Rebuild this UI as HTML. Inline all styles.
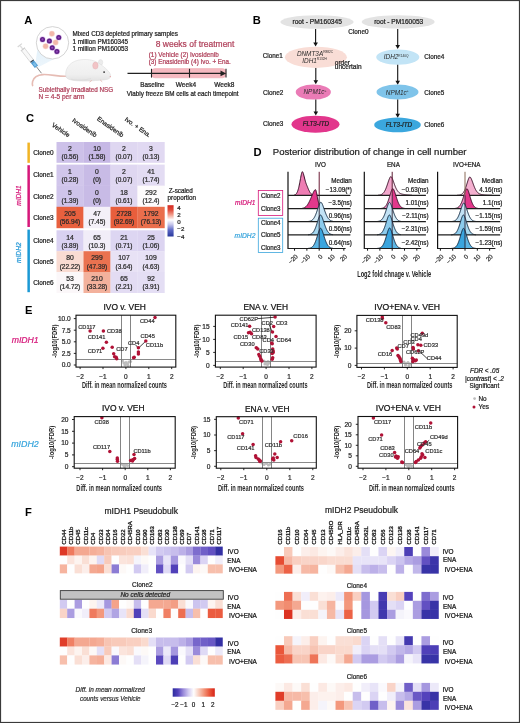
<!DOCTYPE html>
<html><head><meta charset="utf-8"><style>
html,body{margin:0;padding:0;background:#fff;overflow:hidden;}
svg{display:block;will-change:transform;}
text{font-family:"Liberation Sans",sans-serif;}
</style></head><body>
<svg width="520" height="723" viewBox="0 0 520 723">
<rect x="0" y="0" width="520" height="723" fill="#fff"/>
<text x="24.30" y="23.80" font-size="11.2" fill="#000" font-weight="bold">A</text>
<defs><linearGradient id="cone" x1="0" y1="0" x2="0" y2="1"><stop offset="0" stop-color="#d8ecf8" stop-opacity="0.9"/><stop offset="1" stop-color="#cfe6f6" stop-opacity="0.5"/></linearGradient></defs>
<polygon points="37.5,49 55,58.5 38.2,67.2 35.2,64.2" fill="url(#cone)" opacity="0.75"/>
<circle cx="52.5" cy="42.8" r="16.2" fill="#fff" stroke="#c9c9c9" stroke-width="0.8"/>
<circle cx="51.9" cy="33.75" r="3.0" fill="#f6cbc0" opacity="0.7"/><circle cx="51.9" cy="33.75" r="2.4" fill="#f2b8aa"/>
<circle cx="55.6" cy="42.5" r="3.0" fill="#f6cbc0" opacity="0.7"/><circle cx="55.6" cy="42.5" r="2.4" fill="#f2b8aa"/>
<circle cx="45.6" cy="46.25" r="3.0" fill="#f6cbc0" opacity="0.7"/><circle cx="45.6" cy="46.25" r="2.4" fill="#f2b8aa"/>
<circle cx="42.5" cy="39.4" r="3.1" fill="#c890e0" opacity="0.5"/><circle cx="42.5" cy="39.4" r="2.5" fill="#5e1f86"/><circle cx="42.5" cy="39.4" r="1.1" fill="#9248b8"/>
<circle cx="49.4" cy="41" r="3.1" fill="#c890e0" opacity="0.5"/><circle cx="49.4" cy="41" r="2.5" fill="#5e1f86"/><circle cx="49.4" cy="41" r="1.1" fill="#9248b8"/>
<circle cx="58.75" cy="37.5" r="3.1" fill="#c890e0" opacity="0.5"/><circle cx="58.75" cy="37.5" r="2.5" fill="#5e1f86"/><circle cx="58.75" cy="37.5" r="1.1" fill="#9248b8"/>
<circle cx="52.25" cy="47.75" r="3.1" fill="#c890e0" opacity="0.5"/><circle cx="52.25" cy="47.75" r="2.5" fill="#5e1f86"/><circle cx="52.25" cy="47.75" r="1.1" fill="#9248b8"/>
<circle cx="56.9" cy="51.6" r="3.1" fill="#c890e0" opacity="0.5"/><circle cx="56.9" cy="51.6" r="2.5" fill="#5e1f86"/><circle cx="56.9" cy="51.6" r="1.1" fill="#9248b8"/>
<g transform="translate(19.8,45.3) rotate(52.2)"><rect x="-0.6" y="-2.7" width="1.2" height="5.4" fill="#d6d6d6"/><rect x="0.5" y="-0.7" width="4.4" height="1.4" fill="#dedede"/><rect x="4.6" y="-2.6" width="1" height="5.2" fill="#cacaca"/><rect x="5.4" y="-2.0" width="14.4" height="4.0" fill="#f8f8f8" stroke="#c6c6c6" stroke-width="0.6"/><rect x="19.4" y="-2.0" width="1.3" height="4.0" fill="#3a4a5a"/><rect x="20.7" y="-2.0" width="6.4" height="4.0" fill="#4d9ad2"/><rect x="22.5" y="-1.2" width="3.8" height="2.4" fill="#7cbce6"/><line x1="27.1" y1="0" x2="35.4" y2="0" stroke="#555" stroke-width="0.65"/></g>
<path d="M66,76.3 C58,76.6 50,74.2 43,74.6 C37,75 33.5,78 32.6,81.5 C32.2,83.2 32.3,84.6 32.6,85.6" fill="none" stroke="#e6bcb4" stroke-width="1.6" stroke-linecap="round"/>
<defs><linearGradient id="mb" x1="0" y1="0" x2="0" y2="1"><stop offset="0" stop-color="#f6f6f6"/><stop offset="0.7" stop-color="#efefef"/><stop offset="1" stop-color="#e2e2e2"/></linearGradient></defs>
<ellipse cx="100.6" cy="62.4" rx="2.2" ry="2.8" fill="#ececec" stroke="#dcdcdc" stroke-width="0.4"/>
<path d="M66,77 C64.5,70 68.5,62.5 78,60.2 C86,58.6 93,59.8 97.5,62.5 C101.5,64.8 106,68.2 109,72 C111.5,75 111.2,78.3 107.5,79.3 C102,80.6 96,80.4 92,80.8 C86,81.3 80,81 74,80.5 C70,80 67,79 66,77 Z" fill="url(#mb)" stroke="#d8d8d8" stroke-width="0.5"/>
<path d="M71,79.2 C77,80.6 85,80.2 91,78.6" fill="none" stroke="#dadada" stroke-width="0.7"/>
<ellipse cx="95.4" cy="65.6" rx="2.7" ry="3.5" fill="#f2c4c6" stroke="#e0aeb2" stroke-width="0.4"/>
<circle cx="104.1" cy="72.1" r="0.85" fill="#2a2a2a"/>
<circle cx="110.3" cy="76.6" r="0.7" fill="#e8a0a0"/>
<path d="M91.5,80.6 l-1.6,1.2 M100.5,80.2 l1.4,1.3" stroke="#e5bab2" stroke-width="0.9" stroke-linecap="round"/>
<text x="72.50" y="35.50" font-size="6.33" fill="#1e1e1e" textLength="105.5" lengthAdjust="spacingAndGlyphs" stroke="#1e1e1e" stroke-width="0.22">Mixed CD3 depleted primary samples</text>
<text x="72.50" y="43.80" font-size="6.33" fill="#1e1e1e" stroke="#1e1e1e" stroke-width="0.22">1 million PM160345</text>
<text x="72.50" y="51.40" font-size="6.33" fill="#1e1e1e" stroke="#1e1e1e" stroke-width="0.22">1 million PM160053</text>
<text x="155.75" y="46.60" font-size="8.5" fill="#b0405a" textLength="78.7" lengthAdjust="spacingAndGlyphs" stroke="#b0405a" stroke-width="0.22">8 weeks of treatment</text>
<text x="148.75" y="56.50" font-size="6.3" fill="#b0405a" textLength="70" lengthAdjust="spacingAndGlyphs" stroke="#b0405a" stroke-width="0.22">(1) Vehicle (2) Ivosidenib</text>
<text x="148.75" y="63.80" font-size="6.3" fill="#b0405a" textLength="82" lengthAdjust="spacingAndGlyphs" stroke="#b0405a" stroke-width="0.22">(3) Enasidenib (4) Ivo. + Ena.</text>
<rect x="151.5" y="68.6" width="74.4" height="9.2" rx="3.5" fill="#f6b9c0" stroke="#eea2ad" stroke-width="0.5"/>
<line x1="127.5" y1="73.4" x2="222" y2="73.4" stroke="#222" stroke-width="1.1"/>
<polygon points="220.5,70.6 226.2,73.4 220.5,76.2" fill="#222"/>
<line x1="151.5" y1="68.8" x2="151.5" y2="77.6" stroke="#222" stroke-width="1.1"/>
<line x1="189.5" y1="68.8" x2="189.5" y2="77.6" stroke="#222" stroke-width="1.1"/>
<line x1="226.0" y1="68.8" x2="226.0" y2="77.6" stroke="#222" stroke-width="1.1"/>
<text x="140.30" y="86.60" font-size="6.4" fill="#1e1e1e" textLength="24.3" lengthAdjust="spacingAndGlyphs" stroke="#1e1e1e" stroke-width="0.22">Baseline</text>
<text x="175.80" y="86.60" font-size="6.4" fill="#1e1e1e" textLength="20.3" lengthAdjust="spacingAndGlyphs" stroke="#1e1e1e" stroke-width="0.22">Week4</text>
<text x="214.30" y="86.60" font-size="6.4" fill="#1e1e1e" textLength="20.1" lengthAdjust="spacingAndGlyphs" stroke="#1e1e1e" stroke-width="0.22">Week8</text>
<text x="126.80" y="95.70" font-size="6.4" fill="#1e1e1e" textLength="111.8" lengthAdjust="spacingAndGlyphs" stroke="#1e1e1e" stroke-width="0.22">Viably freeze BM cells at each timepoint</text>
<text x="38.60" y="91.60" font-size="6.33" fill="#b0405a" textLength="74.6" lengthAdjust="spacingAndGlyphs" stroke="#b0405a" stroke-width="0.22">Sublethally irradiated NSG</text>
<text x="38.60" y="99.40" font-size="6.4" fill="#b0405a" textLength="45.9" lengthAdjust="spacingAndGlyphs" stroke="#b0405a" stroke-width="0.22">N = 4-5 per arm</text>
<text x="252.80" y="23.90" font-size="11.2" fill="#000" font-weight="bold">B</text>
<ellipse cx="317" cy="22" rx="36.7" ry="6.7" fill="#e3e3e3"/>
<text x="317.20" y="24.00" font-size="6.6" fill="#1e1e1e" text-anchor="middle" textLength="49.5" lengthAdjust="spacingAndGlyphs" stroke="#1e1e1e" stroke-width="0.22">root - PM160345</text>
<ellipse cx="398.2" cy="21.9" rx="36.5" ry="6.6" fill="#e3e3e3"/>
<text x="398.70" y="24.00" font-size="6.6" fill="#1e1e1e" text-anchor="middle" textLength="49.1" lengthAdjust="spacingAndGlyphs" stroke="#1e1e1e" stroke-width="0.22">root - PM160053</text>
<text x="348.30" y="33.80" font-size="6.4" fill="#1e1e1e" textLength="20.2" lengthAdjust="spacingAndGlyphs" stroke="#1e1e1e" stroke-width="0.22">Clone0</text>
<line x1="315.6" y1="29" x2="315.6" y2="43.3" stroke="#111" stroke-width="1.1"/>
<polygon points="313.3,42.5 315.6,46.5 317.90000000000003,42.5" fill="#111"/>
<line x1="397.7" y1="29" x2="397.7" y2="45.8" stroke="#111" stroke-width="1.1"/>
<polygon points="395.4,45 397.7,49 400.0,45" fill="#111"/>
<ellipse cx="315.9" cy="57.3" rx="31" ry="10.6" fill="#f9ddd6"/>
<text x="296.9" y="55.9" font-size="6.4" font-style="italic" fill="#2a2a2a">DNMT3A<tspan font-size="3.2" dy="-2.6" font-style="normal">R882C</tspan></text>
<text x="302.3" y="62.7" font-size="6.4" font-style="italic" fill="#2a2a2a">IDH1<tspan font-size="3.2" dy="-2.6" font-style="normal">R132H</tspan></text>
<text x="334.80" y="64.50" font-size="6.5" fill="#1e1e1e" stroke="#1e1e1e" stroke-width="0.22">order</text>
<text x="334.80" y="69.30" font-size="6.5" fill="#1e1e1e" stroke="#1e1e1e" stroke-width="0.22">uncertain</text>
<text x="262.70" y="58.00" font-size="6.4" fill="#1e1e1e" textLength="20.1" lengthAdjust="spacingAndGlyphs" stroke="#1e1e1e" stroke-width="0.22">Clone1</text>
<line x1="315.8" y1="68" x2="315.8" y2="81.0" stroke="#111" stroke-width="1.1"/>
<polygon points="313.5,80.2 315.8,84.2 318.1,80.2" fill="#111"/>
<ellipse cx="313.3" cy="92.1" rx="17.6" ry="7.5" fill="#ea7bb6"/>
<text x="303.5" y="94.4" font-size="6.4" font-style="italic" fill="#2a2a2a">NPM1c<tspan font-size="3.4" dy="-2.6" font-style="normal">+</tspan></text>
<text x="263.00" y="94.50" font-size="6.4" fill="#1e1e1e" textLength="20.3" lengthAdjust="spacingAndGlyphs" stroke="#1e1e1e" stroke-width="0.22">Clone2</text>
<line x1="315.8" y1="99.6" x2="315.8" y2="112.39999999999999" stroke="#111" stroke-width="1.1"/>
<polygon points="313.5,111.6 315.8,115.6 318.1,111.6" fill="#111"/>
<ellipse cx="315.5" cy="124.2" rx="24" ry="8.5" fill="#e2368c"/>
<text x="302.70" y="126.30" font-size="6.4" fill="#1e1e1e" font-style="italic" textLength="26.3" lengthAdjust="spacingAndGlyphs" stroke="#1e1e1e" stroke-width="0.22">FLT3-ITD</text>
<text x="263.00" y="126.30" font-size="6.4" fill="#1e1e1e" textLength="20.3" lengthAdjust="spacingAndGlyphs" stroke="#1e1e1e" stroke-width="0.22">Clone3</text>
<ellipse cx="397.8" cy="57.1" rx="21.6" ry="7.7" fill="#c2e4f6"/>
<text x="383.8" y="59.2" font-size="6.4" font-style="italic" fill="#2a2a2a">IDH2<tspan font-size="3.2" dy="-2.6" font-style="normal">R140Q</tspan></text>
<text x="424.20" y="58.70" font-size="6.4" fill="#1e1e1e" textLength="20.2" lengthAdjust="spacingAndGlyphs" stroke="#1e1e1e" stroke-width="0.22">Clone4</text>
<line x1="397.7" y1="64.8" x2="397.7" y2="81.6" stroke="#111" stroke-width="1.1"/>
<polygon points="395.4,80.8 397.7,84.8 400.0,80.8" fill="#111"/>
<ellipse cx="397.5" cy="92" rx="21" ry="7.4" fill="#7fc4ea"/>
<text x="385.8" y="94.6" font-size="6.4" font-style="italic" fill="#2a2a2a">NPM1c<tspan font-size="3.4" dy="-2.6" font-style="normal">+</tspan></text>
<text x="424.20" y="94.70" font-size="6.4" fill="#1e1e1e" textLength="20.2" lengthAdjust="spacingAndGlyphs" stroke="#1e1e1e" stroke-width="0.22">Clone5</text>
<line x1="397.7" y1="99.4" x2="397.7" y2="114.6" stroke="#111" stroke-width="1.1"/>
<polygon points="395.4,113.8 397.7,117.8 400.0,113.8" fill="#111"/>
<ellipse cx="397.5" cy="124.9" rx="23.3" ry="7.3" fill="#3ba7de"/>
<text x="385.80" y="126.90" font-size="6.4" fill="#1e1e1e" font-style="italic" textLength="26.3" lengthAdjust="spacingAndGlyphs" stroke="#1e1e1e" stroke-width="0.22">FLT3-ITD</text>
<text x="424.20" y="126.90" font-size="6.4" fill="#1e1e1e" textLength="20.2" lengthAdjust="spacingAndGlyphs" stroke="#1e1e1e" stroke-width="0.22">Clone6</text>
<text x="25.90" y="121.80" font-size="11.2" fill="#000" font-weight="bold">C</text>
<rect x="56.5" y="142" width="27.20" height="20.80" fill="#cdc1e9"/>
<rect x="83.5" y="142" width="27.20" height="20.80" fill="#c6b8e5"/>
<rect x="110.5" y="142" width="27.20" height="20.80" fill="#dfd7f1"/>
<rect x="137.5" y="142" width="27.20" height="20.80" fill="#e1d9f2"/>
<rect x="56.5" y="164.6" width="27.20" height="21.30" fill="#d1c6eb"/>
<rect x="83.5" y="164.6" width="27.20" height="21.30" fill="#c8bbe6"/>
<rect x="110.5" y="164.6" width="27.20" height="21.30" fill="#dfd7f1"/>
<rect x="137.5" y="164.6" width="27.20" height="21.30" fill="#e3dcf3"/>
<rect x="56.5" y="185.7" width="27.20" height="21.30" fill="#cfc4ea"/>
<rect x="83.5" y="185.7" width="27.20" height="21.30" fill="#c8bbe6"/>
<rect x="110.5" y="185.7" width="27.20" height="21.30" fill="#dfd7f1"/>
<rect x="137.5" y="185.7" width="27.20" height="21.30" fill="#fdfbfc"/>
<rect x="56.5" y="206.8" width="27.20" height="21.40" fill="#e8603e"/>
<rect x="83.5" y="206.8" width="27.20" height="21.40" fill="#f4f0f8"/>
<rect x="110.5" y="206.8" width="27.20" height="21.40" fill="#e85e3c"/>
<rect x="137.5" y="206.8" width="27.20" height="21.40" fill="#ea6e4c"/>
<rect x="56.5" y="230.3" width="27.20" height="21.10" fill="#d9d1f1"/>
<rect x="83.5" y="230.3" width="27.20" height="21.10" fill="#f1edf8"/>
<rect x="110.5" y="230.3" width="27.20" height="21.10" fill="#ddd6f2"/>
<rect x="137.5" y="230.3" width="27.20" height="21.10" fill="#dcd4f1"/>
<rect x="56.5" y="251.2" width="27.20" height="21.00" fill="#f9dbd2"/>
<rect x="83.5" y="251.2" width="27.20" height="21.00" fill="#ea7250"/>
<rect x="110.5" y="251.2" width="27.20" height="21.00" fill="#e8e2f5"/>
<rect x="137.5" y="251.2" width="27.20" height="21.00" fill="#e7e1f5"/>
<rect x="56.5" y="272.0" width="27.20" height="21.00" fill="#fbf7f9"/>
<rect x="83.5" y="272.0" width="27.20" height="21.00" fill="#f3b19c"/>
<rect x="110.5" y="272.0" width="27.20" height="21.00" fill="#e3dcf3"/>
<rect x="137.5" y="272.0" width="27.20" height="21.00" fill="#e4def4"/>
<text x="70.00" y="151.10" font-size="6.8" fill="#2a2a2a" text-anchor="middle" stroke="#2a2a2a" stroke-width="0.22">2</text>
<text x="70.00" y="159.20" font-size="6.5" fill="#2a2a2a" text-anchor="middle" stroke="#2a2a2a" stroke-width="0.22">(0.56)</text>
<text x="97.00" y="151.10" font-size="6.8" fill="#2a2a2a" text-anchor="middle" stroke="#2a2a2a" stroke-width="0.22">10</text>
<text x="97.00" y="159.20" font-size="6.5" fill="#2a2a2a" text-anchor="middle" stroke="#2a2a2a" stroke-width="0.22">(1.58)</text>
<text x="124.00" y="151.10" font-size="6.8" fill="#2a2a2a" text-anchor="middle" stroke="#2a2a2a" stroke-width="0.22">2</text>
<text x="124.00" y="159.20" font-size="6.5" fill="#2a2a2a" text-anchor="middle" stroke="#2a2a2a" stroke-width="0.22">(0.07)</text>
<text x="151.00" y="151.10" font-size="6.8" fill="#2a2a2a" text-anchor="middle" stroke="#2a2a2a" stroke-width="0.22">3</text>
<text x="151.00" y="159.20" font-size="6.5" fill="#2a2a2a" text-anchor="middle" stroke="#2a2a2a" stroke-width="0.22">(0.13)</text>
<text x="70.00" y="173.95" font-size="6.8" fill="#2a2a2a" text-anchor="middle" stroke="#2a2a2a" stroke-width="0.22">1</text>
<text x="70.00" y="182.05" font-size="6.5" fill="#2a2a2a" text-anchor="middle" stroke="#2a2a2a" stroke-width="0.22">(0.28)</text>
<text x="97.00" y="173.95" font-size="6.8" fill="#2a2a2a" text-anchor="middle" stroke="#2a2a2a" stroke-width="0.22">0</text>
<text x="97.00" y="182.05" font-size="6.5" fill="#2a2a2a" text-anchor="middle" stroke="#2a2a2a" stroke-width="0.22">(0)</text>
<text x="124.00" y="173.95" font-size="6.8" fill="#2a2a2a" text-anchor="middle" stroke="#2a2a2a" stroke-width="0.22">2</text>
<text x="124.00" y="182.05" font-size="6.5" fill="#2a2a2a" text-anchor="middle" stroke="#2a2a2a" stroke-width="0.22">(0.07)</text>
<text x="151.00" y="173.95" font-size="6.8" fill="#2a2a2a" text-anchor="middle" stroke="#2a2a2a" stroke-width="0.22">41</text>
<text x="151.00" y="182.05" font-size="6.5" fill="#2a2a2a" text-anchor="middle" stroke="#2a2a2a" stroke-width="0.22">(1.74)</text>
<text x="70.00" y="195.05" font-size="6.8" fill="#2a2a2a" text-anchor="middle" stroke="#2a2a2a" stroke-width="0.22">5</text>
<text x="70.00" y="203.15" font-size="6.5" fill="#2a2a2a" text-anchor="middle" stroke="#2a2a2a" stroke-width="0.22">(1.39)</text>
<text x="97.00" y="195.05" font-size="6.8" fill="#2a2a2a" text-anchor="middle" stroke="#2a2a2a" stroke-width="0.22">0</text>
<text x="97.00" y="203.15" font-size="6.5" fill="#2a2a2a" text-anchor="middle" stroke="#2a2a2a" stroke-width="0.22">(0)</text>
<text x="124.00" y="195.05" font-size="6.8" fill="#2a2a2a" text-anchor="middle" stroke="#2a2a2a" stroke-width="0.22">18</text>
<text x="124.00" y="203.15" font-size="6.5" fill="#2a2a2a" text-anchor="middle" stroke="#2a2a2a" stroke-width="0.22">(0.61)</text>
<text x="151.00" y="195.05" font-size="6.8" fill="#2a2a2a" text-anchor="middle" stroke="#2a2a2a" stroke-width="0.22">292</text>
<text x="151.00" y="203.15" font-size="6.5" fill="#2a2a2a" text-anchor="middle" stroke="#2a2a2a" stroke-width="0.22">(12.4)</text>
<text x="70.00" y="216.20" font-size="6.8" fill="#2a2a2a" text-anchor="middle" stroke="#2a2a2a" stroke-width="0.22">205</text>
<text x="70.00" y="224.30" font-size="6.5" fill="#2a2a2a" text-anchor="middle" stroke="#2a2a2a" stroke-width="0.22">(56.94)</text>
<text x="97.00" y="216.20" font-size="6.8" fill="#2a2a2a" text-anchor="middle" stroke="#2a2a2a" stroke-width="0.22">47</text>
<text x="97.00" y="224.30" font-size="6.5" fill="#2a2a2a" text-anchor="middle" stroke="#2a2a2a" stroke-width="0.22">(7.45)</text>
<text x="124.00" y="216.20" font-size="6.8" fill="#2a2a2a" text-anchor="middle" stroke="#2a2a2a" stroke-width="0.22">2728</text>
<text x="124.00" y="224.30" font-size="6.5" fill="#2a2a2a" text-anchor="middle" stroke="#2a2a2a" stroke-width="0.22">(92.69)</text>
<text x="151.00" y="216.20" font-size="6.8" fill="#2a2a2a" text-anchor="middle" stroke="#2a2a2a" stroke-width="0.22">1792</text>
<text x="151.00" y="224.30" font-size="6.5" fill="#2a2a2a" text-anchor="middle" stroke="#2a2a2a" stroke-width="0.22">(76.13)</text>
<text x="70.00" y="239.55" font-size="6.8" fill="#2a2a2a" text-anchor="middle" stroke="#2a2a2a" stroke-width="0.22">14</text>
<text x="70.00" y="247.65" font-size="6.5" fill="#2a2a2a" text-anchor="middle" stroke="#2a2a2a" stroke-width="0.22">(3.89)</text>
<text x="97.00" y="239.55" font-size="6.8" fill="#2a2a2a" text-anchor="middle" stroke="#2a2a2a" stroke-width="0.22">65</text>
<text x="97.00" y="247.65" font-size="6.5" fill="#2a2a2a" text-anchor="middle" stroke="#2a2a2a" stroke-width="0.22">(10.3)</text>
<text x="124.00" y="239.55" font-size="6.8" fill="#2a2a2a" text-anchor="middle" stroke="#2a2a2a" stroke-width="0.22">21</text>
<text x="124.00" y="247.65" font-size="6.5" fill="#2a2a2a" text-anchor="middle" stroke="#2a2a2a" stroke-width="0.22">(0.71)</text>
<text x="151.00" y="239.55" font-size="6.8" fill="#2a2a2a" text-anchor="middle" stroke="#2a2a2a" stroke-width="0.22">25</text>
<text x="151.00" y="247.65" font-size="6.5" fill="#2a2a2a" text-anchor="middle" stroke="#2a2a2a" stroke-width="0.22">(1.06)</text>
<text x="70.00" y="260.40" font-size="6.8" fill="#2a2a2a" text-anchor="middle" stroke="#2a2a2a" stroke-width="0.22">80</text>
<text x="70.00" y="268.50" font-size="6.5" fill="#2a2a2a" text-anchor="middle" stroke="#2a2a2a" stroke-width="0.22">(22.22)</text>
<text x="97.00" y="260.40" font-size="6.8" fill="#2a2a2a" text-anchor="middle" stroke="#2a2a2a" stroke-width="0.22">299</text>
<text x="97.00" y="268.50" font-size="6.5" fill="#2a2a2a" text-anchor="middle" stroke="#2a2a2a" stroke-width="0.22">(47.39)</text>
<text x="124.00" y="260.40" font-size="6.8" fill="#2a2a2a" text-anchor="middle" stroke="#2a2a2a" stroke-width="0.22">107</text>
<text x="124.00" y="268.50" font-size="6.5" fill="#2a2a2a" text-anchor="middle" stroke="#2a2a2a" stroke-width="0.22">(3.64)</text>
<text x="151.00" y="260.40" font-size="6.8" fill="#2a2a2a" text-anchor="middle" stroke="#2a2a2a" stroke-width="0.22">109</text>
<text x="151.00" y="268.50" font-size="6.5" fill="#2a2a2a" text-anchor="middle" stroke="#2a2a2a" stroke-width="0.22">(4.63)</text>
<text x="70.00" y="281.20" font-size="6.8" fill="#2a2a2a" text-anchor="middle" stroke="#2a2a2a" stroke-width="0.22">53</text>
<text x="70.00" y="289.30" font-size="6.5" fill="#2a2a2a" text-anchor="middle" stroke="#2a2a2a" stroke-width="0.22">(14.72)</text>
<text x="97.00" y="281.20" font-size="6.8" fill="#2a2a2a" text-anchor="middle" stroke="#2a2a2a" stroke-width="0.22">210</text>
<text x="97.00" y="289.30" font-size="6.5" fill="#2a2a2a" text-anchor="middle" stroke="#2a2a2a" stroke-width="0.22">(33.28)</text>
<text x="124.00" y="281.20" font-size="6.8" fill="#2a2a2a" text-anchor="middle" stroke="#2a2a2a" stroke-width="0.22">65</text>
<text x="124.00" y="289.30" font-size="6.5" fill="#2a2a2a" text-anchor="middle" stroke="#2a2a2a" stroke-width="0.22">(2.21)</text>
<text x="151.00" y="281.20" font-size="6.8" fill="#2a2a2a" text-anchor="middle" stroke="#2a2a2a" stroke-width="0.22">92</text>
<text x="151.00" y="289.30" font-size="6.5" fill="#2a2a2a" text-anchor="middle" stroke="#2a2a2a" stroke-width="0.22">(3.91)</text>
<rect x="27.4" y="142.6" width="2.5" height="20.2" fill="#f1b425"/>
<rect x="27.4" y="165.2" width="2.5" height="61.8" fill="#d6187a"/>
<rect x="27.4" y="229.6" width="2.5" height="62.6" fill="#1b99d5"/>
<text x="33.20" y="154.60" font-size="6.4" fill="#1e1e1e" textLength="20.4" lengthAdjust="spacingAndGlyphs" stroke="#1e1e1e" stroke-width="0.22">Clone0</text>
<text x="33.20" y="177.45" font-size="6.4" fill="#1e1e1e" textLength="20.4" lengthAdjust="spacingAndGlyphs" stroke="#1e1e1e" stroke-width="0.22">Clone1</text>
<text x="33.20" y="198.55" font-size="6.4" fill="#1e1e1e" textLength="20.4" lengthAdjust="spacingAndGlyphs" stroke="#1e1e1e" stroke-width="0.22">Clone2</text>
<text x="33.20" y="219.70" font-size="6.4" fill="#1e1e1e" textLength="20.4" lengthAdjust="spacingAndGlyphs" stroke="#1e1e1e" stroke-width="0.22">Clone3</text>
<text x="33.20" y="243.05" font-size="6.4" fill="#1e1e1e" textLength="20.4" lengthAdjust="spacingAndGlyphs" stroke="#1e1e1e" stroke-width="0.22">Clone4</text>
<text x="33.20" y="263.90" font-size="6.4" fill="#1e1e1e" textLength="20.4" lengthAdjust="spacingAndGlyphs" stroke="#1e1e1e" stroke-width="0.22">Clone5</text>
<text x="33.20" y="284.70" font-size="6.4" fill="#1e1e1e" textLength="20.4" lengthAdjust="spacingAndGlyphs" stroke="#1e1e1e" stroke-width="0.22">Clone6</text>
<text transform="translate(21.4,195.5) rotate(-90)" text-anchor="middle" font-size="6.6" font-style="italic" fill="#d6187a" stroke="#d6187a" stroke-width="0.2">mIDH1</text>
<text transform="translate(21.4,252.7) rotate(-90)" text-anchor="middle" font-size="6.6" font-style="italic" fill="#2a9ad8" stroke="#2a9ad8" stroke-width="0.2">mIDH2</text>
<text transform="translate(68,137.6) rotate(35)" text-anchor="end" font-size="6.3" fill="#1e1e1e" stroke="#1e1e1e" stroke-width="0.22">Vehicle</text>
<text transform="translate(95,137.6) rotate(35)" text-anchor="end" font-size="6.3" fill="#1e1e1e" stroke="#1e1e1e" stroke-width="0.22">Ivosidenib</text>
<text transform="translate(122,137.6) rotate(35)" text-anchor="end" font-size="6.3" fill="#1e1e1e" stroke="#1e1e1e" stroke-width="0.22">Enasidenib</text>
<text transform="translate(149,137.6) rotate(35)" text-anchor="end" font-size="6.3" fill="#1e1e1e" stroke="#1e1e1e" stroke-width="0.22">Ivo. + Ena.</text>
<text x="168.70" y="192.60" font-size="6.3" fill="#1e1e1e" textLength="24.2" lengthAdjust="spacingAndGlyphs" stroke="#1e1e1e" stroke-width="0.22">Z-scaled</text>
<text x="167.50" y="199.60" font-size="6.3" fill="#1e1e1e" textLength="28.5" lengthAdjust="spacingAndGlyphs" stroke="#1e1e1e" stroke-width="0.22">proportion</text>
<defs><linearGradient id="zg" x1="0" y1="0" x2="0" y2="1"><stop offset="0" stop-color="#d42a22"/><stop offset="0.15" stop-color="#e04a3a"/><stop offset="0.3" stop-color="#f29a88"/><stop offset="0.47" stop-color="#ffffff"/><stop offset="0.62" stop-color="#c4c4ea"/><stop offset="0.8" stop-color="#5a66c4"/><stop offset="1" stop-color="#28389c"/></linearGradient></defs>
<rect x="167.5" y="205.2" width="6.1" height="31.3" fill="url(#zg)"/>
<text x="177.30" y="209.90" font-size="6.2" fill="#1e1e1e" stroke="#1e1e1e" stroke-width="0.22">4</text>
<text x="177.30" y="216.60" font-size="6.2" fill="#1e1e1e" stroke="#1e1e1e" stroke-width="0.22">2</text>
<text x="177.30" y="223.80" font-size="6.2" fill="#1e1e1e" stroke="#1e1e1e" stroke-width="0.22">0</text>
<text x="177.30" y="231.40" font-size="6.2" fill="#1e1e1e" stroke="#1e1e1e" stroke-width="0.22">−2</text>
<text x="177.30" y="238.60" font-size="6.2" fill="#1e1e1e" stroke="#1e1e1e" stroke-width="0.22">−4</text>
<text x="253.60" y="155.70" font-size="11.2" fill="#000" font-weight="bold">D</text>
<text x="272.80" y="154.60" font-size="9.5" fill="#222" textLength="193.7" lengthAdjust="spacingAndGlyphs" stroke="#222" stroke-width="0.22">Posterior distribution of change in cell number</text>
<text x="320.40" y="167.40" font-size="6.3" fill="#1e1e1e" text-anchor="middle" stroke="#1e1e1e" stroke-width="0.22">IVO</text>
<line x1="288.0" y1="171.8" x2="288.0" y2="249.1" stroke="#111" stroke-width="1.2"/>
<path d="M294.00,195.3 L294.00,195.10 L294.25,195.04 L294.50,194.97 L294.75,194.88 L295.00,194.77 L295.25,194.64 L295.50,194.48 L295.75,194.29 L296.00,194.05 L296.25,193.78 L296.50,193.45 L296.75,193.07 L297.00,192.63 L297.25,192.12 L297.50,191.54 L297.75,190.88 L298.00,190.13 L298.25,189.30 L298.50,188.38 L298.75,187.38 L299.00,186.29 L299.25,185.12 L299.50,183.89 L299.75,182.60 L300.00,181.27 L300.25,179.91 L300.50,178.56 L300.75,177.23 L301.00,175.96 L301.25,174.77 L301.50,173.72 L301.75,172.82 L302.00,172.14 L302.25,171.73 L302.50,171.74 L302.75,172.07 L303.00,172.60 L303.25,173.30 L303.50,174.12 L303.75,175.03 L304.00,175.99 L304.25,176.99 L304.50,178.00 L304.75,178.99 L305.00,179.95 L305.25,180.86 L305.50,181.73 L305.75,182.53 L306.00,183.29 L306.25,183.98 L306.50,184.63 L306.75,185.24 L307.00,185.83 L307.25,186.40 L307.50,187.01 L307.75,187.64 L308.00,188.25 L308.25,188.86 L308.50,189.44 L308.75,190.00 L309.00,190.54 L309.25,191.04 L309.50,191.51 L309.75,191.96 L310.00,192.36 L310.25,192.74 L310.50,193.08 L310.75,193.38 L311.00,193.66 L311.25,193.90 L311.50,194.12 L311.75,194.31 L312.00,194.47 L312.25,194.61 L312.50,194.73 L312.75,194.83 L313.00,194.92 L313.00,195.3 Z" fill="#ee7db3"/>
<path d="M294.00,195.10 L294.25,195.04 L294.50,194.97 L294.75,194.88 L295.00,194.77 L295.25,194.64 L295.50,194.48 L295.75,194.29 L296.00,194.05 L296.25,193.78 L296.50,193.45 L296.75,193.07 L297.00,192.63 L297.25,192.12 L297.50,191.54 L297.75,190.88 L298.00,190.13 L298.25,189.30 L298.50,188.38 L298.75,187.38 L299.00,186.29 L299.25,185.12 L299.50,183.89 L299.75,182.60 L300.00,181.27 L300.25,179.91 L300.50,178.56 L300.75,177.23 L301.00,175.96 L301.25,174.77 L301.50,173.72 L301.75,172.82 L302.00,172.14 L302.25,171.73 L302.50,171.74 L302.75,172.07 L303.00,172.60 L303.25,173.30 L303.50,174.12 L303.75,175.03 L304.00,175.99 L304.25,176.99 L304.50,178.00 L304.75,178.99 L305.00,179.95 L305.25,180.86 L305.50,181.73 L305.75,182.53 L306.00,183.29 L306.25,183.98 L306.50,184.63 L306.75,185.24 L307.00,185.83 L307.25,186.40 L307.50,187.01 L307.75,187.64 L308.00,188.25 L308.25,188.86 L308.50,189.44 L308.75,190.00 L309.00,190.54 L309.25,191.04 L309.50,191.51 L309.75,191.96 L310.00,192.36 L310.25,192.74 L310.50,193.08 L310.75,193.38 L311.00,193.66 L311.25,193.90 L311.50,194.12 L311.75,194.31 L312.00,194.47 L312.25,194.61 L312.50,194.73 L312.75,194.83 L313.00,194.92" fill="none" stroke="#3a1028" stroke-width="1.0" stroke-linejoin="round"/>
<line x1="288.0" y1="195.3" x2="350.4" y2="195.3" stroke="#1e1e1e" stroke-width="1.2"/>
<path d="M302.00,208.6 L302.00,208.36 L302.25,208.32 L302.50,208.27 L302.75,208.22 L303.00,208.16 L303.25,208.09 L303.50,208.01 L303.75,207.92 L304.00,207.82 L304.25,207.71 L304.50,207.59 L304.75,207.45 L305.00,207.30 L305.25,207.13 L305.50,206.94 L305.75,206.74 L306.00,206.52 L306.25,206.28 L306.50,206.02 L306.75,205.74 L307.00,205.43 L307.25,205.11 L307.50,204.76 L307.75,204.39 L308.00,204.00 L308.25,203.58 L308.50,203.14 L308.75,202.69 L309.00,202.21 L309.25,201.71 L309.50,201.19 L309.75,200.66 L310.00,200.12 L310.25,199.58 L310.50,199.03 L310.75,198.47 L311.00,197.90 L311.25,197.32 L311.50,196.74 L311.75,196.14 L312.00,195.54 L312.25,194.94 L312.50,194.35 L312.75,193.76 L313.00,193.18 L313.25,192.62 L313.50,192.09 L313.75,191.59 L314.00,191.12 L314.25,190.70 L314.50,190.33 L314.75,190.03 L315.00,189.80 L315.25,189.66 L315.50,189.63 L315.75,189.94 L316.00,190.60 L316.25,191.50 L316.50,192.59 L316.75,193.80 L317.00,195.09 L317.25,196.41 L317.50,197.73 L317.75,199.01 L318.00,200.23 L318.25,201.37 L318.50,202.42 L318.75,203.38 L319.00,204.22 L319.25,204.97 L319.25,208.6 Z" fill="#e2388b"/>
<path d="M319.25,208.6 L319.25,204.97 L319.50,205.61 L319.75,206.17 L320.00,206.64 L320.25,207.03 L320.50,207.36 L320.75,207.62 L321.00,207.84 L321.25,208.01 L321.50,208.15 L321.50,208.6 Z" fill="#ef8cbf"/>
<path d="M302.00,208.36 L302.25,208.32 L302.50,208.27 L302.75,208.22 L303.00,208.16 L303.25,208.09 L303.50,208.01 L303.75,207.92 L304.00,207.82 L304.25,207.71 L304.50,207.59 L304.75,207.45 L305.00,207.30 L305.25,207.13 L305.50,206.94 L305.75,206.74 L306.00,206.52 L306.25,206.28 L306.50,206.02 L306.75,205.74 L307.00,205.43 L307.25,205.11 L307.50,204.76 L307.75,204.39 L308.00,204.00 L308.25,203.58 L308.50,203.14 L308.75,202.69 L309.00,202.21 L309.25,201.71 L309.50,201.19 L309.75,200.66 L310.00,200.12 L310.25,199.58 L310.50,199.03 L310.75,198.47 L311.00,197.90 L311.25,197.32 L311.50,196.74 L311.75,196.14 L312.00,195.54 L312.25,194.94 L312.50,194.35 L312.75,193.76 L313.00,193.18 L313.25,192.62 L313.50,192.09 L313.75,191.59 L314.00,191.12 L314.25,190.70 L314.50,190.33 L314.75,190.03 L315.00,189.80 L315.25,189.66 L315.50,189.63 L315.75,189.94 L316.00,190.60 L316.25,191.50 L316.50,192.59 L316.75,193.80 L317.00,195.09 L317.25,196.41 L317.50,197.73 L317.75,199.01 L318.00,200.23 L318.25,201.37 L318.50,202.42 L318.75,203.38 L319.00,204.22 L319.25,204.97 L319.50,205.61 L319.75,206.17 L320.00,206.64 L320.25,207.03 L320.50,207.36 L320.75,207.62 L321.00,207.84 L321.25,208.01 L321.50,208.15" fill="none" stroke="#3a1028" stroke-width="1.0" stroke-linejoin="round"/>
<line x1="288.0" y1="208.6" x2="350.4" y2="208.6" stroke="#1e1e1e" stroke-width="1.2"/>
<path d="M308.00,221.6 L308.00,221.48 L308.25,221.46 L308.50,221.43 L308.75,221.40 L309.00,221.36 L309.25,221.32 L309.50,221.28 L309.75,221.22 L310.00,221.16 L310.25,221.08 L310.50,221.00 L310.75,220.91 L311.00,220.80 L311.25,220.68 L311.50,220.54 L311.75,220.39 L312.00,220.22 L312.25,220.02 L312.50,219.81 L312.75,219.57 L313.00,219.31 L313.25,219.03 L313.50,218.71 L313.75,218.37 L314.00,217.99 L314.25,217.58 L314.50,217.15 L314.75,216.67 L315.00,216.17 L315.25,215.63 L315.50,215.06 L315.75,214.46 L316.00,213.82 L316.25,213.16 L316.50,212.47 L316.75,211.76 L317.00,211.03 L317.25,210.29 L317.50,209.53 L317.75,208.77 L318.00,208.01 L318.25,207.26 L318.50,206.53 L318.75,205.82 L319.00,205.14 L319.25,204.50 L319.25,221.6 Z" fill="#d6edf9"/>
<path d="M319.25,221.6 L319.25,204.50 L319.50,203.92 L319.75,203.40 L320.00,202.96 L320.25,202.60 L320.50,202.34 L320.75,202.21 L321.00,202.26 L321.25,202.45 L321.50,202.74 L321.75,203.12 L322.00,203.57 L322.25,204.08 L322.50,204.64 L322.75,205.25 L323.00,205.89 L323.25,206.57 L323.50,207.26 L323.75,207.97 L324.00,208.68 L324.25,209.40 L324.50,210.12 L324.75,210.83 L325.00,211.52 L325.25,212.20 L325.50,212.86 L325.75,213.50 L326.00,214.11 L326.25,214.70 L326.50,215.25 L326.75,215.78 L327.00,216.28 L327.25,216.75 L327.50,217.20 L327.75,217.61 L328.00,217.99 L328.25,218.35 L328.50,218.67 L328.75,218.98 L329.00,219.25 L329.25,219.50 L329.50,219.74 L329.75,219.94 L330.00,220.13 L330.25,220.30 L330.50,220.46 L330.75,220.60 L331.00,220.72 L331.25,220.83 L331.50,220.93 L331.75,221.02 L332.00,221.09 L332.25,221.16 L332.50,221.22 L332.75,221.27 L333.00,221.32 L333.00,221.6 Z" fill="#c2e2f5"/>
<path d="M308.00,221.48 L308.25,221.46 L308.50,221.43 L308.75,221.40 L309.00,221.36 L309.25,221.32 L309.50,221.28 L309.75,221.22 L310.00,221.16 L310.25,221.08 L310.50,221.00 L310.75,220.91 L311.00,220.80 L311.25,220.68 L311.50,220.54 L311.75,220.39 L312.00,220.22 L312.25,220.02 L312.50,219.81 L312.75,219.57 L313.00,219.31 L313.25,219.03 L313.50,218.71 L313.75,218.37 L314.00,217.99 L314.25,217.58 L314.50,217.15 L314.75,216.67 L315.00,216.17 L315.25,215.63 L315.50,215.06 L315.75,214.46 L316.00,213.82 L316.25,213.16 L316.50,212.47 L316.75,211.76 L317.00,211.03 L317.25,210.29 L317.50,209.53 L317.75,208.77 L318.00,208.01 L318.25,207.26 L318.50,206.53 L318.75,205.82 L319.00,205.14 L319.25,204.50 L319.50,203.92 L319.75,203.40 L320.00,202.96 L320.25,202.60 L320.50,202.34 L320.75,202.21 L321.00,202.26 L321.25,202.45 L321.50,202.74 L321.75,203.12 L322.00,203.57 L322.25,204.08 L322.50,204.64 L322.75,205.25 L323.00,205.89 L323.25,206.57 L323.50,207.26 L323.75,207.97 L324.00,208.68 L324.25,209.40 L324.50,210.12 L324.75,210.83 L325.00,211.52 L325.25,212.20 L325.50,212.86 L325.75,213.50 L326.00,214.11 L326.25,214.70 L326.50,215.25 L326.75,215.78 L327.00,216.28 L327.25,216.75 L327.50,217.20 L327.75,217.61 L328.00,217.99 L328.25,218.35 L328.50,218.67 L328.75,218.98 L329.00,219.25 L329.25,219.50 L329.50,219.74 L329.75,219.94 L330.00,220.13 L330.25,220.30 L330.50,220.46 L330.75,220.60 L331.00,220.72 L331.25,220.83 L331.50,220.93 L331.75,221.02 L332.00,221.09 L332.25,221.16 L332.50,221.22 L332.75,221.27 L333.00,221.32" fill="none" stroke="#152c44" stroke-width="1.0" stroke-linejoin="round"/>
<line x1="288.0" y1="221.6" x2="350.4" y2="221.6" stroke="#1e1e1e" stroke-width="1.2"/>
<path d="M308.00,234.9 L308.00,234.78 L308.25,234.76 L308.50,234.73 L308.75,234.70 L309.00,234.67 L309.25,234.62 L309.50,234.57 L309.75,234.51 L310.00,234.45 L310.25,234.37 L310.50,234.28 L310.75,234.18 L311.00,234.07 L311.25,233.94 L311.50,233.79 L311.75,233.63 L312.00,233.44 L312.25,233.23 L312.50,233.00 L312.75,232.74 L313.00,232.46 L313.25,232.14 L313.50,231.80 L313.75,231.42 L314.00,231.01 L314.25,230.56 L314.50,230.08 L314.75,229.56 L315.00,229.01 L315.25,228.42 L315.50,227.79 L315.75,227.13 L316.00,226.44 L316.25,225.72 L316.50,224.97 L316.75,224.20 L317.00,223.41 L317.25,222.61 L317.50,221.80 L317.75,220.99 L318.00,220.20 L318.25,219.41 L318.50,218.66 L318.75,217.94 L319.00,217.26 L319.25,216.65 L319.25,234.9 Z" fill="#a6d8f0"/>
<path d="M319.25,234.9 L319.25,216.65 L319.50,216.10 L319.75,215.63 L320.00,215.26 L320.25,215.01 L320.50,214.90 L320.75,215.00 L321.00,215.23 L321.25,215.56 L321.50,215.99 L321.75,216.48 L322.00,217.05 L322.25,217.66 L322.50,218.32 L322.75,219.02 L323.00,219.75 L323.25,220.49 L323.50,221.25 L323.75,222.01 L324.00,222.77 L324.25,223.52 L324.50,224.27 L324.75,224.99 L325.00,225.70 L325.25,226.38 L325.50,227.04 L325.75,227.66 L326.00,228.26 L326.25,228.83 L326.50,229.36 L326.75,229.86 L327.00,230.33 L327.25,230.77 L327.50,231.18 L327.75,231.56 L328.00,231.90 L328.25,232.22 L328.50,232.51 L328.75,232.78 L329.00,233.02 L329.25,233.23 L329.50,233.43 L329.75,233.61 L330.00,233.77 L330.25,233.91 L330.50,234.03 L330.75,234.15 L331.00,234.25 L331.25,234.33 L331.50,234.41 L331.75,234.48 L332.00,234.54 L332.25,234.59 L332.50,234.63 L332.75,234.67 L333.00,234.71 L333.00,234.9 Z" fill="#8ccbec"/>
<path d="M308.00,234.78 L308.25,234.76 L308.50,234.73 L308.75,234.70 L309.00,234.67 L309.25,234.62 L309.50,234.57 L309.75,234.51 L310.00,234.45 L310.25,234.37 L310.50,234.28 L310.75,234.18 L311.00,234.07 L311.25,233.94 L311.50,233.79 L311.75,233.63 L312.00,233.44 L312.25,233.23 L312.50,233.00 L312.75,232.74 L313.00,232.46 L313.25,232.14 L313.50,231.80 L313.75,231.42 L314.00,231.01 L314.25,230.56 L314.50,230.08 L314.75,229.56 L315.00,229.01 L315.25,228.42 L315.50,227.79 L315.75,227.13 L316.00,226.44 L316.25,225.72 L316.50,224.97 L316.75,224.20 L317.00,223.41 L317.25,222.61 L317.50,221.80 L317.75,220.99 L318.00,220.20 L318.25,219.41 L318.50,218.66 L318.75,217.94 L319.00,217.26 L319.25,216.65 L319.50,216.10 L319.75,215.63 L320.00,215.26 L320.25,215.01 L320.50,214.90 L320.75,215.00 L321.00,215.23 L321.25,215.56 L321.50,215.99 L321.75,216.48 L322.00,217.05 L322.25,217.66 L322.50,218.32 L322.75,219.02 L323.00,219.75 L323.25,220.49 L323.50,221.25 L323.75,222.01 L324.00,222.77 L324.25,223.52 L324.50,224.27 L324.75,224.99 L325.00,225.70 L325.25,226.38 L325.50,227.04 L325.75,227.66 L326.00,228.26 L326.25,228.83 L326.50,229.36 L326.75,229.86 L327.00,230.33 L327.25,230.77 L327.50,231.18 L327.75,231.56 L328.00,231.90 L328.25,232.22 L328.50,232.51 L328.75,232.78 L329.00,233.02 L329.25,233.23 L329.50,233.43 L329.75,233.61 L330.00,233.77 L330.25,233.91 L330.50,234.03 L330.75,234.15 L331.00,234.25 L331.25,234.33 L331.50,234.41 L331.75,234.48 L332.00,234.54 L332.25,234.59 L332.50,234.63 L332.75,234.67 L333.00,234.71" fill="none" stroke="#152c44" stroke-width="1.0" stroke-linejoin="round"/>
<line x1="288.0" y1="234.9" x2="350.4" y2="234.9" stroke="#1e1e1e" stroke-width="1.2"/>
<path d="M308.00,248.5 L308.00,248.39 L308.25,248.37 L308.50,248.34 L308.75,248.31 L309.00,248.28 L309.25,248.24 L309.50,248.19 L309.75,248.13 L310.00,248.07 L310.25,248.00 L310.50,247.91 L310.75,247.82 L311.00,247.70 L311.25,247.58 L311.50,247.44 L311.75,247.28 L312.00,247.10 L312.25,246.90 L312.50,246.67 L312.75,246.42 L313.00,246.14 L313.25,245.83 L313.50,245.50 L313.75,245.13 L314.00,244.72 L314.25,244.28 L314.50,243.81 L314.75,243.30 L315.00,242.75 L315.25,242.17 L315.50,241.54 L315.75,240.89 L316.00,240.20 L316.25,239.48 L316.50,238.73 L316.75,237.95 L317.00,237.16 L317.25,236.35 L317.50,235.53 L317.75,234.71 L318.00,233.90 L318.25,233.10 L318.50,232.32 L318.75,231.57 L319.00,230.87 L319.25,230.22 L319.25,248.5 Z" fill="#5db6e4"/>
<path d="M319.25,248.5 L319.25,230.22 L319.50,229.63 L319.75,229.12 L320.00,228.71 L320.25,228.40 L320.50,228.22 L320.75,228.24 L321.00,228.44 L321.25,228.75 L321.50,229.17 L321.75,229.67 L322.00,230.24 L322.25,230.87 L322.50,231.55 L322.75,232.28 L323.00,233.03 L323.25,233.81 L323.50,234.60 L323.75,235.39 L324.00,236.19 L324.25,236.97 L324.50,237.75 L324.75,238.51 L325.00,239.24 L325.25,239.95 L325.50,240.63 L325.75,241.28 L326.00,241.90 L326.25,242.48 L326.50,243.03 L326.75,243.55 L327.00,244.03 L327.25,244.47 L327.50,244.88 L327.75,245.26 L328.00,245.61 L328.25,245.93 L328.50,246.22 L328.75,246.48 L329.00,246.72 L329.25,246.93 L329.50,247.13 L329.75,247.30 L330.00,247.45 L330.25,247.59 L330.50,247.71 L330.75,247.82 L331.00,247.91 L331.25,247.99 L331.50,248.06 L331.75,248.13 L332.00,248.18 L332.25,248.23 L332.50,248.27 L332.75,248.30 L333.00,248.34 L333.00,248.5 Z" fill="#3aa5de"/>
<path d="M308.00,248.39 L308.25,248.37 L308.50,248.34 L308.75,248.31 L309.00,248.28 L309.25,248.24 L309.50,248.19 L309.75,248.13 L310.00,248.07 L310.25,248.00 L310.50,247.91 L310.75,247.82 L311.00,247.70 L311.25,247.58 L311.50,247.44 L311.75,247.28 L312.00,247.10 L312.25,246.90 L312.50,246.67 L312.75,246.42 L313.00,246.14 L313.25,245.83 L313.50,245.50 L313.75,245.13 L314.00,244.72 L314.25,244.28 L314.50,243.81 L314.75,243.30 L315.00,242.75 L315.25,242.17 L315.50,241.54 L315.75,240.89 L316.00,240.20 L316.25,239.48 L316.50,238.73 L316.75,237.95 L317.00,237.16 L317.25,236.35 L317.50,235.53 L317.75,234.71 L318.00,233.90 L318.25,233.10 L318.50,232.32 L318.75,231.57 L319.00,230.87 L319.25,230.22 L319.50,229.63 L319.75,229.12 L320.00,228.71 L320.25,228.40 L320.50,228.22 L320.75,228.24 L321.00,228.44 L321.25,228.75 L321.50,229.17 L321.75,229.67 L322.00,230.24 L322.25,230.87 L322.50,231.55 L322.75,232.28 L323.00,233.03 L323.25,233.81 L323.50,234.60 L323.75,235.39 L324.00,236.19 L324.25,236.97 L324.50,237.75 L324.75,238.51 L325.00,239.24 L325.25,239.95 L325.50,240.63 L325.75,241.28 L326.00,241.90 L326.25,242.48 L326.50,243.03 L326.75,243.55 L327.00,244.03 L327.25,244.47 L327.50,244.88 L327.75,245.26 L328.00,245.61 L328.25,245.93 L328.50,246.22 L328.75,246.48 L329.00,246.72 L329.25,246.93 L329.50,247.13 L329.75,247.30 L330.00,247.45 L330.25,247.59 L330.50,247.71 L330.75,247.82 L331.00,247.91 L331.25,247.99 L331.50,248.06 L331.75,248.13 L332.00,248.18 L332.25,248.23 L332.50,248.27 L332.75,248.30 L333.00,248.34" fill="none" stroke="#152c44" stroke-width="1.0" stroke-linejoin="round"/>
<line x1="288.0" y1="248.5" x2="345.59999999999997" y2="248.5" stroke="#1e1e1e" stroke-width="1.2"/>
<line x1="319.2" y1="171.8" x2="319.2" y2="195.3" stroke="#6a1a34" stroke-width="1.0"/>
<line x1="319.2" y1="195.3" x2="319.2" y2="248.5" stroke="#241a2a" stroke-width="0.95" opacity="0.9"/>
<line x1="294.56" y1="248.5" x2="294.56" y2="250.7" stroke="#111" stroke-width="1"/>
<text transform="translate(298.26,256.9) rotate(-45)" text-anchor="end" font-size="6.3" fill="#2a2a2a" stroke="#2a2a2a" stroke-width="0.2">−20</text>
<line x1="306.88" y1="248.5" x2="306.88" y2="250.7" stroke="#111" stroke-width="1"/>
<text transform="translate(310.58,256.9) rotate(-45)" text-anchor="end" font-size="6.3" fill="#2a2a2a" stroke="#2a2a2a" stroke-width="0.2">−10</text>
<line x1="319.20" y1="248.5" x2="319.20" y2="250.7" stroke="#111" stroke-width="1"/>
<text transform="translate(322.90,256.9) rotate(-45)" text-anchor="end" font-size="6.3" fill="#2a2a2a" stroke="#2a2a2a" stroke-width="0.2">0</text>
<line x1="331.52" y1="248.5" x2="331.52" y2="250.7" stroke="#111" stroke-width="1"/>
<text transform="translate(335.22,256.9) rotate(-45)" text-anchor="end" font-size="6.3" fill="#2a2a2a" stroke="#2a2a2a" stroke-width="0.2">10</text>
<line x1="343.84" y1="248.5" x2="343.84" y2="250.7" stroke="#111" stroke-width="1"/>
<text transform="translate(347.54,256.9) rotate(-45)" text-anchor="end" font-size="6.3" fill="#2a2a2a" stroke="#2a2a2a" stroke-width="0.2">20</text>
<text x="351.80" y="182.90" font-size="6.3" fill="#1e1e1e" text-anchor="end" stroke="#1e1e1e" stroke-width="0.22">Median</text>
<text x="351.80" y="191.70" font-size="6.3" fill="#1e1e1e" text-anchor="end" stroke="#1e1e1e" stroke-width="0.22">−13.09(*)</text>
<text x="351.80" y="205.00" font-size="6.3" fill="#1e1e1e" text-anchor="end" stroke="#1e1e1e" stroke-width="0.22">−3.5(ns)</text>
<text x="351.80" y="218.00" font-size="6.3" fill="#1e1e1e" text-anchor="end" stroke="#1e1e1e" stroke-width="0.22">0.96(ns)</text>
<text x="351.80" y="231.30" font-size="6.3" fill="#1e1e1e" text-anchor="end" stroke="#1e1e1e" stroke-width="0.22">0.56(ns)</text>
<text x="351.80" y="244.90" font-size="6.3" fill="#1e1e1e" text-anchor="end" stroke="#1e1e1e" stroke-width="0.22">0.64(ns)</text>
<text x="393.40" y="167.40" font-size="6.3" fill="#1e1e1e" text-anchor="middle" stroke="#1e1e1e" stroke-width="0.22">ENA</text>
<line x1="364.3" y1="171.8" x2="364.3" y2="249.1" stroke="#111" stroke-width="1.2"/>
<path d="M378.00,195.3 L378.00,195.21 L378.25,195.20 L378.50,195.18 L378.75,195.15 L379.00,195.12 L379.25,195.09 L379.50,195.05 L379.75,195.01 L380.00,194.96 L380.25,194.90 L380.50,194.83 L380.75,194.75 L381.00,194.66 L381.25,194.56 L381.50,194.44 L381.75,194.31 L382.00,194.16 L382.25,194.00 L382.50,193.81 L382.75,193.60 L383.00,193.37 L383.25,193.11 L383.50,192.83 L383.75,192.52 L384.00,192.18 L384.25,191.80 L384.50,191.40 L384.75,190.96 L385.00,190.49 L385.25,189.99 L385.50,189.45 L385.75,188.88 L386.00,188.27 L386.25,187.64 L386.50,186.98 L386.75,186.29 L387.00,185.58 L387.25,184.85 L387.50,184.11 L387.75,183.36 L388.00,182.60 L388.25,181.85 L388.50,181.12 L388.75,180.40 L389.00,179.71 L389.25,179.06 L389.50,178.46 L389.75,177.92 L390.00,177.45 L390.25,177.06 L390.50,176.77 L390.75,176.60 L391.00,176.63 L391.25,176.81 L391.50,177.10 L391.75,177.48 L392.00,177.95 L392.25,178.48 L392.25,195.3 Z" fill="#f2a6cb"/>
<path d="M392.25,195.3 L392.25,178.48 L392.50,179.06 L392.75,179.69 L393.00,180.35 L393.25,181.04 L393.50,181.74 L393.75,182.44 L394.00,183.15 L394.25,183.85 L394.50,184.54 L394.75,185.22 L395.00,185.87 L395.25,186.50 L395.50,187.10 L395.75,187.67 L396.00,188.21 L396.25,188.73 L396.50,189.21 L396.75,189.66 L397.00,190.09 L397.25,190.49 L397.50,190.87 L397.75,191.21 L398.00,191.53 L398.25,191.82 L398.50,192.08 L398.75,192.33 L399.00,192.55 L399.25,192.75 L399.50,192.93 L399.75,193.10 L400.00,193.25 L400.25,193.38 L400.50,193.51 L400.75,193.62 L401.00,193.72 L401.25,193.81 L401.50,193.90 L401.75,193.98 L402.00,194.05 L402.25,194.12 L402.50,194.18 L402.75,194.24 L403.00,194.29 L403.25,194.34 L403.50,194.39 L403.75,194.43 L404.00,194.47 L404.25,194.51 L404.50,194.55 L404.75,194.59 L405.00,194.62 L405.25,194.66 L405.50,194.69 L405.75,194.72 L406.00,194.75 L406.25,194.78 L406.50,194.80 L406.75,194.83 L407.00,194.85 L407.25,194.88 L407.50,194.90 L407.75,194.92 L408.00,194.94 L408.25,194.96 L408.50,194.98 L408.75,195.00 L409.00,195.02 L409.25,195.04 L409.50,195.05 L409.75,195.07 L410.00,195.08 L410.25,195.10 L410.50,195.11 L410.75,195.12 L411.00,195.13 L411.25,195.15 L411.50,195.16 L411.75,195.17 L412.00,195.18 L412.00,195.3 Z" fill="#fbe0ee"/>
<path d="M378.00,195.21 L378.25,195.20 L378.50,195.18 L378.75,195.15 L379.00,195.12 L379.25,195.09 L379.50,195.05 L379.75,195.01 L380.00,194.96 L380.25,194.90 L380.50,194.83 L380.75,194.75 L381.00,194.66 L381.25,194.56 L381.50,194.44 L381.75,194.31 L382.00,194.16 L382.25,194.00 L382.50,193.81 L382.75,193.60 L383.00,193.37 L383.25,193.11 L383.50,192.83 L383.75,192.52 L384.00,192.18 L384.25,191.80 L384.50,191.40 L384.75,190.96 L385.00,190.49 L385.25,189.99 L385.50,189.45 L385.75,188.88 L386.00,188.27 L386.25,187.64 L386.50,186.98 L386.75,186.29 L387.00,185.58 L387.25,184.85 L387.50,184.11 L387.75,183.36 L388.00,182.60 L388.25,181.85 L388.50,181.12 L388.75,180.40 L389.00,179.71 L389.25,179.06 L389.50,178.46 L389.75,177.92 L390.00,177.45 L390.25,177.06 L390.50,176.77 L390.75,176.60 L391.00,176.63 L391.25,176.81 L391.50,177.10 L391.75,177.48 L392.00,177.95 L392.25,178.48 L392.50,179.06 L392.75,179.69 L393.00,180.35 L393.25,181.04 L393.50,181.74 L393.75,182.44 L394.00,183.15 L394.25,183.85 L394.50,184.54 L394.75,185.22 L395.00,185.87 L395.25,186.50 L395.50,187.10 L395.75,187.67 L396.00,188.21 L396.25,188.73 L396.50,189.21 L396.75,189.66 L397.00,190.09 L397.25,190.49 L397.50,190.87 L397.75,191.21 L398.00,191.53 L398.25,191.82 L398.50,192.08 L398.75,192.33 L399.00,192.55 L399.25,192.75 L399.50,192.93 L399.75,193.10 L400.00,193.25 L400.25,193.38 L400.50,193.51 L400.75,193.62 L401.00,193.72 L401.25,193.81 L401.50,193.90 L401.75,193.98 L402.00,194.05 L402.25,194.12 L402.50,194.18 L402.75,194.24 L403.00,194.29 L403.25,194.34 L403.50,194.39 L403.75,194.43 L404.00,194.47 L404.25,194.51 L404.50,194.55 L404.75,194.59 L405.00,194.62 L405.25,194.66 L405.50,194.69 L405.75,194.72 L406.00,194.75 L406.25,194.78 L406.50,194.80 L406.75,194.83 L407.00,194.85 L407.25,194.88 L407.50,194.90 L407.75,194.92 L408.00,194.94 L408.25,194.96 L408.50,194.98 L408.75,195.00 L409.00,195.02 L409.25,195.04 L409.50,195.05 L409.75,195.07 L410.00,195.08 L410.25,195.10 L410.50,195.11 L410.75,195.12 L411.00,195.13 L411.25,195.15 L411.50,195.16 L411.75,195.17 L412.00,195.18" fill="none" stroke="#3a1028" stroke-width="1.0" stroke-linejoin="round"/>
<line x1="364.3" y1="195.3" x2="425.9" y2="195.3" stroke="#1e1e1e" stroke-width="1.2"/>
<path d="M381.00,208.6 L381.00,208.45 L381.25,208.42 L381.50,208.39 L381.75,208.35 L382.00,208.30 L382.25,208.25 L382.50,208.18 L382.75,208.11 L383.00,208.02 L383.25,207.92 L383.50,207.81 L383.75,207.68 L384.00,207.54 L384.25,207.37 L384.50,207.19 L384.75,206.98 L385.00,206.74 L385.25,206.48 L385.50,206.19 L385.75,205.87 L386.00,205.52 L386.25,205.13 L386.50,204.71 L386.75,204.24 L387.00,203.74 L387.25,203.21 L387.50,202.63 L387.75,202.02 L388.00,201.36 L388.25,200.68 L388.50,199.95 L388.75,199.20 L389.00,198.42 L389.25,197.62 L389.50,196.80 L389.75,195.97 L390.00,195.14 L390.25,194.31 L390.50,193.49 L390.75,192.70 L391.00,191.94 L391.25,191.22 L391.50,190.56 L391.75,189.97 L392.00,189.46 L392.25,189.05 L392.25,208.6 Z" fill="#ef8cbf"/>
<path d="M392.25,208.6 L392.25,189.05 L392.50,188.76 L392.75,188.61 L393.00,188.67 L393.25,188.90 L393.50,189.25 L393.75,189.70 L394.00,190.23 L394.25,190.84 L394.50,191.50 L394.75,192.21 L395.00,192.96 L395.25,193.74 L395.50,194.53 L395.75,195.34 L396.00,196.15 L396.25,196.95 L396.50,197.74 L396.75,198.52 L397.00,199.27 L397.25,200.00 L397.50,200.70 L397.75,201.36 L398.00,202.00 L398.25,202.59 L398.50,203.16 L398.75,203.68 L399.00,204.17 L399.25,204.62 L399.50,205.04 L399.75,205.43 L400.00,205.78 L400.25,206.10 L400.50,206.39 L400.75,206.65 L401.00,206.89 L401.25,207.10 L401.50,207.29 L401.75,207.46 L402.00,207.61 L402.25,207.74 L402.50,207.86 L402.75,207.96 L403.00,208.05 L403.25,208.13 L403.50,208.20 L403.75,208.26 L404.00,208.31 L404.25,208.36 L404.50,208.39 L404.75,208.43 L405.00,208.46 L405.00,208.6 Z" fill="#e2388b"/>
<path d="M381.00,208.45 L381.25,208.42 L381.50,208.39 L381.75,208.35 L382.00,208.30 L382.25,208.25 L382.50,208.18 L382.75,208.11 L383.00,208.02 L383.25,207.92 L383.50,207.81 L383.75,207.68 L384.00,207.54 L384.25,207.37 L384.50,207.19 L384.75,206.98 L385.00,206.74 L385.25,206.48 L385.50,206.19 L385.75,205.87 L386.00,205.52 L386.25,205.13 L386.50,204.71 L386.75,204.24 L387.00,203.74 L387.25,203.21 L387.50,202.63 L387.75,202.02 L388.00,201.36 L388.25,200.68 L388.50,199.95 L388.75,199.20 L389.00,198.42 L389.25,197.62 L389.50,196.80 L389.75,195.97 L390.00,195.14 L390.25,194.31 L390.50,193.49 L390.75,192.70 L391.00,191.94 L391.25,191.22 L391.50,190.56 L391.75,189.97 L392.00,189.46 L392.25,189.05 L392.50,188.76 L392.75,188.61 L393.00,188.67 L393.25,188.90 L393.50,189.25 L393.75,189.70 L394.00,190.23 L394.25,190.84 L394.50,191.50 L394.75,192.21 L395.00,192.96 L395.25,193.74 L395.50,194.53 L395.75,195.34 L396.00,196.15 L396.25,196.95 L396.50,197.74 L396.75,198.52 L397.00,199.27 L397.25,200.00 L397.50,200.70 L397.75,201.36 L398.00,202.00 L398.25,202.59 L398.50,203.16 L398.75,203.68 L399.00,204.17 L399.25,204.62 L399.50,205.04 L399.75,205.43 L400.00,205.78 L400.25,206.10 L400.50,206.39 L400.75,206.65 L401.00,206.89 L401.25,207.10 L401.50,207.29 L401.75,207.46 L402.00,207.61 L402.25,207.74 L402.50,207.86 L402.75,207.96 L403.00,208.05 L403.25,208.13 L403.50,208.20 L403.75,208.26 L404.00,208.31 L404.25,208.36 L404.50,208.39 L404.75,208.43 L405.00,208.46" fill="none" stroke="#3a1028" stroke-width="1.0" stroke-linejoin="round"/>
<line x1="364.3" y1="208.6" x2="425.9" y2="208.6" stroke="#1e1e1e" stroke-width="1.2"/>
<path d="M377.00,221.6 L377.00,221.49 L377.25,221.47 L377.50,221.44 L377.75,221.41 L378.00,221.37 L378.25,221.33 L378.50,221.29 L378.75,221.23 L379.00,221.17 L379.25,221.09 L379.50,221.01 L379.75,220.91 L380.00,220.80 L380.25,220.68 L380.50,220.54 L380.75,220.38 L381.00,220.20 L381.25,220.00 L381.50,219.78 L381.75,219.53 L382.00,219.26 L382.25,218.96 L382.50,218.62 L382.75,218.26 L383.00,217.87 L383.25,217.44 L383.50,216.97 L383.75,216.48 L384.00,215.95 L384.25,215.38 L384.50,214.78 L384.75,214.14 L385.00,213.48 L385.25,212.79 L385.50,212.07 L385.75,211.33 L386.00,210.57 L386.25,209.80 L386.50,209.02 L386.75,208.25 L387.00,207.48 L387.25,206.73 L387.50,206.01 L387.75,205.32 L388.00,204.67 L388.25,204.08 L388.50,203.55 L388.75,203.10 L389.00,202.75 L389.25,202.50 L389.50,202.40 L389.75,202.50 L390.00,202.75 L390.25,203.10 L390.50,203.55 L390.75,204.08 L391.00,204.67 L391.25,205.32 L391.50,206.01 L391.75,206.73 L392.00,207.48 L392.25,208.25 L392.25,221.6 Z" fill="#c2e2f5"/>
<path d="M392.25,221.6 L392.25,208.25 L392.50,209.02 L392.75,209.80 L393.00,210.57 L393.25,211.33 L393.50,212.07 L393.75,212.79 L394.00,213.48 L394.25,214.14 L394.50,214.78 L394.75,215.38 L395.00,215.95 L395.25,216.48 L395.50,216.97 L395.75,217.44 L396.00,217.87 L396.25,218.26 L396.50,218.62 L396.75,218.96 L397.00,219.26 L397.25,219.53 L397.50,219.78 L397.75,220.00 L398.00,220.20 L398.25,220.38 L398.50,220.54 L398.75,220.68 L399.00,220.80 L399.25,220.91 L399.50,221.01 L399.75,221.09 L400.00,221.17 L400.25,221.23 L400.50,221.29 L400.75,221.33 L401.00,221.37 L401.00,221.6 Z" fill="#d6edf9"/>
<path d="M377.00,221.49 L377.25,221.47 L377.50,221.44 L377.75,221.41 L378.00,221.37 L378.25,221.33 L378.50,221.29 L378.75,221.23 L379.00,221.17 L379.25,221.09 L379.50,221.01 L379.75,220.91 L380.00,220.80 L380.25,220.68 L380.50,220.54 L380.75,220.38 L381.00,220.20 L381.25,220.00 L381.50,219.78 L381.75,219.53 L382.00,219.26 L382.25,218.96 L382.50,218.62 L382.75,218.26 L383.00,217.87 L383.25,217.44 L383.50,216.97 L383.75,216.48 L384.00,215.95 L384.25,215.38 L384.50,214.78 L384.75,214.14 L385.00,213.48 L385.25,212.79 L385.50,212.07 L385.75,211.33 L386.00,210.57 L386.25,209.80 L386.50,209.02 L386.75,208.25 L387.00,207.48 L387.25,206.73 L387.50,206.01 L387.75,205.32 L388.00,204.67 L388.25,204.08 L388.50,203.55 L388.75,203.10 L389.00,202.75 L389.25,202.50 L389.50,202.40 L389.75,202.50 L390.00,202.75 L390.25,203.10 L390.50,203.55 L390.75,204.08 L391.00,204.67 L391.25,205.32 L391.50,206.01 L391.75,206.73 L392.00,207.48 L392.25,208.25 L392.50,209.02 L392.75,209.80 L393.00,210.57 L393.25,211.33 L393.50,212.07 L393.75,212.79 L394.00,213.48 L394.25,214.14 L394.50,214.78 L394.75,215.38 L395.00,215.95 L395.25,216.48 L395.50,216.97 L395.75,217.44 L396.00,217.87 L396.25,218.26 L396.50,218.62 L396.75,218.96 L397.00,219.26 L397.25,219.53 L397.50,219.78 L397.75,220.00 L398.00,220.20 L398.25,220.38 L398.50,220.54 L398.75,220.68 L399.00,220.80 L399.25,220.91 L399.50,221.01 L399.75,221.09 L400.00,221.17 L400.25,221.23 L400.50,221.29 L400.75,221.33 L401.00,221.37" fill="none" stroke="#152c44" stroke-width="1.0" stroke-linejoin="round"/>
<line x1="364.3" y1="221.6" x2="425.9" y2="221.6" stroke="#1e1e1e" stroke-width="1.2"/>
<path d="M377.00,234.9 L377.00,234.77 L377.25,234.75 L377.50,234.72 L377.75,234.69 L378.00,234.65 L378.25,234.60 L378.50,234.55 L378.75,234.49 L379.00,234.42 L379.25,234.34 L379.50,234.25 L379.75,234.14 L380.00,234.02 L380.25,233.88 L380.50,233.73 L380.75,233.56 L381.00,233.36 L381.25,233.14 L381.50,232.90 L381.75,232.63 L382.00,232.34 L382.25,232.01 L382.50,231.65 L382.75,231.26 L383.00,230.84 L383.25,230.38 L383.50,229.88 L383.75,229.35 L384.00,228.78 L384.25,228.17 L384.50,227.53 L384.75,226.86 L385.00,226.15 L385.25,225.42 L385.50,224.66 L385.75,223.88 L386.00,223.09 L386.25,222.29 L386.50,221.48 L386.75,220.67 L387.00,219.88 L387.25,219.11 L387.50,218.37 L387.75,217.66 L388.00,217.01 L388.25,216.42 L388.50,215.90 L388.75,215.47 L389.00,215.15 L389.25,214.94 L389.50,214.92 L389.75,215.10 L390.00,215.40 L390.25,215.81 L390.50,216.31 L390.75,216.89 L391.00,217.53 L391.25,218.22 L391.50,218.96 L391.75,219.72 L392.00,220.51 L392.25,221.32 L392.25,234.9 Z" fill="#8ccbec"/>
<path d="M392.25,234.9 L392.25,221.32 L392.50,222.12 L392.75,222.93 L393.00,223.73 L393.25,224.51 L393.50,225.27 L393.75,226.01 L394.00,226.72 L394.25,227.40 L394.50,228.05 L394.75,228.66 L395.00,229.24 L395.25,229.78 L395.50,230.28 L395.75,230.75 L396.00,231.18 L396.25,231.58 L396.50,231.94 L396.75,232.27 L397.00,232.58 L397.25,232.85 L397.50,233.10 L397.75,233.32 L398.00,233.52 L398.25,233.70 L398.50,233.85 L398.75,233.99 L399.00,234.12 L399.25,234.23 L399.50,234.32 L399.75,234.40 L400.00,234.48 L400.25,234.54 L400.50,234.59 L400.75,234.64 L401.00,234.68 L401.00,234.9 Z" fill="#a6d8f0"/>
<path d="M377.00,234.77 L377.25,234.75 L377.50,234.72 L377.75,234.69 L378.00,234.65 L378.25,234.60 L378.50,234.55 L378.75,234.49 L379.00,234.42 L379.25,234.34 L379.50,234.25 L379.75,234.14 L380.00,234.02 L380.25,233.88 L380.50,233.73 L380.75,233.56 L381.00,233.36 L381.25,233.14 L381.50,232.90 L381.75,232.63 L382.00,232.34 L382.25,232.01 L382.50,231.65 L382.75,231.26 L383.00,230.84 L383.25,230.38 L383.50,229.88 L383.75,229.35 L384.00,228.78 L384.25,228.17 L384.50,227.53 L384.75,226.86 L385.00,226.15 L385.25,225.42 L385.50,224.66 L385.75,223.88 L386.00,223.09 L386.25,222.29 L386.50,221.48 L386.75,220.67 L387.00,219.88 L387.25,219.11 L387.50,218.37 L387.75,217.66 L388.00,217.01 L388.25,216.42 L388.50,215.90 L388.75,215.47 L389.00,215.15 L389.25,214.94 L389.50,214.92 L389.75,215.10 L390.00,215.40 L390.25,215.81 L390.50,216.31 L390.75,216.89 L391.00,217.53 L391.25,218.22 L391.50,218.96 L391.75,219.72 L392.00,220.51 L392.25,221.32 L392.50,222.12 L392.75,222.93 L393.00,223.73 L393.25,224.51 L393.50,225.27 L393.75,226.01 L394.00,226.72 L394.25,227.40 L394.50,228.05 L394.75,228.66 L395.00,229.24 L395.25,229.78 L395.50,230.28 L395.75,230.75 L396.00,231.18 L396.25,231.58 L396.50,231.94 L396.75,232.27 L397.00,232.58 L397.25,232.85 L397.50,233.10 L397.75,233.32 L398.00,233.52 L398.25,233.70 L398.50,233.85 L398.75,233.99 L399.00,234.12 L399.25,234.23 L399.50,234.32 L399.75,234.40 L400.00,234.48 L400.25,234.54 L400.50,234.59 L400.75,234.64 L401.00,234.68" fill="none" stroke="#152c44" stroke-width="1.0" stroke-linejoin="round"/>
<line x1="364.3" y1="234.9" x2="425.9" y2="234.9" stroke="#1e1e1e" stroke-width="1.2"/>
<path d="M377.00,248.5 L377.00,248.42 L377.25,248.40 L377.50,248.38 L377.75,248.35 L378.00,248.32 L378.25,248.29 L378.50,248.25 L378.75,248.20 L379.00,248.15 L379.25,248.08 L379.50,248.01 L379.75,247.92 L380.00,247.83 L380.25,247.71 L380.50,247.58 L380.75,247.44 L381.00,247.27 L381.25,247.09 L381.50,246.88 L381.75,246.64 L382.00,246.38 L382.25,246.08 L382.50,245.76 L382.75,245.40 L383.00,245.01 L383.25,244.58 L383.50,244.11 L383.75,243.61 L384.00,243.06 L384.25,242.47 L384.50,241.85 L384.75,241.18 L385.00,240.48 L385.25,239.75 L385.50,238.98 L385.75,238.18 L386.00,237.36 L386.25,236.52 L386.50,235.66 L386.75,234.80 L387.00,233.95 L387.25,233.11 L387.50,232.28 L387.75,231.49 L388.00,230.75 L388.25,230.05 L388.50,229.43 L388.75,228.89 L389.00,228.44 L389.25,228.11 L389.50,227.92 L389.75,227.95 L390.00,228.15 L390.25,228.49 L390.50,228.93 L390.75,229.47 L391.00,230.07 L391.25,230.75 L391.50,231.47 L391.75,232.23 L392.00,233.03 L392.25,233.85 L392.25,248.5 Z" fill="#3aa5de"/>
<path d="M392.25,248.5 L392.25,233.85 L392.50,234.67 L392.75,235.51 L393.00,236.34 L393.25,237.15 L393.50,237.96 L393.75,238.74 L394.00,239.49 L394.25,240.22 L394.50,240.91 L394.75,241.57 L395.00,242.19 L395.25,242.78 L395.50,243.33 L395.75,243.84 L396.00,244.31 L396.25,244.75 L396.50,245.16 L396.75,245.52 L397.00,245.86 L397.25,246.17 L397.50,246.44 L397.75,246.69 L398.00,246.92 L398.25,247.12 L398.50,247.29 L398.75,247.45 L399.00,247.59 L399.25,247.72 L399.50,247.83 L399.75,247.92 L400.00,248.00 L400.25,248.08 L400.50,248.14 L400.75,248.19 L401.00,248.24 L401.00,248.5 Z" fill="#5db6e4"/>
<path d="M377.00,248.42 L377.25,248.40 L377.50,248.38 L377.75,248.35 L378.00,248.32 L378.25,248.29 L378.50,248.25 L378.75,248.20 L379.00,248.15 L379.25,248.08 L379.50,248.01 L379.75,247.92 L380.00,247.83 L380.25,247.71 L380.50,247.58 L380.75,247.44 L381.00,247.27 L381.25,247.09 L381.50,246.88 L381.75,246.64 L382.00,246.38 L382.25,246.08 L382.50,245.76 L382.75,245.40 L383.00,245.01 L383.25,244.58 L383.50,244.11 L383.75,243.61 L384.00,243.06 L384.25,242.47 L384.50,241.85 L384.75,241.18 L385.00,240.48 L385.25,239.75 L385.50,238.98 L385.75,238.18 L386.00,237.36 L386.25,236.52 L386.50,235.66 L386.75,234.80 L387.00,233.95 L387.25,233.11 L387.50,232.28 L387.75,231.49 L388.00,230.75 L388.25,230.05 L388.50,229.43 L388.75,228.89 L389.00,228.44 L389.25,228.11 L389.50,227.92 L389.75,227.95 L390.00,228.15 L390.25,228.49 L390.50,228.93 L390.75,229.47 L391.00,230.07 L391.25,230.75 L391.50,231.47 L391.75,232.23 L392.00,233.03 L392.25,233.85 L392.50,234.67 L392.75,235.51 L393.00,236.34 L393.25,237.15 L393.50,237.96 L393.75,238.74 L394.00,239.49 L394.25,240.22 L394.50,240.91 L394.75,241.57 L395.00,242.19 L395.25,242.78 L395.50,243.33 L395.75,243.84 L396.00,244.31 L396.25,244.75 L396.50,245.16 L396.75,245.52 L397.00,245.86 L397.25,246.17 L397.50,246.44 L397.75,246.69 L398.00,246.92 L398.25,247.12 L398.50,247.29 L398.75,247.45 L399.00,247.59 L399.25,247.72 L399.50,247.83 L399.75,247.92 L400.00,248.00 L400.25,248.08 L400.50,248.14 L400.75,248.19 L401.00,248.24" fill="none" stroke="#152c44" stroke-width="1.0" stroke-linejoin="round"/>
<line x1="364.3" y1="248.5" x2="421.09999999999997" y2="248.5" stroke="#1e1e1e" stroke-width="1.2"/>
<line x1="392.2" y1="171.8" x2="392.2" y2="195.3" stroke="#5a1a30" stroke-width="1.0"/>
<line x1="392.2" y1="195.3" x2="392.2" y2="248.5" stroke="#241a2a" stroke-width="0.95" opacity="0.9"/>
<line x1="367.56" y1="248.5" x2="367.56" y2="250.7" stroke="#111" stroke-width="1"/>
<text transform="translate(371.26,256.9) rotate(-45)" text-anchor="end" font-size="6.3" fill="#2a2a2a" stroke="#2a2a2a" stroke-width="0.2">−20</text>
<line x1="379.88" y1="248.5" x2="379.88" y2="250.7" stroke="#111" stroke-width="1"/>
<text transform="translate(383.58,256.9) rotate(-45)" text-anchor="end" font-size="6.3" fill="#2a2a2a" stroke="#2a2a2a" stroke-width="0.2">−10</text>
<line x1="392.20" y1="248.5" x2="392.20" y2="250.7" stroke="#111" stroke-width="1"/>
<text transform="translate(395.90,256.9) rotate(-45)" text-anchor="end" font-size="6.3" fill="#2a2a2a" stroke="#2a2a2a" stroke-width="0.2">0</text>
<line x1="404.52" y1="248.5" x2="404.52" y2="250.7" stroke="#111" stroke-width="1"/>
<text transform="translate(408.22,256.9) rotate(-45)" text-anchor="end" font-size="6.3" fill="#2a2a2a" stroke="#2a2a2a" stroke-width="0.2">10</text>
<line x1="416.84" y1="248.5" x2="416.84" y2="250.7" stroke="#111" stroke-width="1"/>
<text transform="translate(420.54,256.9) rotate(-45)" text-anchor="end" font-size="6.3" fill="#2a2a2a" stroke="#2a2a2a" stroke-width="0.2">20</text>
<text x="428.60" y="182.90" font-size="6.3" fill="#1e1e1e" text-anchor="end" stroke="#1e1e1e" stroke-width="0.22">Median</text>
<text x="428.60" y="191.70" font-size="6.3" fill="#1e1e1e" text-anchor="end" stroke="#1e1e1e" stroke-width="0.22">−0.63(ns)</text>
<text x="428.60" y="205.00" font-size="6.3" fill="#1e1e1e" text-anchor="end" stroke="#1e1e1e" stroke-width="0.22">1.01(ns)</text>
<text x="428.60" y="218.00" font-size="6.3" fill="#1e1e1e" text-anchor="end" stroke="#1e1e1e" stroke-width="0.22">−2.11(ns)</text>
<text x="428.60" y="231.30" font-size="6.3" fill="#1e1e1e" text-anchor="end" stroke="#1e1e1e" stroke-width="0.22">−2.31(ns)</text>
<text x="428.60" y="244.90" font-size="6.3" fill="#1e1e1e" text-anchor="end" stroke="#1e1e1e" stroke-width="0.22">−2.42(ns)</text>
<text x="466.80" y="167.40" font-size="6.3" fill="#1e1e1e" text-anchor="middle" stroke="#1e1e1e" stroke-width="0.22">IVO+ENA</text>
<line x1="437.6" y1="171.8" x2="437.6" y2="249.1" stroke="#111" stroke-width="1.2"/>
<path d="M457.00,195.3 L457.00,195.26 L457.25,195.25 L457.50,195.24 L457.75,195.23 L458.00,195.22 L458.25,195.20 L458.50,195.18 L458.75,195.15 L459.00,195.12 L459.25,195.09 L459.50,195.05 L459.75,195.00 L460.00,194.94 L460.25,194.87 L460.50,194.79 L460.75,194.70 L461.00,194.60 L461.25,194.48 L461.50,194.34 L461.75,194.18 L462.00,194.00 L462.25,193.80 L462.50,193.57 L462.75,193.31 L463.00,193.02 L463.25,192.70 L463.50,192.35 L463.75,191.96 L464.00,191.53 L464.25,191.07 L464.50,190.56 L464.75,190.01 L465.00,189.43 L465.00,195.3 Z" fill="#fbe2ee"/>
<path d="M465.00,195.3 L465.00,189.43 L465.25,188.80 L465.50,188.14 L465.75,187.44 L466.00,186.71 L466.25,185.95 L466.50,185.17 L466.75,184.37 L467.00,183.56 L467.25,182.75 L467.50,181.94 L467.75,181.15 L468.00,180.39 L468.25,179.67 L468.50,178.99 L468.75,178.39 L469.00,177.86 L469.25,177.42 L469.50,177.11 L469.75,176.93 L470.00,176.96 L470.25,177.14 L470.50,177.43 L470.75,177.80 L471.00,178.25 L471.25,178.77 L471.50,179.34 L471.75,179.95 L472.00,180.59 L472.25,181.26 L472.50,181.95 L472.75,182.64 L473.00,183.34 L473.25,184.03 L473.50,184.72 L473.75,185.39 L474.00,186.05 L474.25,186.68 L474.50,187.29 L474.75,187.87 L475.00,188.42 L475.25,188.94 L475.50,189.44 L475.75,189.90 L476.00,190.34 L476.25,190.74 L476.50,191.12 L476.75,191.47 L477.00,191.80 L477.25,192.09 L477.50,192.36 L477.75,192.61 L478.00,192.84 L478.25,193.05 L478.50,193.23 L478.75,193.40 L479.00,193.55 L479.25,193.69 L479.50,193.82 L479.75,193.93 L480.00,194.03 L480.25,194.12 L480.50,194.20 L480.75,194.28 L481.00,194.35 L481.25,194.41 L481.50,194.47 L481.75,194.52 L482.00,194.56 L482.25,194.61 L482.50,194.65 L482.75,194.68 L483.00,194.72 L483.25,194.75 L483.50,194.78 L483.75,194.81 L484.00,194.83 L484.25,194.86 L484.50,194.88 L484.75,194.90 L485.00,194.93 L485.25,194.95 L485.50,194.96 L485.75,194.98 L486.00,195.00 L486.25,195.02 L486.50,195.03 L486.75,195.05 L487.00,195.06 L487.25,195.08 L487.50,195.09 L487.75,195.10 L488.00,195.11 L488.25,195.12 L488.50,195.14 L488.75,195.15 L489.00,195.16 L489.25,195.16 L489.50,195.17 L489.75,195.18 L490.00,195.19 L490.25,195.20 L490.50,195.20 L490.75,195.21 L491.00,195.22 L491.25,195.22 L491.50,195.23 L491.75,195.23 L492.00,195.24 L492.00,195.3 Z" fill="#f4b0d0"/>
<path d="M457.00,195.26 L457.25,195.25 L457.50,195.24 L457.75,195.23 L458.00,195.22 L458.25,195.20 L458.50,195.18 L458.75,195.15 L459.00,195.12 L459.25,195.09 L459.50,195.05 L459.75,195.00 L460.00,194.94 L460.25,194.87 L460.50,194.79 L460.75,194.70 L461.00,194.60 L461.25,194.48 L461.50,194.34 L461.75,194.18 L462.00,194.00 L462.25,193.80 L462.50,193.57 L462.75,193.31 L463.00,193.02 L463.25,192.70 L463.50,192.35 L463.75,191.96 L464.00,191.53 L464.25,191.07 L464.50,190.56 L464.75,190.01 L465.00,189.43 L465.25,188.80 L465.50,188.14 L465.75,187.44 L466.00,186.71 L466.25,185.95 L466.50,185.17 L466.75,184.37 L467.00,183.56 L467.25,182.75 L467.50,181.94 L467.75,181.15 L468.00,180.39 L468.25,179.67 L468.50,178.99 L468.75,178.39 L469.00,177.86 L469.25,177.42 L469.50,177.11 L469.75,176.93 L470.00,176.96 L470.25,177.14 L470.50,177.43 L470.75,177.80 L471.00,178.25 L471.25,178.77 L471.50,179.34 L471.75,179.95 L472.00,180.59 L472.25,181.26 L472.50,181.95 L472.75,182.64 L473.00,183.34 L473.25,184.03 L473.50,184.72 L473.75,185.39 L474.00,186.05 L474.25,186.68 L474.50,187.29 L474.75,187.87 L475.00,188.42 L475.25,188.94 L475.50,189.44 L475.75,189.90 L476.00,190.34 L476.25,190.74 L476.50,191.12 L476.75,191.47 L477.00,191.80 L477.25,192.09 L477.50,192.36 L477.75,192.61 L478.00,192.84 L478.25,193.05 L478.50,193.23 L478.75,193.40 L479.00,193.55 L479.25,193.69 L479.50,193.82 L479.75,193.93 L480.00,194.03 L480.25,194.12 L480.50,194.20 L480.75,194.28 L481.00,194.35 L481.25,194.41 L481.50,194.47 L481.75,194.52 L482.00,194.56 L482.25,194.61 L482.50,194.65 L482.75,194.68 L483.00,194.72 L483.25,194.75 L483.50,194.78 L483.75,194.81 L484.00,194.83 L484.25,194.86 L484.50,194.88 L484.75,194.90 L485.00,194.93 L485.25,194.95 L485.50,194.96 L485.75,194.98 L486.00,195.00 L486.25,195.02 L486.50,195.03 L486.75,195.05 L487.00,195.06 L487.25,195.08 L487.50,195.09 L487.75,195.10 L488.00,195.11 L488.25,195.12 L488.50,195.14 L488.75,195.15 L489.00,195.16 L489.25,195.16 L489.50,195.17 L489.75,195.18 L490.00,195.19 L490.25,195.20 L490.50,195.20 L490.75,195.21 L491.00,195.22 L491.25,195.22 L491.50,195.23 L491.75,195.23 L492.00,195.24" fill="none" stroke="#3a1028" stroke-width="1.0" stroke-linejoin="round"/>
<line x1="437.6" y1="195.3" x2="500.2" y2="195.3" stroke="#1e1e1e" stroke-width="1.2"/>
<path d="M454.00,208.6 L454.00,208.51 L454.25,208.50 L454.50,208.48 L454.75,208.45 L455.00,208.42 L455.25,208.39 L455.50,208.35 L455.75,208.30 L456.00,208.25 L456.25,208.19 L456.50,208.12 L456.75,208.04 L457.00,207.95 L457.25,207.84 L457.50,207.72 L457.75,207.59 L458.00,207.43 L458.25,207.26 L458.50,207.07 L458.75,206.85 L459.00,206.61 L459.25,206.35 L459.50,206.05 L459.75,205.72 L460.00,205.37 L460.25,204.98 L460.50,204.56 L460.75,204.10 L461.00,203.60 L461.25,203.07 L461.50,202.51 L461.75,201.91 L462.00,201.27 L462.25,200.60 L462.50,199.90 L462.75,199.17 L463.00,198.41 L463.25,197.64 L463.50,196.85 L463.75,196.05 L464.00,195.24 L464.25,194.44 L464.50,193.66 L464.75,192.89 L465.00,192.15 L465.00,208.6 Z" fill="#ef8cbf"/>
<path d="M465.00,208.6 L465.00,192.15 L465.25,191.45 L465.50,190.80 L465.75,190.21 L466.00,189.70 L466.25,189.27 L466.50,188.95 L466.75,188.74 L467.00,188.72 L467.25,188.92 L467.50,189.25 L467.75,189.71 L468.00,190.26 L468.25,190.89 L468.50,191.59 L468.75,192.35 L469.00,193.15 L469.25,193.97 L469.50,194.82 L469.75,195.68 L470.00,196.53 L470.25,197.38 L470.50,198.21 L470.75,199.02 L471.00,199.80 L471.25,200.55 L471.50,201.26 L471.75,201.94 L472.00,202.58 L472.25,203.17 L472.50,203.73 L472.75,204.24 L473.00,204.72 L473.25,205.15 L473.50,205.55 L473.75,205.91 L474.00,206.24 L474.25,206.53 L474.50,206.80 L474.75,207.03 L475.00,207.24 L475.25,207.43 L475.50,207.59 L475.75,207.73 L476.00,207.86 L476.25,207.97 L476.50,208.06 L476.75,208.15 L477.00,208.22 L477.25,208.28 L477.50,208.33 L477.75,208.37 L478.00,208.41 L478.00,208.6 Z" fill="#e2388b"/>
<path d="M454.00,208.51 L454.25,208.50 L454.50,208.48 L454.75,208.45 L455.00,208.42 L455.25,208.39 L455.50,208.35 L455.75,208.30 L456.00,208.25 L456.25,208.19 L456.50,208.12 L456.75,208.04 L457.00,207.95 L457.25,207.84 L457.50,207.72 L457.75,207.59 L458.00,207.43 L458.25,207.26 L458.50,207.07 L458.75,206.85 L459.00,206.61 L459.25,206.35 L459.50,206.05 L459.75,205.72 L460.00,205.37 L460.25,204.98 L460.50,204.56 L460.75,204.10 L461.00,203.60 L461.25,203.07 L461.50,202.51 L461.75,201.91 L462.00,201.27 L462.25,200.60 L462.50,199.90 L462.75,199.17 L463.00,198.41 L463.25,197.64 L463.50,196.85 L463.75,196.05 L464.00,195.24 L464.25,194.44 L464.50,193.66 L464.75,192.89 L465.00,192.15 L465.25,191.45 L465.50,190.80 L465.75,190.21 L466.00,189.70 L466.25,189.27 L466.50,188.95 L466.75,188.74 L467.00,188.72 L467.25,188.92 L467.50,189.25 L467.75,189.71 L468.00,190.26 L468.25,190.89 L468.50,191.59 L468.75,192.35 L469.00,193.15 L469.25,193.97 L469.50,194.82 L469.75,195.68 L470.00,196.53 L470.25,197.38 L470.50,198.21 L470.75,199.02 L471.00,199.80 L471.25,200.55 L471.50,201.26 L471.75,201.94 L472.00,202.58 L472.25,203.17 L472.50,203.73 L472.75,204.24 L473.00,204.72 L473.25,205.15 L473.50,205.55 L473.75,205.91 L474.00,206.24 L474.25,206.53 L474.50,206.80 L474.75,207.03 L475.00,207.24 L475.25,207.43 L475.50,207.59 L475.75,207.73 L476.00,207.86 L476.25,207.97 L476.50,208.06 L476.75,208.15 L477.00,208.22 L477.25,208.28 L477.50,208.33 L477.75,208.37 L478.00,208.41" fill="none" stroke="#3a1028" stroke-width="1.0" stroke-linejoin="round"/>
<line x1="437.6" y1="208.6" x2="500.2" y2="208.6" stroke="#1e1e1e" stroke-width="1.2"/>
<path d="M451.00,221.6 L451.00,221.54 L451.25,221.52 L451.50,221.50 L451.75,221.49 L452.00,221.46 L452.25,221.44 L452.50,221.40 L452.75,221.37 L453.00,221.32 L453.25,221.27 L453.50,221.21 L453.75,221.14 L454.00,221.06 L454.25,220.97 L454.50,220.87 L454.75,220.75 L455.00,220.61 L455.25,220.46 L455.50,220.29 L455.75,220.09 L456.00,219.87 L456.25,219.63 L456.50,219.36 L456.75,219.06 L457.00,218.73 L457.25,218.37 L457.50,217.98 L457.75,217.55 L458.00,217.08 L458.25,216.58 L458.50,216.05 L458.75,215.48 L459.00,214.87 L459.25,214.23 L459.50,213.56 L459.75,212.86 L460.00,212.13 L460.25,211.39 L460.50,210.63 L460.75,209.85 L461.00,209.08 L461.25,208.31 L461.50,207.55 L461.75,206.81 L462.00,206.11 L462.25,205.44 L462.50,204.83 L462.75,204.28 L463.00,203.80 L463.25,203.42 L463.50,203.15 L463.75,203.01 L464.00,203.07 L464.25,203.28 L464.50,203.61 L464.75,204.02 L465.00,204.52 L465.00,221.6 Z" fill="#c2e2f5"/>
<path d="M465.00,221.6 L465.00,204.52 L465.25,205.08 L465.50,205.70 L465.75,206.36 L466.00,207.06 L466.25,207.78 L466.50,208.52 L466.75,209.27 L467.00,210.02 L467.25,210.77 L467.50,211.50 L467.75,212.22 L468.00,212.92 L468.25,213.60 L468.50,214.25 L468.75,214.87 L469.00,215.46 L469.25,216.01 L469.50,216.54 L469.75,217.03 L470.00,217.48 L470.25,217.90 L470.50,218.29 L470.75,218.65 L471.00,218.98 L471.25,219.27 L471.50,219.54 L471.75,219.79 L472.00,220.01 L472.25,220.21 L472.50,220.38 L472.75,220.54 L473.00,220.68 L473.25,220.80 L473.50,220.91 L473.75,221.01 L474.00,221.09 L474.25,221.17 L474.50,221.23 L474.75,221.29 L475.00,221.33 L475.25,221.37 L475.50,221.41 L475.75,221.44 L476.00,221.47 L476.00,221.6 Z" fill="#d6edf9"/>
<path d="M451.00,221.54 L451.25,221.52 L451.50,221.50 L451.75,221.49 L452.00,221.46 L452.25,221.44 L452.50,221.40 L452.75,221.37 L453.00,221.32 L453.25,221.27 L453.50,221.21 L453.75,221.14 L454.00,221.06 L454.25,220.97 L454.50,220.87 L454.75,220.75 L455.00,220.61 L455.25,220.46 L455.50,220.29 L455.75,220.09 L456.00,219.87 L456.25,219.63 L456.50,219.36 L456.75,219.06 L457.00,218.73 L457.25,218.37 L457.50,217.98 L457.75,217.55 L458.00,217.08 L458.25,216.58 L458.50,216.05 L458.75,215.48 L459.00,214.87 L459.25,214.23 L459.50,213.56 L459.75,212.86 L460.00,212.13 L460.25,211.39 L460.50,210.63 L460.75,209.85 L461.00,209.08 L461.25,208.31 L461.50,207.55 L461.75,206.81 L462.00,206.11 L462.25,205.44 L462.50,204.83 L462.75,204.28 L463.00,203.80 L463.25,203.42 L463.50,203.15 L463.75,203.01 L464.00,203.07 L464.25,203.28 L464.50,203.61 L464.75,204.02 L465.00,204.52 L465.25,205.08 L465.50,205.70 L465.75,206.36 L466.00,207.06 L466.25,207.78 L466.50,208.52 L466.75,209.27 L467.00,210.02 L467.25,210.77 L467.50,211.50 L467.75,212.22 L468.00,212.92 L468.25,213.60 L468.50,214.25 L468.75,214.87 L469.00,215.46 L469.25,216.01 L469.50,216.54 L469.75,217.03 L470.00,217.48 L470.25,217.90 L470.50,218.29 L470.75,218.65 L471.00,218.98 L471.25,219.27 L471.50,219.54 L471.75,219.79 L472.00,220.01 L472.25,220.21 L472.50,220.38 L472.75,220.54 L473.00,220.68 L473.25,220.80 L473.50,220.91 L473.75,221.01 L474.00,221.09 L474.25,221.17 L474.50,221.23 L474.75,221.29 L475.00,221.33 L475.25,221.37 L475.50,221.41 L475.75,221.44 L476.00,221.47" fill="none" stroke="#152c44" stroke-width="1.0" stroke-linejoin="round"/>
<line x1="437.6" y1="221.6" x2="500.2" y2="221.6" stroke="#1e1e1e" stroke-width="1.2"/>
<path d="M451.00,234.9 L451.00,234.81 L451.25,234.79 L451.50,234.76 L451.75,234.74 L452.00,234.70 L452.25,234.66 L452.50,234.62 L452.75,234.57 L453.00,234.51 L453.25,234.44 L453.50,234.36 L453.75,234.27 L454.00,234.16 L454.25,234.04 L454.50,233.90 L454.75,233.74 L455.00,233.56 L455.25,233.37 L455.50,233.14 L455.75,232.89 L456.00,232.61 L456.25,232.30 L456.50,231.96 L456.75,231.59 L457.00,231.18 L457.25,230.73 L457.50,230.25 L457.75,229.73 L458.00,229.17 L458.25,228.57 L458.50,227.93 L458.75,227.25 L459.00,226.55 L459.25,225.81 L459.50,225.04 L459.75,224.24 L460.00,223.43 L460.25,222.60 L460.50,221.77 L460.75,220.94 L461.00,220.12 L461.25,219.31 L461.50,218.54 L461.75,217.80 L462.00,217.12 L462.25,216.50 L462.50,215.96 L462.75,215.51 L463.00,215.16 L463.25,214.95 L463.50,214.92 L463.75,215.10 L464.00,215.40 L464.25,215.81 L464.50,216.31 L464.75,216.89 L465.00,217.53 L465.00,234.9 Z" fill="#8ccbec"/>
<path d="M465.00,234.9 L465.00,217.53 L465.25,218.22 L465.50,218.96 L465.75,219.72 L466.00,220.51 L466.25,221.32 L466.50,222.12 L466.75,222.93 L467.00,223.73 L467.25,224.51 L467.50,225.27 L467.75,226.01 L468.00,226.72 L468.25,227.40 L468.50,228.05 L468.75,228.66 L469.00,229.24 L469.25,229.78 L469.50,230.28 L469.75,230.75 L470.00,231.18 L470.25,231.58 L470.50,231.94 L470.75,232.27 L471.00,232.58 L471.25,232.85 L471.50,233.10 L471.75,233.32 L472.00,233.52 L472.25,233.70 L472.50,233.85 L472.75,233.99 L473.00,234.12 L473.25,234.23 L473.50,234.32 L473.75,234.40 L474.00,234.48 L474.25,234.54 L474.50,234.59 L474.75,234.64 L475.00,234.68 L475.25,234.72 L475.50,234.74 L475.75,234.77 L476.00,234.79 L476.00,234.9 Z" fill="#a6d8f0"/>
<path d="M451.00,234.81 L451.25,234.79 L451.50,234.76 L451.75,234.74 L452.00,234.70 L452.25,234.66 L452.50,234.62 L452.75,234.57 L453.00,234.51 L453.25,234.44 L453.50,234.36 L453.75,234.27 L454.00,234.16 L454.25,234.04 L454.50,233.90 L454.75,233.74 L455.00,233.56 L455.25,233.37 L455.50,233.14 L455.75,232.89 L456.00,232.61 L456.25,232.30 L456.50,231.96 L456.75,231.59 L457.00,231.18 L457.25,230.73 L457.50,230.25 L457.75,229.73 L458.00,229.17 L458.25,228.57 L458.50,227.93 L458.75,227.25 L459.00,226.55 L459.25,225.81 L459.50,225.04 L459.75,224.24 L460.00,223.43 L460.25,222.60 L460.50,221.77 L460.75,220.94 L461.00,220.12 L461.25,219.31 L461.50,218.54 L461.75,217.80 L462.00,217.12 L462.25,216.50 L462.50,215.96 L462.75,215.51 L463.00,215.16 L463.25,214.95 L463.50,214.92 L463.75,215.10 L464.00,215.40 L464.25,215.81 L464.50,216.31 L464.75,216.89 L465.00,217.53 L465.25,218.22 L465.50,218.96 L465.75,219.72 L466.00,220.51 L466.25,221.32 L466.50,222.12 L466.75,222.93 L467.00,223.73 L467.25,224.51 L467.50,225.27 L467.75,226.01 L468.00,226.72 L468.25,227.40 L468.50,228.05 L468.75,228.66 L469.00,229.24 L469.25,229.78 L469.50,230.28 L469.75,230.75 L470.00,231.18 L470.25,231.58 L470.50,231.94 L470.75,232.27 L471.00,232.58 L471.25,232.85 L471.50,233.10 L471.75,233.32 L472.00,233.52 L472.25,233.70 L472.50,233.85 L472.75,233.99 L473.00,234.12 L473.25,234.23 L473.50,234.32 L473.75,234.40 L474.00,234.48 L474.25,234.54 L474.50,234.59 L474.75,234.64 L475.00,234.68 L475.25,234.72 L475.50,234.74 L475.75,234.77 L476.00,234.79" fill="none" stroke="#152c44" stroke-width="1.0" stroke-linejoin="round"/>
<line x1="437.6" y1="234.9" x2="500.2" y2="234.9" stroke="#1e1e1e" stroke-width="1.2"/>
<path d="M451.00,248.5 L451.00,248.43 L451.25,248.42 L451.50,248.40 L451.75,248.38 L452.00,248.36 L452.25,248.33 L452.50,248.29 L452.75,248.25 L453.00,248.21 L453.25,248.15 L453.50,248.08 L453.75,248.01 L454.00,247.92 L454.25,247.82 L454.50,247.70 L454.75,247.57 L455.00,247.41 L455.25,247.24 L455.50,247.04 L455.75,246.82 L456.00,246.57 L456.25,246.29 L456.50,245.98 L456.75,245.63 L457.00,245.25 L457.25,244.83 L457.50,244.37 L457.75,243.87 L458.00,243.33 L458.25,242.75 L458.50,242.13 L458.75,241.47 L459.00,240.76 L459.25,240.02 L459.50,239.25 L459.75,238.45 L460.00,237.62 L460.25,236.76 L460.50,235.90 L460.75,235.03 L461.00,234.17 L461.25,233.31 L461.50,232.49 L461.75,231.69 L462.00,230.95 L462.25,230.26 L462.50,229.65 L462.75,229.13 L463.00,228.71 L463.25,228.42 L463.50,228.30 L463.75,228.41 L464.00,228.67 L464.25,229.04 L464.50,229.51 L464.75,230.07 L465.00,230.69 L465.00,248.5 Z" fill="#3aa5de"/>
<path d="M465.00,248.5 L465.00,230.69 L465.25,231.37 L465.50,232.10 L465.75,232.86 L466.00,233.65 L466.25,234.45 L466.50,235.27 L466.75,236.09 L467.00,236.89 L467.25,237.69 L467.50,238.47 L467.75,239.23 L468.00,239.96 L468.25,240.65 L468.50,241.32 L468.75,241.95 L469.00,242.55 L469.25,243.11 L469.50,243.63 L469.75,244.12 L470.00,244.57 L470.25,244.99 L470.50,245.37 L470.75,245.72 L471.00,246.03 L471.25,246.32 L471.50,246.58 L471.75,246.82 L472.00,247.03 L472.25,247.21 L472.50,247.38 L472.75,247.53 L473.00,247.66 L473.25,247.78 L473.50,247.88 L473.75,247.97 L474.00,248.04 L474.25,248.11 L474.50,248.17 L474.75,248.22 L475.00,248.26 L475.25,248.30 L475.50,248.33 L475.75,248.36 L476.00,248.38 L476.00,248.5 Z" fill="#5db6e4"/>
<path d="M451.00,248.43 L451.25,248.42 L451.50,248.40 L451.75,248.38 L452.00,248.36 L452.25,248.33 L452.50,248.29 L452.75,248.25 L453.00,248.21 L453.25,248.15 L453.50,248.08 L453.75,248.01 L454.00,247.92 L454.25,247.82 L454.50,247.70 L454.75,247.57 L455.00,247.41 L455.25,247.24 L455.50,247.04 L455.75,246.82 L456.00,246.57 L456.25,246.29 L456.50,245.98 L456.75,245.63 L457.00,245.25 L457.25,244.83 L457.50,244.37 L457.75,243.87 L458.00,243.33 L458.25,242.75 L458.50,242.13 L458.75,241.47 L459.00,240.76 L459.25,240.02 L459.50,239.25 L459.75,238.45 L460.00,237.62 L460.25,236.76 L460.50,235.90 L460.75,235.03 L461.00,234.17 L461.25,233.31 L461.50,232.49 L461.75,231.69 L462.00,230.95 L462.25,230.26 L462.50,229.65 L462.75,229.13 L463.00,228.71 L463.25,228.42 L463.50,228.30 L463.75,228.41 L464.00,228.67 L464.25,229.04 L464.50,229.51 L464.75,230.07 L465.00,230.69 L465.25,231.37 L465.50,232.10 L465.75,232.86 L466.00,233.65 L466.25,234.45 L466.50,235.27 L466.75,236.09 L467.00,236.89 L467.25,237.69 L467.50,238.47 L467.75,239.23 L468.00,239.96 L468.25,240.65 L468.50,241.32 L468.75,241.95 L469.00,242.55 L469.25,243.11 L469.50,243.63 L469.75,244.12 L470.00,244.57 L470.25,244.99 L470.50,245.37 L470.75,245.72 L471.00,246.03 L471.25,246.32 L471.50,246.58 L471.75,246.82 L472.00,247.03 L472.25,247.21 L472.50,247.38 L472.75,247.53 L473.00,247.66 L473.25,247.78 L473.50,247.88 L473.75,247.97 L474.00,248.04 L474.25,248.11 L474.50,248.17 L474.75,248.22 L475.00,248.26 L475.25,248.30 L475.50,248.33 L475.75,248.36 L476.00,248.38" fill="none" stroke="#152c44" stroke-width="1.0" stroke-linejoin="round"/>
<line x1="437.6" y1="248.5" x2="495.4" y2="248.5" stroke="#1e1e1e" stroke-width="1.2"/>
<line x1="465.0" y1="171.8" x2="465.0" y2="195.3" stroke="#8a6a56" stroke-width="1.0"/>
<line x1="465.0" y1="195.3" x2="465.0" y2="248.5" stroke="#241a2a" stroke-width="0.95" opacity="0.9"/>
<line x1="440.36" y1="248.5" x2="440.36" y2="250.7" stroke="#111" stroke-width="1"/>
<text transform="translate(444.06,256.9) rotate(-45)" text-anchor="end" font-size="6.3" fill="#2a2a2a" stroke="#2a2a2a" stroke-width="0.2">−20</text>
<line x1="452.68" y1="248.5" x2="452.68" y2="250.7" stroke="#111" stroke-width="1"/>
<text transform="translate(456.38,256.9) rotate(-45)" text-anchor="end" font-size="6.3" fill="#2a2a2a" stroke="#2a2a2a" stroke-width="0.2">−10</text>
<line x1="465.00" y1="248.5" x2="465.00" y2="250.7" stroke="#111" stroke-width="1"/>
<text transform="translate(468.70,256.9) rotate(-45)" text-anchor="end" font-size="6.3" fill="#2a2a2a" stroke="#2a2a2a" stroke-width="0.2">0</text>
<line x1="477.32" y1="248.5" x2="477.32" y2="250.7" stroke="#111" stroke-width="1"/>
<text transform="translate(481.02,256.9) rotate(-45)" text-anchor="end" font-size="6.3" fill="#2a2a2a" stroke="#2a2a2a" stroke-width="0.2">10</text>
<line x1="489.64" y1="248.5" x2="489.64" y2="250.7" stroke="#111" stroke-width="1"/>
<text transform="translate(493.34,256.9) rotate(-45)" text-anchor="end" font-size="6.3" fill="#2a2a2a" stroke="#2a2a2a" stroke-width="0.2">20</text>
<text x="502.40" y="182.90" font-size="6.3" fill="#1e1e1e" text-anchor="end" stroke="#1e1e1e" stroke-width="0.22">Median</text>
<text x="502.40" y="191.70" font-size="6.3" fill="#1e1e1e" text-anchor="end" stroke="#1e1e1e" stroke-width="0.22">4.16(ns)</text>
<text x="502.40" y="205.00" font-size="6.3" fill="#1e1e1e" text-anchor="end" stroke="#1e1e1e" stroke-width="0.22">1.1(ns)</text>
<text x="502.40" y="218.00" font-size="6.3" fill="#1e1e1e" text-anchor="end" stroke="#1e1e1e" stroke-width="0.22">−1.15(ns)</text>
<text x="502.40" y="231.30" font-size="6.3" fill="#1e1e1e" text-anchor="end" stroke="#1e1e1e" stroke-width="0.22">−1.59(ns)</text>
<text x="502.40" y="244.90" font-size="6.3" fill="#1e1e1e" text-anchor="end" stroke="#1e1e1e" stroke-width="0.22">−1.23(ns)</text>
<text x="357.20" y="277.10" font-size="8.7" fill="#222" font-weight="bold" textLength="74" lengthAdjust="spacingAndGlyphs">Log2 fold chnage v. Vehicle</text>
<rect x="258.3" y="190.4" width="24.4" height="25.0" fill="none" stroke="#d6187a" stroke-width="0.8"/>
<rect x="258.3" y="218.2" width="24.4" height="34.2" fill="none" stroke="#3aa6dd" stroke-width="0.8"/>
<text x="260.90" y="197.90" font-size="6.3" fill="#1e1e1e" textLength="19.7" lengthAdjust="spacingAndGlyphs" stroke="#1e1e1e" stroke-width="0.22">Clone2</text>
<text x="260.90" y="210.60" font-size="6.3" fill="#1e1e1e" textLength="19.7" lengthAdjust="spacingAndGlyphs" stroke="#1e1e1e" stroke-width="0.22">Clone3</text>
<text x="260.90" y="225.00" font-size="6.3" fill="#1e1e1e" textLength="19.7" lengthAdjust="spacingAndGlyphs" stroke="#1e1e1e" stroke-width="0.22">Clone4</text>
<text x="260.90" y="237.40" font-size="6.3" fill="#1e1e1e" textLength="19.7" lengthAdjust="spacingAndGlyphs" stroke="#1e1e1e" stroke-width="0.22">Clone5</text>
<text x="260.90" y="249.70" font-size="6.3" fill="#1e1e1e" textLength="19.7" lengthAdjust="spacingAndGlyphs" stroke="#1e1e1e" stroke-width="0.22">Clone3</text>
<text x="235.00" y="204.80" font-size="6.5" fill="#d6187a" font-style="italic" textLength="20.4" lengthAdjust="spacingAndGlyphs" stroke="#d6187a" stroke-width="0.22">mIDH1</text>
<text x="234.60" y="238.10" font-size="6.5" fill="#3aa6dd" font-style="italic" textLength="20.8" lengthAdjust="spacingAndGlyphs" stroke="#3aa6dd" stroke-width="0.22">mIDH2</text>
<text x="25.00" y="314.00" font-size="11.2" fill="#000" font-weight="bold">E</text>
<text x="11.70" y="342.60" font-size="8.7" fill="#d6187a" font-style="italic" textLength="27.0" lengthAdjust="spacingAndGlyphs" stroke="#d6187a" stroke-width="0.22">mIDH1</text>
<text x="11.20" y="446.90" font-size="8.7" fill="#3aa6dd" font-style="italic" textLength="27.5" lengthAdjust="spacingAndGlyphs" stroke="#3aa6dd" stroke-width="0.22">mIDH2</text>
<text x="103.50" y="310.00" font-size="8.4" fill="#111" textLength="42.3" lengthAdjust="spacingAndGlyphs" stroke="#111" stroke-width="0.22">IVO v. VEH</text>
<circle cx="122.5" cy="361" r="1.6" fill="#bdbdbd"/>
<circle cx="124" cy="363" r="1.6" fill="#bdbdbd"/>
<circle cx="126" cy="362.5" r="1.6" fill="#bdbdbd"/>
<circle cx="127.5" cy="364" r="1.6" fill="#bdbdbd"/>
<circle cx="129" cy="362" r="1.6" fill="#bdbdbd"/>
<circle cx="130.5" cy="361.5" r="1.6" fill="#bdbdbd"/>
<circle cx="125" cy="365" r="1.6" fill="#bdbdbd"/>
<circle cx="128" cy="365.5" r="1.6" fill="#bdbdbd"/>
<line x1="76" y1="359.5" x2="175.8" y2="359.5" stroke="#8a8a8a" stroke-width="1"/>
<line x1="121.5" y1="315.2" x2="121.5" y2="367.1" stroke="#777" stroke-width="0.9"/>
<line x1="130.5" y1="315.2" x2="130.5" y2="367.1" stroke="#777" stroke-width="0.9"/>
<line x1="135.7" y1="345" x2="138.4" y2="348.2" stroke="#111" stroke-width="0.8"/>
<line x1="145.8" y1="341.1" x2="138.9" y2="347.7" stroke="#111" stroke-width="0.8"/>
<circle cx="90.1" cy="331" r="1.75" fill="#b01236"/>
<circle cx="103.4" cy="331" r="1.75" fill="#b01236"/>
<circle cx="106.4" cy="342.2" r="1.75" fill="#b01236"/>
<circle cx="102.9" cy="348.2" r="1.75" fill="#b01236"/>
<circle cx="112.2" cy="347.2" r="1.75" fill="#b01236"/>
<circle cx="113.7" cy="353.8" r="1.75" fill="#b01236"/>
<circle cx="114.6" cy="356.7" r="1.75" fill="#b01236"/>
<circle cx="116.2" cy="357.2" r="1.75" fill="#b01236"/>
<circle cx="116.7" cy="358.8" r="1.75" fill="#b01236"/>
<circle cx="155" cy="317.4" r="1.75" fill="#b01236"/>
<circle cx="145.8" cy="341.1" r="1.75" fill="#b01236"/>
<circle cx="138.4" cy="347.7" r="1.75" fill="#b01236"/>
<circle cx="138.4" cy="351.9" r="1.75" fill="#b01236"/>
<circle cx="138.4" cy="354" r="1.75" fill="#b01236"/>
<circle cx="134.2" cy="357.2" r="1.75" fill="#b01236"/>
<circle cx="133.6" cy="357.8" r="1.75" fill="#b01236"/>
<text x="78.20" y="329.00" font-size="5.7" fill="#333" stroke="#333" stroke-width="0.22">CD117</text>
<text x="107.00" y="332.80" font-size="5.7" fill="#333" stroke="#333" stroke-width="0.22">CD38</text>
<text x="87.70" y="339.20" font-size="5.7" fill="#333" stroke="#333" stroke-width="0.22">CD141</text>
<text x="87.70" y="353.40" font-size="5.7" fill="#333" stroke="#333" stroke-width="0.22">CD71</text>
<text x="116.20" y="351.40" font-size="5.7" fill="#333" stroke="#333" stroke-width="0.22">CD7</text>
<text x="140.00" y="323.40" font-size="5.7" fill="#333" stroke="#333" stroke-width="0.22">CD44</text>
<text x="140.40" y="337.70" font-size="5.7" fill="#333" stroke="#333" stroke-width="0.22">CD45</text>
<text x="128.00" y="344.60" font-size="5.7" fill="#333" stroke="#333" stroke-width="0.22">CD4</text>
<text x="145.80" y="347.20" font-size="5.7" fill="#333" stroke="#333" stroke-width="0.22">CD11b</text>
<rect x="76" y="315.2" width="99.80000000000001" height="51.900000000000034" fill="none" stroke="#111" stroke-width="1.1"/>
<line x1="80.10" y1="367.1" x2="80.10" y2="369.1" stroke="#111" stroke-width="0.9"/>
<text x="80.10" y="378.70" font-size="6.5" fill="#2a2a2a" text-anchor="middle" stroke="#2a2a2a" stroke-width="0.22">−2</text>
<line x1="103.00" y1="367.1" x2="103.00" y2="369.1" stroke="#111" stroke-width="0.9"/>
<text x="103.00" y="378.70" font-size="6.5" fill="#2a2a2a" text-anchor="middle" stroke="#2a2a2a" stroke-width="0.22">−1</text>
<line x1="125.90" y1="367.1" x2="125.90" y2="369.1" stroke="#111" stroke-width="0.9"/>
<text x="125.90" y="378.70" font-size="6.5" fill="#2a2a2a" text-anchor="middle" stroke="#2a2a2a" stroke-width="0.22">0</text>
<line x1="148.80" y1="367.1" x2="148.80" y2="369.1" stroke="#111" stroke-width="0.9"/>
<text x="148.80" y="378.70" font-size="6.5" fill="#2a2a2a" text-anchor="middle" stroke="#2a2a2a" stroke-width="0.22">1</text>
<line x1="171.70" y1="367.1" x2="171.70" y2="369.1" stroke="#111" stroke-width="0.9"/>
<text x="171.70" y="378.70" font-size="6.5" fill="#2a2a2a" text-anchor="middle" stroke="#2a2a2a" stroke-width="0.22">2</text>
<line x1="73.8" y1="365.00" x2="76" y2="365.00" stroke="#111" stroke-width="0.9"/>
<text x="70.80" y="367.30" font-size="6.6" fill="#2a2a2a" text-anchor="end" stroke="#2a2a2a" stroke-width="0.22">0.0</text>
<line x1="73.8" y1="353.40" x2="76" y2="353.40" stroke="#111" stroke-width="0.9"/>
<text x="70.80" y="355.70" font-size="6.6" fill="#2a2a2a" text-anchor="end" stroke="#2a2a2a" stroke-width="0.22">2.5</text>
<line x1="73.8" y1="341.80" x2="76" y2="341.80" stroke="#111" stroke-width="0.9"/>
<text x="70.80" y="344.10" font-size="6.6" fill="#2a2a2a" text-anchor="end" stroke="#2a2a2a" stroke-width="0.22">5.0</text>
<line x1="73.8" y1="330.20" x2="76" y2="330.20" stroke="#111" stroke-width="0.9"/>
<text x="70.80" y="332.50" font-size="6.6" fill="#2a2a2a" text-anchor="end" stroke="#2a2a2a" stroke-width="0.22">7.5</text>
<line x1="73.8" y1="318.60" x2="76" y2="318.60" stroke="#111" stroke-width="0.9"/>
<text x="70.80" y="320.90" font-size="6.6" fill="#2a2a2a" text-anchor="end" stroke="#2a2a2a" stroke-width="0.22">10.0</text>
<text x="82.00" y="387.60" font-size="8.4" fill="#2a2a2a" font-weight="bold" textLength="85.0" lengthAdjust="spacingAndGlyphs">Diff. in mean normalized counts</text>
<text transform="translate(57.0,341.15) rotate(-90)" text-anchor="middle" font-size="6.6" font-weight="bold" fill="#222" textLength="33" lengthAdjust="spacingAndGlyphs">-log10(FDR)</text>
<text x="243.40" y="310.00" font-size="8.4" fill="#111" textLength="44.6" lengthAdjust="spacingAndGlyphs" stroke="#111" stroke-width="0.22">ENA v. VEH</text>
<circle cx="264" cy="361" r="1.6" fill="#bdbdbd"/>
<circle cx="266" cy="362.5" r="1.6" fill="#bdbdbd"/>
<circle cx="268" cy="361.5" r="1.6" fill="#bdbdbd"/>
<circle cx="265" cy="364" r="1.6" fill="#bdbdbd"/>
<circle cx="267.5" cy="364.5" r="1.6" fill="#bdbdbd"/>
<circle cx="269" cy="363" r="1.6" fill="#bdbdbd"/>
<line x1="215.4" y1="361.5" x2="316.1" y2="361.5" stroke="#8a8a8a" stroke-width="1"/>
<line x1="261.5" y1="315.2" x2="261.5" y2="367.1" stroke="#777" stroke-width="0.9"/>
<line x1="270.5" y1="315.2" x2="270.5" y2="367.1" stroke="#777" stroke-width="0.9"/>
<line x1="257.8" y1="318.6" x2="275.1" y2="317.2" stroke="#111" stroke-width="0.8"/>
<line x1="268.8" y1="323.7" x2="272.2" y2="332.1" stroke="#111" stroke-width="0.8"/>
<circle cx="275.1" cy="316.9" r="1.75" fill="#b01236"/>
<circle cx="249.6" cy="326.3" r="1.75" fill="#b01236"/>
<circle cx="248.5" cy="332.8" r="1.75" fill="#b01236"/>
<circle cx="250.1" cy="332.3" r="1.75" fill="#b01236"/>
<circle cx="251.5" cy="333.8" r="1.75" fill="#b01236"/>
<circle cx="273.7" cy="326.5" r="1.75" fill="#b01236"/>
<circle cx="272.5" cy="332.1" r="1.75" fill="#b01236"/>
<circle cx="276" cy="336.6" r="1.75" fill="#b01236"/>
<circle cx="271.7" cy="342.9" r="1.75" fill="#b01236"/>
<circle cx="272.2" cy="343.8" r="1.75" fill="#b01236"/>
<circle cx="272.7" cy="349.1" r="1.75" fill="#b01236"/>
<circle cx="273.2" cy="351" r="1.75" fill="#b01236"/>
<circle cx="273.2" cy="352.5" r="1.75" fill="#b01236"/>
<circle cx="272.2" cy="353.5" r="1.75" fill="#b01236"/>
<circle cx="272.7" cy="357.8" r="1.75" fill="#b01236"/>
<circle cx="272.2" cy="359.2" r="1.75" fill="#b01236"/>
<circle cx="256.3" cy="347.7" r="1.75" fill="#b01236"/>
<circle cx="257.8" cy="349.1" r="1.75" fill="#b01236"/>
<circle cx="258.8" cy="354.4" r="1.75" fill="#b01236"/>
<circle cx="259.7" cy="356.3" r="1.75" fill="#b01236"/>
<circle cx="260.7" cy="358.8" r="1.75" fill="#b01236"/>
<circle cx="261.3" cy="360.2" r="1.75" fill="#b01236"/>
<circle cx="261.9" cy="361" r="1.75" fill="#b01236"/>
<text x="239.60" y="320.50" font-size="5.7" fill="#333" stroke="#333" stroke-width="0.22">CD62P</text>
<text x="230.70" y="327.20" font-size="5.7" fill="#333" stroke="#333" stroke-width="0.22">CD141</text>
<text x="261.60" y="324.50" font-size="5.7" fill="#333" stroke="#333" stroke-width="0.22">CD2</text>
<text x="276.00" y="324.60" font-size="5.7" fill="#333" stroke="#333" stroke-width="0.22">CD3</text>
<text x="252.00" y="332.10" font-size="5.7" fill="#333" stroke="#333" stroke-width="0.22">CD138</text>
<text x="233.50" y="338.60" font-size="5.7" fill="#333" stroke="#333" stroke-width="0.22">CD15</text>
<text x="252.00" y="338.60" font-size="5.7" fill="#333" stroke="#333" stroke-width="0.22">CD83</text>
<text x="262.60" y="342.10" font-size="5.7" fill="#333" stroke="#333" stroke-width="0.22">CD4</text>
<text x="276.50" y="342.40" font-size="5.7" fill="#333" stroke="#333" stroke-width="0.22">CD64</text>
<text x="240.00" y="345.90" font-size="5.7" fill="#333" stroke="#333" stroke-width="0.22">CD30</text>
<text x="259.20" y="352.50" font-size="5.7" fill="#333" stroke="#333" stroke-width="0.22">CD33</text>
<rect x="215.4" y="315.2" width="100.70000000000002" height="51.900000000000034" fill="none" stroke="#111" stroke-width="1.1"/>
<line x1="220.30" y1="367.1" x2="220.30" y2="369.1" stroke="#111" stroke-width="0.9"/>
<text x="220.30" y="378.70" font-size="6.5" fill="#2a2a2a" text-anchor="middle" stroke="#2a2a2a" stroke-width="0.22">−2</text>
<line x1="243.20" y1="367.1" x2="243.20" y2="369.1" stroke="#111" stroke-width="0.9"/>
<text x="243.20" y="378.70" font-size="6.5" fill="#2a2a2a" text-anchor="middle" stroke="#2a2a2a" stroke-width="0.22">−1</text>
<line x1="266.10" y1="367.1" x2="266.10" y2="369.1" stroke="#111" stroke-width="0.9"/>
<text x="266.10" y="378.70" font-size="6.5" fill="#2a2a2a" text-anchor="middle" stroke="#2a2a2a" stroke-width="0.22">0</text>
<line x1="289.00" y1="367.1" x2="289.00" y2="369.1" stroke="#111" stroke-width="0.9"/>
<text x="289.00" y="378.70" font-size="6.5" fill="#2a2a2a" text-anchor="middle" stroke="#2a2a2a" stroke-width="0.22">1</text>
<line x1="311.90" y1="367.1" x2="311.90" y2="369.1" stroke="#111" stroke-width="0.9"/>
<text x="311.90" y="378.70" font-size="6.5" fill="#2a2a2a" text-anchor="middle" stroke="#2a2a2a" stroke-width="0.22">2</text>
<line x1="213.20000000000002" y1="365.40" x2="215.4" y2="365.40" stroke="#111" stroke-width="0.9"/>
<text x="209.60" y="367.70" font-size="6.6" fill="#2a2a2a" text-anchor="end" stroke="#2a2a2a" stroke-width="0.22">0</text>
<line x1="213.20000000000002" y1="352.40" x2="215.4" y2="352.40" stroke="#111" stroke-width="0.9"/>
<text x="209.60" y="354.70" font-size="6.6" fill="#2a2a2a" text-anchor="end" stroke="#2a2a2a" stroke-width="0.22">5</text>
<line x1="213.20000000000002" y1="339.40" x2="215.4" y2="339.40" stroke="#111" stroke-width="0.9"/>
<text x="209.60" y="341.70" font-size="6.6" fill="#2a2a2a" text-anchor="end" stroke="#2a2a2a" stroke-width="0.22">10</text>
<line x1="213.20000000000002" y1="326.40" x2="215.4" y2="326.40" stroke="#111" stroke-width="0.9"/>
<text x="209.60" y="328.70" font-size="6.6" fill="#2a2a2a" text-anchor="end" stroke="#2a2a2a" stroke-width="0.22">15</text>
<text x="223.30" y="387.60" font-size="8.4" fill="#2a2a2a" font-weight="bold" textLength="84.2" lengthAdjust="spacingAndGlyphs">Diff. in mean normalized counts</text>
<text transform="translate(198.7,341.15) rotate(-90)" text-anchor="middle" font-size="6.6" font-weight="bold" fill="#222" textLength="33" lengthAdjust="spacingAndGlyphs">-log10(FDR)</text>
<text x="374.30" y="310.20" font-size="8.4" fill="#111" textLength="65.7" lengthAdjust="spacingAndGlyphs" stroke="#111" stroke-width="0.22">IVO+ENA v. VEH</text>
<circle cx="404" cy="362" r="1.6" fill="#bdbdbd"/>
<circle cx="406" cy="363.5" r="1.6" fill="#bdbdbd"/>
<circle cx="408" cy="362.5" r="1.6" fill="#bdbdbd"/>
<circle cx="410" cy="364" r="1.6" fill="#bdbdbd"/>
<circle cx="405.5" cy="365" r="1.6" fill="#bdbdbd"/>
<circle cx="409" cy="365.5" r="1.6" fill="#bdbdbd"/>
<line x1="356.9" y1="363.5" x2="457.2" y2="363.5" stroke="#8a8a8a" stroke-width="1"/>
<line x1="402.5" y1="315.4" x2="402.5" y2="367.4" stroke="#777" stroke-width="0.9"/>
<line x1="411.5" y1="315.4" x2="411.5" y2="367.4" stroke="#777" stroke-width="0.9"/>
<line x1="420.1" y1="351.9" x2="427.3" y2="358.7" stroke="#111" stroke-width="0.8"/>
<circle cx="382.3" cy="317.0" r="1.75" fill="#b01236"/>
<circle cx="382.3" cy="318.6" r="1.75" fill="#b01236"/>
<circle cx="385.8" cy="322.8" r="1.75" fill="#b01236"/>
<circle cx="422.3" cy="333.2" r="1.75" fill="#b01236"/>
<circle cx="417.9" cy="344.7" r="1.75" fill="#b01236"/>
<circle cx="420.8" cy="345.2" r="1.75" fill="#b01236"/>
<circle cx="413.1" cy="347.6" r="1.75" fill="#b01236"/>
<circle cx="413.4" cy="349" r="1.75" fill="#b01236"/>
<circle cx="418.5" cy="350.8" r="1.75" fill="#b01236"/>
<circle cx="396.7" cy="348.1" r="1.75" fill="#b01236"/>
<circle cx="397.3" cy="349" r="1.75" fill="#b01236"/>
<circle cx="392.2" cy="350.5" r="1.75" fill="#b01236"/>
<circle cx="398" cy="355.6" r="1.75" fill="#b01236"/>
<circle cx="399" cy="356.7" r="1.75" fill="#b01236"/>
<circle cx="399.9" cy="358.2" r="1.75" fill="#b01236"/>
<circle cx="400.4" cy="360.1" r="1.75" fill="#b01236"/>
<circle cx="400.9" cy="361.5" r="1.75" fill="#b01236"/>
<circle cx="412.4" cy="358.2" r="1.75" fill="#b01236"/>
<circle cx="413.4" cy="359.6" r="1.75" fill="#b01236"/>
<circle cx="415.3" cy="360.8" r="1.75" fill="#b01236"/>
<circle cx="416.3" cy="360.1" r="1.75" fill="#b01236"/>
<circle cx="412.9" cy="361.5" r="1.75" fill="#b01236"/>
<text x="365.80" y="322.30" font-size="5.7" fill="#333" stroke="#333" stroke-width="0.22">CD138</text>
<text x="386.20" y="328.50" font-size="5.7" fill="#333" stroke="#333" stroke-width="0.22">CD83</text>
<text x="410.50" y="337.20" font-size="5.7" fill="#333" stroke="#333" stroke-width="0.22">CD49d</text>
<text x="410.50" y="341.00" font-size="5.7" fill="#333" stroke="#333" stroke-width="0.22">CD4</text>
<text x="403.30" y="344.30" font-size="5.7" fill="#333" stroke="#333" stroke-width="0.22">CD3</text>
<text x="397.50" y="348.10" font-size="5.7" fill="#333" stroke="#333" stroke-width="0.22">CD7</text>
<text x="423.50" y="347.20" font-size="5.7" fill="#333" stroke="#333" stroke-width="0.22">CD33</text>
<text x="377.70" y="356.00" font-size="5.7" fill="#333" stroke="#333" stroke-width="0.22">CD16</text>
<text x="406.00" y="353.90" font-size="5.7" fill="#333" stroke="#333" stroke-width="0.22">CD62P</text>
<text x="426.80" y="360.10" font-size="5.7" fill="#333" stroke="#333" stroke-width="0.22">CD44</text>
<rect x="356.9" y="315.4" width="100.30000000000001" height="52.0" fill="none" stroke="#111" stroke-width="1.1"/>
<line x1="361.50" y1="367.4" x2="361.50" y2="369.4" stroke="#111" stroke-width="0.9"/>
<text x="361.50" y="379.00" font-size="6.5" fill="#2a2a2a" text-anchor="middle" stroke="#2a2a2a" stroke-width="0.22">−2</text>
<line x1="384.40" y1="367.4" x2="384.40" y2="369.4" stroke="#111" stroke-width="0.9"/>
<text x="384.40" y="379.00" font-size="6.5" fill="#2a2a2a" text-anchor="middle" stroke="#2a2a2a" stroke-width="0.22">−1</text>
<line x1="407.30" y1="367.4" x2="407.30" y2="369.4" stroke="#111" stroke-width="0.9"/>
<text x="407.30" y="379.00" font-size="6.5" fill="#2a2a2a" text-anchor="middle" stroke="#2a2a2a" stroke-width="0.22">0</text>
<line x1="430.20" y1="367.4" x2="430.20" y2="369.4" stroke="#111" stroke-width="0.9"/>
<text x="430.20" y="379.00" font-size="6.5" fill="#2a2a2a" text-anchor="middle" stroke="#2a2a2a" stroke-width="0.22">1</text>
<line x1="453.10" y1="367.4" x2="453.10" y2="369.4" stroke="#111" stroke-width="0.9"/>
<text x="453.10" y="379.00" font-size="6.5" fill="#2a2a2a" text-anchor="middle" stroke="#2a2a2a" stroke-width="0.22">2</text>
<line x1="354.7" y1="365.40" x2="356.9" y2="365.40" stroke="#111" stroke-width="0.9"/>
<text x="351.50" y="367.70" font-size="6.6" fill="#2a2a2a" text-anchor="end" stroke="#2a2a2a" stroke-width="0.22">0</text>
<line x1="354.7" y1="348.10" x2="356.9" y2="348.10" stroke="#111" stroke-width="0.9"/>
<text x="351.50" y="350.40" font-size="6.6" fill="#2a2a2a" text-anchor="end" stroke="#2a2a2a" stroke-width="0.22">10</text>
<line x1="354.7" y1="330.80" x2="356.9" y2="330.80" stroke="#111" stroke-width="0.9"/>
<text x="351.50" y="333.10" font-size="6.6" fill="#2a2a2a" text-anchor="end" stroke="#2a2a2a" stroke-width="0.22">20</text>
<text x="367.00" y="387.90" font-size="8.4" fill="#2a2a2a" font-weight="bold" textLength="85.5" lengthAdjust="spacingAndGlyphs">Diff. in mean normalized counts</text>
<text transform="translate(339.2,341.4) rotate(-90)" text-anchor="middle" font-size="6.6" font-weight="bold" fill="#222" textLength="33" lengthAdjust="spacingAndGlyphs">-log10(FDR)</text>
<text x="102.00" y="411.40" font-size="8.4" fill="#111" textLength="42.5" lengthAdjust="spacingAndGlyphs" stroke="#111" stroke-width="0.22">IVO v. VEH</text>
<circle cx="121.5" cy="464" r="1.6" fill="#bdbdbd"/>
<circle cx="123.5" cy="465" r="1.6" fill="#bdbdbd"/>
<circle cx="125.5" cy="464.5" r="1.6" fill="#bdbdbd"/>
<circle cx="127.5" cy="465.5" r="1.6" fill="#bdbdbd"/>
<circle cx="124.5" cy="466.5" r="1.6" fill="#bdbdbd"/>
<line x1="74.2" y1="463.5" x2="175.2" y2="463.5" stroke="#8a8a8a" stroke-width="1"/>
<line x1="120.5" y1="416.6" x2="120.5" y2="468.2" stroke="#777" stroke-width="0.9"/>
<line x1="129.5" y1="416.6" x2="129.5" y2="468.2" stroke="#777" stroke-width="0.9"/>
<circle cx="101.9" cy="417.7" r="1.75" fill="#b01236"/>
<circle cx="109.8" cy="451.5" r="1.75" fill="#b01236"/>
<circle cx="117.3" cy="457.9" r="1.75" fill="#b01236"/>
<circle cx="117.3" cy="459.6" r="1.75" fill="#b01236"/>
<circle cx="117.5" cy="461.3" r="1.75" fill="#b01236"/>
<circle cx="134" cy="454.4" r="1.75" fill="#b01236"/>
<circle cx="134.6" cy="458.5" r="1.75" fill="#b01236"/>
<circle cx="133.4" cy="459.6" r="1.75" fill="#b01236"/>
<circle cx="131.7" cy="460.2" r="1.75" fill="#b01236"/>
<circle cx="130.6" cy="460.5" r="1.75" fill="#b01236"/>
<circle cx="132.5" cy="461" r="1.75" fill="#b01236"/>
<text x="94.40" y="424.40" font-size="5.7" fill="#333" stroke="#333" stroke-width="0.22">CD38</text>
<text x="92.90" y="449.40" font-size="5.7" fill="#333" stroke="#333" stroke-width="0.22">CD117</text>
<text x="133.40" y="452.50" font-size="5.7" fill="#333" stroke="#333" stroke-width="0.22">CD11b</text>
<rect x="74.2" y="416.6" width="100.99999999999999" height="51.599999999999966" fill="none" stroke="#111" stroke-width="1.1"/>
<line x1="80.00" y1="468.2" x2="80.00" y2="470.2" stroke="#111" stroke-width="0.9"/>
<text x="80.00" y="479.80" font-size="6.5" fill="#2a2a2a" text-anchor="middle" stroke="#2a2a2a" stroke-width="0.22">−2</text>
<line x1="102.60" y1="468.2" x2="102.60" y2="470.2" stroke="#111" stroke-width="0.9"/>
<text x="102.60" y="479.80" font-size="6.5" fill="#2a2a2a" text-anchor="middle" stroke="#2a2a2a" stroke-width="0.22">−1</text>
<line x1="125.20" y1="468.2" x2="125.20" y2="470.2" stroke="#111" stroke-width="0.9"/>
<text x="125.20" y="479.80" font-size="6.5" fill="#2a2a2a" text-anchor="middle" stroke="#2a2a2a" stroke-width="0.22">0</text>
<line x1="147.80" y1="468.2" x2="147.80" y2="470.2" stroke="#111" stroke-width="0.9"/>
<text x="147.80" y="479.80" font-size="6.5" fill="#2a2a2a" text-anchor="middle" stroke="#2a2a2a" stroke-width="0.22">1</text>
<line x1="170.40" y1="468.2" x2="170.40" y2="470.2" stroke="#111" stroke-width="0.9"/>
<text x="170.40" y="479.80" font-size="6.5" fill="#2a2a2a" text-anchor="middle" stroke="#2a2a2a" stroke-width="0.22">2</text>
<line x1="72.0" y1="466.70" x2="74.2" y2="466.70" stroke="#111" stroke-width="0.9"/>
<text x="68.50" y="469.00" font-size="6.6" fill="#2a2a2a" text-anchor="end" stroke="#2a2a2a" stroke-width="0.22">0</text>
<line x1="72.0" y1="454.90" x2="74.2" y2="454.90" stroke="#111" stroke-width="0.9"/>
<text x="68.50" y="457.20" font-size="6.6" fill="#2a2a2a" text-anchor="end" stroke="#2a2a2a" stroke-width="0.22">5</text>
<line x1="72.0" y1="443.10" x2="74.2" y2="443.10" stroke="#111" stroke-width="0.9"/>
<text x="68.50" y="445.40" font-size="6.6" fill="#2a2a2a" text-anchor="end" stroke="#2a2a2a" stroke-width="0.22">10</text>
<line x1="72.0" y1="431.30" x2="74.2" y2="431.30" stroke="#111" stroke-width="0.9"/>
<text x="68.50" y="433.60" font-size="6.6" fill="#2a2a2a" text-anchor="end" stroke="#2a2a2a" stroke-width="0.22">15</text>
<line x1="72.0" y1="419.50" x2="74.2" y2="419.50" stroke="#111" stroke-width="0.9"/>
<text x="68.50" y="421.80" font-size="6.6" fill="#2a2a2a" text-anchor="end" stroke="#2a2a2a" stroke-width="0.22">20</text>
<text x="76.30" y="491.10" font-size="8.4" fill="#2a2a2a" font-weight="bold" textLength="85.7" lengthAdjust="spacingAndGlyphs">Diff. in mean normalized counts</text>
<text transform="translate(54.400000000000006,442.4) rotate(-90)" text-anchor="middle" font-size="6.6" font-weight="bold" fill="#222" textLength="33" lengthAdjust="spacingAndGlyphs">-log10(FDR)</text>
<text x="245.00" y="411.50" font-size="8.4" fill="#111" textLength="44.5" lengthAdjust="spacingAndGlyphs" stroke="#111" stroke-width="0.22">ENA v. VEH</text>
<circle cx="262" cy="463" r="1.6" fill="#bdbdbd"/>
<circle cx="264" cy="464.5" r="1.6" fill="#bdbdbd"/>
<circle cx="266.5" cy="463.5" r="1.6" fill="#bdbdbd"/>
<circle cx="268.5" cy="465" r="1.6" fill="#bdbdbd"/>
<circle cx="270.5" cy="464" r="1.6" fill="#bdbdbd"/>
<line x1="216.3" y1="462.5" x2="316.3" y2="462.5" stroke="#8a8a8a" stroke-width="1"/>
<line x1="262.5" y1="416.7" x2="262.5" y2="468.2" stroke="#777" stroke-width="0.9"/>
<line x1="271.5" y1="416.7" x2="271.5" y2="468.2" stroke="#777" stroke-width="0.9"/>
<circle cx="238.3" cy="417.9" r="1.75" fill="#b01236"/>
<circle cx="242.6" cy="433.8" r="1.75" fill="#b01236"/>
<circle cx="253.1" cy="444.6" r="1.75" fill="#b01236"/>
<circle cx="255.6" cy="455.7" r="1.75" fill="#b01236"/>
<circle cx="256" cy="457.6" r="1.75" fill="#b01236"/>
<circle cx="258.2" cy="459" r="1.75" fill="#b01236"/>
<circle cx="259.3" cy="460" r="1.75" fill="#b01236"/>
<circle cx="260.4" cy="460.9" r="1.75" fill="#b01236"/>
<circle cx="259.8" cy="461.5" r="1.75" fill="#b01236"/>
<circle cx="280.6" cy="441.7" r="1.75" fill="#b01236"/>
<circle cx="291.7" cy="440.7" r="1.75" fill="#b01236"/>
<circle cx="274.8" cy="454" r="1.75" fill="#b01236"/>
<circle cx="277.2" cy="457.6" r="1.75" fill="#b01236"/>
<circle cx="273.3" cy="458" r="1.75" fill="#b01236"/>
<circle cx="272.6" cy="459" r="1.75" fill="#b01236"/>
<circle cx="273.8" cy="460" r="1.75" fill="#b01236"/>
<text x="239.10" y="424.00" font-size="5.7" fill="#333" stroke="#333" stroke-width="0.22">CD71</text>
<text x="227.20" y="439.20" font-size="5.7" fill="#333" stroke="#333" stroke-width="0.22">CD117</text>
<text x="236.80" y="450.40" font-size="5.7" fill="#333" stroke="#333" stroke-width="0.22">CD141</text>
<text x="264.70" y="447.00" font-size="5.7" fill="#333" stroke="#333" stroke-width="0.22">CD11b</text>
<text x="293.30" y="438.00" font-size="5.7" fill="#333" stroke="#333" stroke-width="0.22">CD16</text>
<rect x="216.3" y="416.7" width="100.0" height="51.5" fill="none" stroke="#111" stroke-width="1.1"/>
<line x1="220.80" y1="468.2" x2="220.80" y2="470.2" stroke="#111" stroke-width="0.9"/>
<text x="220.80" y="479.80" font-size="6.5" fill="#2a2a2a" text-anchor="middle" stroke="#2a2a2a" stroke-width="0.22">−2</text>
<line x1="243.80" y1="468.2" x2="243.80" y2="470.2" stroke="#111" stroke-width="0.9"/>
<text x="243.80" y="479.80" font-size="6.5" fill="#2a2a2a" text-anchor="middle" stroke="#2a2a2a" stroke-width="0.22">−1</text>
<line x1="266.80" y1="468.2" x2="266.80" y2="470.2" stroke="#111" stroke-width="0.9"/>
<text x="266.80" y="479.80" font-size="6.5" fill="#2a2a2a" text-anchor="middle" stroke="#2a2a2a" stroke-width="0.22">0</text>
<line x1="289.80" y1="468.2" x2="289.80" y2="470.2" stroke="#111" stroke-width="0.9"/>
<text x="289.80" y="479.80" font-size="6.5" fill="#2a2a2a" text-anchor="middle" stroke="#2a2a2a" stroke-width="0.22">1</text>
<line x1="312.80" y1="468.2" x2="312.80" y2="470.2" stroke="#111" stroke-width="0.9"/>
<text x="312.80" y="479.80" font-size="6.5" fill="#2a2a2a" text-anchor="middle" stroke="#2a2a2a" stroke-width="0.22">2</text>
<line x1="214.10000000000002" y1="466.30" x2="216.3" y2="466.30" stroke="#111" stroke-width="0.9"/>
<text x="210.50" y="468.60" font-size="6.6" fill="#2a2a2a" text-anchor="end" stroke="#2a2a2a" stroke-width="0.22">0</text>
<line x1="214.10000000000002" y1="450.65" x2="216.3" y2="450.65" stroke="#111" stroke-width="0.9"/>
<text x="210.50" y="452.95" font-size="6.6" fill="#2a2a2a" text-anchor="end" stroke="#2a2a2a" stroke-width="0.22">5</text>
<line x1="214.10000000000002" y1="435.00" x2="216.3" y2="435.00" stroke="#111" stroke-width="0.9"/>
<text x="210.50" y="437.30" font-size="6.6" fill="#2a2a2a" text-anchor="end" stroke="#2a2a2a" stroke-width="0.22">10</text>
<line x1="214.10000000000002" y1="419.35" x2="216.3" y2="419.35" stroke="#111" stroke-width="0.9"/>
<text x="210.50" y="421.65" font-size="6.6" fill="#2a2a2a" text-anchor="end" stroke="#2a2a2a" stroke-width="0.22">15</text>
<text x="218.00" y="491.10" font-size="8.4" fill="#2a2a2a" font-weight="bold" textLength="86.0" lengthAdjust="spacingAndGlyphs">Diff. in mean normalized counts</text>
<text transform="translate(196.2,442.45) rotate(-90)" text-anchor="middle" font-size="6.6" font-weight="bold" fill="#222" textLength="33" lengthAdjust="spacingAndGlyphs">-log10(FDR)</text>
<text x="375.80" y="411.30" font-size="8.4" fill="#111" textLength="65.0" lengthAdjust="spacingAndGlyphs" stroke="#111" stroke-width="0.22">IVO+ENA v. VEH</text>
<circle cx="405.5" cy="464.5" r="1.6" fill="#bdbdbd"/>
<circle cx="407.5" cy="465.5" r="1.6" fill="#bdbdbd"/>
<circle cx="409.5" cy="464.8" r="1.6" fill="#bdbdbd"/>
<circle cx="411.5" cy="465.8" r="1.6" fill="#bdbdbd"/>
<circle cx="408.5" cy="466.6" r="1.6" fill="#bdbdbd"/>
<line x1="358.0" y1="463.5" x2="457.6" y2="463.5" stroke="#8a8a8a" stroke-width="1"/>
<line x1="404.5" y1="416.5" x2="404.5" y2="468.2" stroke="#777" stroke-width="0.9"/>
<line x1="413.5" y1="416.5" x2="413.5" y2="468.2" stroke="#777" stroke-width="0.9"/>
<line x1="429.2" y1="440.3" x2="420.6" y2="446.7" stroke="#111" stroke-width="0.8"/>
<circle cx="373.4" cy="417.9" r="1.75" fill="#b01236"/>
<circle cx="430.7" cy="422.9" r="1.75" fill="#b01236"/>
<circle cx="381.6" cy="434.9" r="1.75" fill="#b01236"/>
<circle cx="425.6" cy="441.7" r="1.75" fill="#b01236"/>
<circle cx="424.2" cy="443.1" r="1.75" fill="#b01236"/>
<circle cx="422" cy="445.3" r="1.75" fill="#b01236"/>
<circle cx="420.6" cy="446.7" r="1.75" fill="#b01236"/>
<circle cx="419.8" cy="447.9" r="1.75" fill="#b01236"/>
<circle cx="394.6" cy="452.5" r="1.75" fill="#b01236"/>
<circle cx="396" cy="456.1" r="1.75" fill="#b01236"/>
<circle cx="396.7" cy="456.8" r="1.75" fill="#b01236"/>
<circle cx="398.2" cy="456.8" r="1.75" fill="#b01236"/>
<circle cx="397.5" cy="458.3" r="1.75" fill="#b01236"/>
<circle cx="395.5" cy="457" r="1.75" fill="#b01236"/>
<circle cx="401.8" cy="461.9" r="1.75" fill="#b01236"/>
<circle cx="402.5" cy="462.5" r="1.75" fill="#b01236"/>
<circle cx="422" cy="453.7" r="1.75" fill="#b01236"/>
<circle cx="422.7" cy="455.1" r="1.75" fill="#b01236"/>
<circle cx="421.3" cy="456.8" r="1.75" fill="#b01236"/>
<circle cx="424.9" cy="457.6" r="1.75" fill="#b01236"/>
<circle cx="420.6" cy="458.3" r="1.75" fill="#b01236"/>
<circle cx="418.4" cy="460" r="1.75" fill="#b01236"/>
<circle cx="416.2" cy="461.5" r="1.75" fill="#b01236"/>
<circle cx="415.5" cy="462.6" r="1.75" fill="#b01236"/>
<text x="374.00" y="424.40" font-size="5.7" fill="#333" stroke="#333" stroke-width="0.22">CD117</text>
<text x="414.80" y="428.70" font-size="5.7" fill="#333" stroke="#333" stroke-width="0.22">CD11b</text>
<text x="368.20" y="440.70" font-size="5.7" fill="#333" stroke="#333" stroke-width="0.22">CD71</text>
<text x="430.00" y="439.20" font-size="5.7" fill="#333" stroke="#333" stroke-width="0.22">CD49d</text>
<text x="417.00" y="446.00" font-size="5.7" fill="#333" stroke="#333" stroke-width="0.22">CD45</text>
<text x="380.20" y="449.60" font-size="5.7" fill="#333" stroke="#333" stroke-width="0.22">CD83</text>
<text x="379.10" y="457.10" font-size="5.7" fill="#333" stroke="#333" stroke-width="0.22">CD30</text>
<text x="404.70" y="453.20" font-size="5.7" fill="#333" stroke="#333" stroke-width="0.22">CD64</text>
<text x="425.30" y="453.20" font-size="5.7" fill="#333" stroke="#333" stroke-width="0.22">CD11c</text>
<rect x="358.0" y="416.5" width="99.60000000000002" height="51.69999999999999" fill="none" stroke="#111" stroke-width="1.1"/>
<line x1="363.00" y1="468.2" x2="363.00" y2="470.2" stroke="#111" stroke-width="0.9"/>
<text x="363.00" y="479.80" font-size="6.5" fill="#2a2a2a" text-anchor="middle" stroke="#2a2a2a" stroke-width="0.22">−2</text>
<line x1="385.90" y1="468.2" x2="385.90" y2="470.2" stroke="#111" stroke-width="0.9"/>
<text x="385.90" y="479.80" font-size="6.5" fill="#2a2a2a" text-anchor="middle" stroke="#2a2a2a" stroke-width="0.22">−1</text>
<line x1="408.80" y1="468.2" x2="408.80" y2="470.2" stroke="#111" stroke-width="0.9"/>
<text x="408.80" y="479.80" font-size="6.5" fill="#2a2a2a" text-anchor="middle" stroke="#2a2a2a" stroke-width="0.22">0</text>
<line x1="431.70" y1="468.2" x2="431.70" y2="470.2" stroke="#111" stroke-width="0.9"/>
<text x="431.70" y="479.80" font-size="6.5" fill="#2a2a2a" text-anchor="middle" stroke="#2a2a2a" stroke-width="0.22">1</text>
<line x1="454.60" y1="468.2" x2="454.60" y2="470.2" stroke="#111" stroke-width="0.9"/>
<text x="454.60" y="479.80" font-size="6.5" fill="#2a2a2a" text-anchor="middle" stroke="#2a2a2a" stroke-width="0.22">2</text>
<line x1="355.8" y1="466.30" x2="358.0" y2="466.30" stroke="#111" stroke-width="0.9"/>
<text x="351.80" y="468.60" font-size="6.6" fill="#2a2a2a" text-anchor="end" stroke="#2a2a2a" stroke-width="0.22">0</text>
<line x1="355.8" y1="455.80" x2="358.0" y2="455.80" stroke="#111" stroke-width="0.9"/>
<text x="351.80" y="458.10" font-size="6.6" fill="#2a2a2a" text-anchor="end" stroke="#2a2a2a" stroke-width="0.22">5</text>
<line x1="355.8" y1="445.30" x2="358.0" y2="445.30" stroke="#111" stroke-width="0.9"/>
<text x="351.80" y="447.60" font-size="6.6" fill="#2a2a2a" text-anchor="end" stroke="#2a2a2a" stroke-width="0.22">10</text>
<line x1="355.8" y1="434.80" x2="358.0" y2="434.80" stroke="#111" stroke-width="0.9"/>
<text x="351.80" y="437.10" font-size="6.6" fill="#2a2a2a" text-anchor="end" stroke="#2a2a2a" stroke-width="0.22">15</text>
<line x1="355.8" y1="424.30" x2="358.0" y2="424.30" stroke="#111" stroke-width="0.9"/>
<text x="351.80" y="426.60" font-size="6.6" fill="#2a2a2a" text-anchor="end" stroke="#2a2a2a" stroke-width="0.22">20</text>
<text x="369.00" y="491.10" font-size="8.4" fill="#2a2a2a" font-weight="bold" textLength="85.6" lengthAdjust="spacingAndGlyphs">Diff. in mean normalized counts</text>
<text transform="translate(338.7,442.35) rotate(-90)" text-anchor="middle" font-size="6.6" font-weight="bold" fill="#222" textLength="33" lengthAdjust="spacingAndGlyphs">-log10(FDR)</text>
<text x="484.60" y="373.00" font-size="6.4" fill="#1e1e1e" text-anchor="middle" font-style="italic" textLength="29.2" lengthAdjust="spacingAndGlyphs" stroke="#1e1e1e" stroke-width="0.22">FDR &lt; .05</text>
<text x="484.50" y="380.90" font-size="6.4" fill="#1e1e1e" text-anchor="middle" font-style="italic" textLength="38.8" lengthAdjust="spacingAndGlyphs" stroke="#1e1e1e" stroke-width="0.22">|contrast| &lt; .2</text>
<text x="484.40" y="388.30" font-size="6.4" fill="#1e1e1e" text-anchor="middle" textLength="29.7" lengthAdjust="spacingAndGlyphs" stroke="#1e1e1e" stroke-width="0.22">Significant</text>
<circle cx="474.6" cy="398.6" r="1.4" fill="#bdbdbd"/>
<circle cx="474.0" cy="407.0" r="1.5" fill="#b01236"/>
<text x="478.50" y="400.80" font-size="6.4" fill="#1e1e1e" stroke="#1e1e1e" stroke-width="0.22">No</text>
<text x="478.50" y="409.10" font-size="6.4" fill="#1e1e1e" stroke="#1e1e1e" stroke-width="0.22">Yes</text>
<text x="25.00" y="515.80" font-size="11.2" fill="#000" font-weight="bold">F</text>
<text x="104.50" y="513.50" font-size="8.5" fill="#222" textLength="73.5" lengthAdjust="spacingAndGlyphs" stroke="#222" stroke-width="0.22">mIDH1 Pseudobulk</text>
<text x="325.00" y="513.30" font-size="8.5" fill="#222" textLength="73.0" lengthAdjust="spacingAndGlyphs" stroke="#222" stroke-width="0.22">mIDH2 Pseudobulk</text>
<text transform="translate(65.60,544.6) rotate(-90)" font-size="5.9" fill="#1a1a1a" stroke="#1a1a1a" stroke-width="0.3">CD44</text>
<text transform="translate(73.00,544.6) rotate(-90)" font-size="5.9" fill="#1a1a1a" stroke="#1a1a1a" stroke-width="0.3">CD11b</text>
<text transform="translate(80.40,544.6) rotate(-90)" font-size="5.9" fill="#1a1a1a" stroke="#1a1a1a" stroke-width="0.3">CD45</text>
<text transform="translate(87.80,544.6) rotate(-90)" font-size="5.9" fill="#1a1a1a" stroke="#1a1a1a" stroke-width="0.3">CD11c</text>
<text transform="translate(95.20,544.6) rotate(-90)" font-size="5.9" fill="#1a1a1a" stroke="#1a1a1a" stroke-width="0.3">CD4</text>
<text transform="translate(102.60,544.6) rotate(-90)" font-size="5.9" fill="#1a1a1a" stroke="#1a1a1a" stroke-width="0.3">CD33</text>
<text transform="translate(110.00,544.6) rotate(-90)" font-size="5.9" fill="#1a1a1a" stroke="#1a1a1a" stroke-width="0.3">CD64</text>
<text transform="translate(117.40,544.6) rotate(-90)" font-size="5.9" fill="#1a1a1a" stroke="#1a1a1a" stroke-width="0.3">CD16</text>
<text transform="translate(124.80,544.6) rotate(-90)" font-size="5.9" fill="#1a1a1a" stroke="#1a1a1a" stroke-width="0.3">CD22</text>
<text transform="translate(132.20,544.6) rotate(-90)" font-size="5.9" fill="#1a1a1a" stroke="#1a1a1a" stroke-width="0.3">CD45RA</text>
<text transform="translate(139.60,544.6) rotate(-90)" font-size="5.9" fill="#1a1a1a" stroke="#1a1a1a" stroke-width="0.3">CD10</text>
<text transform="translate(147.00,544.6) rotate(-90)" font-size="5.9" fill="#1a1a1a" stroke="#1a1a1a" stroke-width="0.3">CD90</text>
<text transform="translate(154.40,544.6) rotate(-90)" font-size="5.9" fill="#1a1a1a" stroke="#1a1a1a" stroke-width="0.3">CD163</text>
<text transform="translate(161.80,544.6) rotate(-90)" font-size="5.9" fill="#1a1a1a" stroke="#1a1a1a" stroke-width="0.3">CD83</text>
<text transform="translate(169.20,544.6) rotate(-90)" font-size="5.9" fill="#1a1a1a" stroke="#1a1a1a" stroke-width="0.3">CD30</text>
<text transform="translate(176.60,544.6) rotate(-90)" font-size="5.9" fill="#1a1a1a" stroke="#1a1a1a" stroke-width="0.3">CD138</text>
<text transform="translate(184.00,544.6) rotate(-90)" font-size="5.9" fill="#1a1a1a" stroke="#1a1a1a" stroke-width="0.3">CD69</text>
<text transform="translate(191.40,544.6) rotate(-90)" font-size="5.9" fill="#1a1a1a" stroke="#1a1a1a" stroke-width="0.3">CD7</text>
<text transform="translate(198.80,544.6) rotate(-90)" font-size="5.9" fill="#1a1a1a" stroke="#1a1a1a" stroke-width="0.3">CD141</text>
<text transform="translate(206.20,544.6) rotate(-90)" font-size="5.9" fill="#1a1a1a" stroke="#1a1a1a" stroke-width="0.3">CD38</text>
<text transform="translate(213.60,544.6) rotate(-90)" font-size="5.9" fill="#1a1a1a" stroke="#1a1a1a" stroke-width="0.3">CD71</text>
<text transform="translate(221.00,544.6) rotate(-90)" font-size="5.9" fill="#1a1a1a" stroke="#1a1a1a" stroke-width="0.3">CD117</text>
<text transform="translate(281.80,544.6) rotate(-90)" font-size="5.9" fill="#1a1a1a" stroke="#1a1a1a" stroke-width="0.3">CD16</text>
<text transform="translate(290.38,544.6) rotate(-90)" font-size="5.9" fill="#1a1a1a" stroke="#1a1a1a" stroke-width="0.3">CD11b</text>
<text transform="translate(298.98,544.6) rotate(-90)" font-size="5.9" fill="#1a1a1a" stroke="#1a1a1a" stroke-width="0.3">CD10</text>
<text transform="translate(307.56,544.6) rotate(-90)" font-size="5.9" fill="#1a1a1a" stroke="#1a1a1a" stroke-width="0.3">CD64</text>
<text transform="translate(316.15,544.6) rotate(-90)" font-size="5.9" fill="#1a1a1a" stroke="#1a1a1a" stroke-width="0.3">CD45</text>
<text transform="translate(324.75,544.6) rotate(-90)" font-size="5.9" fill="#1a1a1a" stroke="#1a1a1a" stroke-width="0.3">CD13</text>
<text transform="translate(333.33,544.6) rotate(-90)" font-size="5.9" fill="#1a1a1a" stroke="#1a1a1a" stroke-width="0.3">CD45RO</text>
<text transform="translate(341.93,544.6) rotate(-90)" font-size="5.9" fill="#1a1a1a" stroke="#1a1a1a" stroke-width="0.3">HLA_DR</text>
<text transform="translate(350.51,544.6) rotate(-90)" font-size="5.9" fill="#1a1a1a" stroke="#1a1a1a" stroke-width="0.3">CD11c</text>
<text transform="translate(359.11,544.6) rotate(-90)" font-size="5.9" fill="#1a1a1a" stroke="#1a1a1a" stroke-width="0.3">CD45RA</text>
<text transform="translate(367.69,544.6) rotate(-90)" font-size="5.9" fill="#1a1a1a" stroke="#1a1a1a" stroke-width="0.3">CD62L</text>
<text transform="translate(376.28,544.6) rotate(-90)" font-size="5.9" fill="#1a1a1a" stroke="#1a1a1a" stroke-width="0.3">CD83</text>
<text transform="translate(384.88,544.6) rotate(-90)" font-size="5.9" fill="#1a1a1a" stroke="#1a1a1a" stroke-width="0.3">CD56</text>
<text transform="translate(393.47,544.6) rotate(-90)" font-size="5.9" fill="#1a1a1a" stroke="#1a1a1a" stroke-width="0.3">CD123</text>
<text transform="translate(402.06,544.6) rotate(-90)" font-size="5.9" fill="#1a1a1a" stroke="#1a1a1a" stroke-width="0.3">CD138</text>
<text transform="translate(410.64,544.6) rotate(-90)" font-size="5.9" fill="#1a1a1a" stroke="#1a1a1a" stroke-width="0.3">CD38</text>
<text transform="translate(419.24,544.6) rotate(-90)" font-size="5.9" fill="#1a1a1a" stroke="#1a1a1a" stroke-width="0.3">CD141</text>
<text transform="translate(427.82,544.6) rotate(-90)" font-size="5.9" fill="#1a1a1a" stroke="#1a1a1a" stroke-width="0.3">CD117</text>
<text transform="translate(436.41,544.6) rotate(-90)" font-size="5.9" fill="#1a1a1a" stroke="#1a1a1a" stroke-width="0.3">CD71</text>
<rect x="59.80" y="546.60" width="7.55" height="9.15" fill="#de3826"/>
<rect x="67.20" y="546.60" width="7.55" height="9.15" fill="#ef7a5e"/>
<rect x="74.60" y="546.60" width="7.55" height="9.15" fill="#f4a891"/>
<rect x="82.00" y="546.60" width="7.55" height="9.15" fill="#f4a891"/>
<rect x="89.40" y="546.60" width="7.55" height="9.15" fill="#f5ae98"/>
<rect x="96.80" y="546.60" width="7.55" height="9.15" fill="#f6b49f"/>
<rect x="104.20" y="546.60" width="7.55" height="9.15" fill="#f7c4b3"/>
<rect x="111.60" y="546.60" width="7.55" height="9.15" fill="#f8caba"/>
<rect x="119.00" y="546.60" width="7.55" height="9.15" fill="#f8ccbd"/>
<rect x="126.40" y="546.60" width="7.55" height="9.15" fill="#f9cfc1"/>
<rect x="133.80" y="546.60" width="7.55" height="9.15" fill="#f9cfc1"/>
<rect x="141.20" y="546.60" width="7.55" height="9.15" fill="#fadfd5"/>
<rect x="148.60" y="546.60" width="7.55" height="9.15" fill="#e8e4f8"/>
<rect x="156.00" y="546.60" width="7.55" height="9.15" fill="#d2caf1"/>
<rect x="163.40" y="546.60" width="7.55" height="9.15" fill="#ccc4ef"/>
<rect x="170.80" y="546.60" width="7.55" height="9.15" fill="#c7bdec"/>
<rect x="178.20" y="546.60" width="7.55" height="9.15" fill="#bcb0e8"/>
<rect x="185.60" y="546.60" width="7.55" height="9.15" fill="#ab9de1"/>
<rect x="193.00" y="546.60" width="7.55" height="9.15" fill="#7e6dce"/>
<rect x="200.40" y="546.60" width="7.55" height="9.15" fill="#705fc8"/>
<rect x="207.80" y="546.60" width="7.55" height="9.15" fill="#6250c2"/>
<rect x="215.20" y="546.60" width="7.55" height="9.15" fill="#3430a4"/>
<rect x="59.80" y="555.60" width="7.55" height="8.95" fill="#fefefe"/>
<rect x="67.20" y="555.60" width="7.55" height="8.95" fill="#fbe4dc"/>
<rect x="74.60" y="555.60" width="7.55" height="8.95" fill="#fdf4f0"/>
<rect x="82.00" y="555.60" width="7.55" height="8.95" fill="#fadfd5"/>
<rect x="89.40" y="555.60" width="7.55" height="8.95" fill="#fdf4f0"/>
<rect x="96.80" y="555.60" width="7.55" height="8.95" fill="#dfdaf5"/>
<rect x="104.20" y="555.60" width="7.55" height="8.95" fill="#f8caba"/>
<rect x="111.60" y="555.60" width="7.55" height="8.95" fill="#fefefe"/>
<rect x="119.00" y="555.60" width="7.55" height="8.95" fill="#fbe4dc"/>
<rect x="126.40" y="555.60" width="7.55" height="8.95" fill="#fbe1d8"/>
<rect x="133.80" y="555.60" width="7.55" height="8.95" fill="#f5f4fb"/>
<rect x="141.20" y="555.60" width="7.55" height="8.95" fill="#fdf9f7"/>
<rect x="148.60" y="555.60" width="7.55" height="8.95" fill="#fefefe"/>
<rect x="156.00" y="555.60" width="7.55" height="8.95" fill="#ab9de1"/>
<rect x="163.40" y="555.60" width="7.55" height="8.95" fill="#e8e4f8"/>
<rect x="170.80" y="555.60" width="7.55" height="8.95" fill="#a597df"/>
<rect x="178.20" y="555.60" width="7.55" height="8.95" fill="#faf9fd"/>
<rect x="185.60" y="555.60" width="7.55" height="8.95" fill="#e4dff6"/>
<rect x="193.00" y="555.60" width="7.55" height="8.95" fill="#9a8ada"/>
<rect x="200.40" y="555.60" width="7.55" height="8.95" fill="#dbd4f4"/>
<rect x="207.80" y="555.60" width="7.55" height="8.95" fill="#fefefe"/>
<rect x="215.20" y="555.60" width="7.55" height="8.95" fill="#f1eefa"/>
<rect x="59.80" y="564.40" width="7.55" height="8.95" fill="#f6b49f"/>
<rect x="67.20" y="564.40" width="7.55" height="8.95" fill="#fefefe"/>
<rect x="74.60" y="564.40" width="7.55" height="8.95" fill="#fadfd5"/>
<rect x="82.00" y="564.40" width="7.55" height="8.95" fill="#fceeea"/>
<rect x="89.40" y="564.40" width="7.55" height="8.95" fill="#f4a891"/>
<rect x="96.80" y="564.40" width="7.55" height="8.95" fill="#f4a38a"/>
<rect x="104.20" y="564.40" width="7.55" height="8.95" fill="#fadfd5"/>
<rect x="111.60" y="564.40" width="7.55" height="8.95" fill="#8c7cd4"/>
<rect x="119.00" y="564.40" width="7.55" height="8.95" fill="#fdf9f7"/>
<rect x="126.40" y="564.40" width="7.55" height="8.95" fill="#fefefe"/>
<rect x="133.80" y="564.40" width="7.55" height="8.95" fill="#d2caf1"/>
<rect x="141.20" y="564.40" width="7.55" height="8.95" fill="#f1eefa"/>
<rect x="148.60" y="564.40" width="7.55" height="8.95" fill="#fefefe"/>
<rect x="156.00" y="564.40" width="7.55" height="8.95" fill="#6250c2"/>
<rect x="163.40" y="564.40" width="7.55" height="8.95" fill="#dfdaf5"/>
<rect x="170.80" y="564.40" width="7.55" height="8.95" fill="#5040b9"/>
<rect x="178.20" y="564.40" width="7.55" height="8.95" fill="#fefefe"/>
<rect x="185.60" y="564.40" width="7.55" height="8.95" fill="#d2caf1"/>
<rect x="193.00" y="564.40" width="7.55" height="8.95" fill="#fdf4f0"/>
<rect x="200.40" y="564.40" width="7.55" height="8.95" fill="#fdf9f7"/>
<rect x="207.80" y="564.40" width="7.55" height="8.95" fill="#f7bfac"/>
<rect x="215.20" y="564.40" width="7.55" height="8.95" fill="#f7bfac"/>
<rect x="59.80" y="599.80" width="7.55" height="9.05" fill="#d2caf1"/>
<rect x="67.20" y="599.80" width="7.55" height="9.05" fill="#fefefe"/>
<rect x="74.60" y="599.80" width="7.55" height="9.05" fill="#ab9de1"/>
<rect x="82.00" y="599.80" width="7.55" height="9.05" fill="#fefefe"/>
<rect x="89.40" y="599.80" width="7.55" height="9.05" fill="#fdf4f0"/>
<rect x="96.80" y="599.80" width="7.55" height="9.05" fill="#ece9f9"/>
<rect x="104.20" y="599.80" width="7.55" height="9.05" fill="#a597df"/>
<rect x="111.60" y="599.80" width="7.55" height="9.05" fill="#f4a38a"/>
<rect x="119.00" y="599.80" width="7.55" height="9.05" fill="#fefefe"/>
<rect x="126.40" y="599.80" width="7.55" height="9.05" fill="#fdf9f7"/>
<rect x="133.80" y="599.80" width="7.55" height="9.05" fill="#c7bdec"/>
<rect x="141.20" y="599.80" width="7.55" height="9.05" fill="#fefefe"/>
<rect x="148.60" y="599.80" width="7.55" height="9.05" fill="#f4a891"/>
<rect x="156.00" y="599.80" width="7.55" height="9.05" fill="#f4a891"/>
<rect x="163.40" y="599.80" width="7.55" height="9.05" fill="#f4a891"/>
<rect x="170.80" y="599.80" width="7.55" height="9.05" fill="#f39d84"/>
<rect x="178.20" y="599.80" width="7.55" height="9.05" fill="#fadfd5"/>
<rect x="185.60" y="599.80" width="7.55" height="9.05" fill="#faf9fd"/>
<rect x="193.00" y="599.80" width="7.55" height="9.05" fill="#ccc4ef"/>
<rect x="200.40" y="599.80" width="7.55" height="9.05" fill="#d2caf1"/>
<rect x="207.80" y="599.80" width="7.55" height="9.05" fill="#fdf4f0"/>
<rect x="215.20" y="599.80" width="7.55" height="9.05" fill="#fadfd5"/>
<rect x="59.80" y="608.70" width="7.55" height="9.35" fill="#f9d4c8"/>
<rect x="67.20" y="608.70" width="7.55" height="9.35" fill="#ab9de1"/>
<rect x="74.60" y="608.70" width="7.55" height="9.35" fill="#faf9fd"/>
<rect x="82.00" y="608.70" width="7.55" height="9.35" fill="#f1eefa"/>
<rect x="89.40" y="608.70" width="7.55" height="9.35" fill="#ef7a5e"/>
<rect x="96.80" y="608.70" width="7.55" height="9.35" fill="#f3987d"/>
<rect x="104.20" y="608.70" width="7.55" height="9.35" fill="#d2caf1"/>
<rect x="111.60" y="608.70" width="7.55" height="9.35" fill="#b0a4e3"/>
<rect x="119.00" y="608.70" width="7.55" height="9.35" fill="#e8e4f8"/>
<rect x="126.40" y="608.70" width="7.55" height="9.35" fill="#fadace"/>
<rect x="133.80" y="608.70" width="7.55" height="9.35" fill="#5040b9"/>
<rect x="141.20" y="608.70" width="7.55" height="9.35" fill="#e4dff6"/>
<rect x="148.60" y="608.70" width="7.55" height="9.35" fill="#fadace"/>
<rect x="156.00" y="608.70" width="7.55" height="9.35" fill="#fefefe"/>
<rect x="163.40" y="608.70" width="7.55" height="9.35" fill="#f08064"/>
<rect x="170.80" y="608.70" width="7.55" height="9.35" fill="#fefefe"/>
<rect x="178.20" y="608.70" width="7.55" height="9.35" fill="#ed6e52"/>
<rect x="185.60" y="608.70" width="7.55" height="9.35" fill="#c7bdec"/>
<rect x="193.00" y="608.70" width="7.55" height="9.35" fill="#f7bfac"/>
<rect x="200.40" y="608.70" width="7.55" height="9.35" fill="#fefefe"/>
<rect x="207.80" y="608.70" width="7.55" height="9.35" fill="#eb5c40"/>
<rect x="215.20" y="608.70" width="7.55" height="9.35" fill="#eb5c40"/>
<rect x="59.80" y="637.50" width="7.55" height="9.25" fill="#e03d29"/>
<rect x="67.20" y="637.50" width="7.55" height="9.25" fill="#f08064"/>
<rect x="74.60" y="637.50" width="7.55" height="9.25" fill="#f4a891"/>
<rect x="82.00" y="637.50" width="7.55" height="9.25" fill="#f4a891"/>
<rect x="89.40" y="637.50" width="7.55" height="9.25" fill="#f4a891"/>
<rect x="96.80" y="637.50" width="7.55" height="9.25" fill="#f5ae98"/>
<rect x="104.20" y="637.50" width="7.55" height="9.25" fill="#f7c4b3"/>
<rect x="111.60" y="637.50" width="7.55" height="9.25" fill="#f8caba"/>
<rect x="119.00" y="637.50" width="7.55" height="9.25" fill="#f8caba"/>
<rect x="126.40" y="637.50" width="7.55" height="9.25" fill="#f9cfc1"/>
<rect x="133.80" y="637.50" width="7.55" height="9.25" fill="#f9cfc1"/>
<rect x="141.20" y="637.50" width="7.55" height="9.25" fill="#fadace"/>
<rect x="148.60" y="637.50" width="7.55" height="9.25" fill="#e4dff6"/>
<rect x="156.00" y="637.50" width="7.55" height="9.25" fill="#c7bdec"/>
<rect x="163.40" y="637.50" width="7.55" height="9.25" fill="#c7bdec"/>
<rect x="170.80" y="637.50" width="7.55" height="9.25" fill="#c7bdec"/>
<rect x="178.20" y="637.50" width="7.55" height="9.25" fill="#bcb0e8"/>
<rect x="185.60" y="637.50" width="7.55" height="9.25" fill="#ab9de1"/>
<rect x="193.00" y="637.50" width="7.55" height="9.25" fill="#7766cb"/>
<rect x="200.40" y="637.50" width="7.55" height="9.25" fill="#705fc8"/>
<rect x="207.80" y="637.50" width="7.55" height="9.25" fill="#6958c5"/>
<rect x="215.20" y="637.50" width="7.55" height="9.25" fill="#3430a4"/>
<rect x="59.80" y="646.60" width="7.55" height="8.95" fill="#fefefe"/>
<rect x="67.20" y="646.60" width="7.55" height="8.95" fill="#fbe4dc"/>
<rect x="74.60" y="646.60" width="7.55" height="8.95" fill="#fdf4f0"/>
<rect x="82.00" y="646.60" width="7.55" height="8.95" fill="#fadfd5"/>
<rect x="89.40" y="646.60" width="7.55" height="8.95" fill="#fdf9f7"/>
<rect x="96.80" y="646.60" width="7.55" height="8.95" fill="#e4dff6"/>
<rect x="104.20" y="646.60" width="7.55" height="8.95" fill="#f8caba"/>
<rect x="111.60" y="646.60" width="7.55" height="8.95" fill="#faf9fd"/>
<rect x="119.00" y="646.60" width="7.55" height="8.95" fill="#fbe4dc"/>
<rect x="126.40" y="646.60" width="7.55" height="8.95" fill="#fadfd5"/>
<rect x="133.80" y="646.60" width="7.55" height="8.95" fill="#faf9fd"/>
<rect x="141.20" y="646.60" width="7.55" height="8.95" fill="#fdf9f7"/>
<rect x="148.60" y="646.60" width="7.55" height="8.95" fill="#fefefe"/>
<rect x="156.00" y="646.60" width="7.55" height="8.95" fill="#ab9de1"/>
<rect x="163.40" y="646.60" width="7.55" height="8.95" fill="#ece9f9"/>
<rect x="170.80" y="646.60" width="7.55" height="8.95" fill="#a597df"/>
<rect x="178.20" y="646.60" width="7.55" height="8.95" fill="#faf9fd"/>
<rect x="185.60" y="646.60" width="7.55" height="8.95" fill="#e4dff6"/>
<rect x="193.00" y="646.60" width="7.55" height="8.95" fill="#9a8ada"/>
<rect x="200.40" y="646.60" width="7.55" height="8.95" fill="#dfdaf5"/>
<rect x="207.80" y="646.60" width="7.55" height="8.95" fill="#fefefe"/>
<rect x="215.20" y="646.60" width="7.55" height="8.95" fill="#ece9f9"/>
<rect x="59.80" y="655.40" width="7.55" height="9.15" fill="#f7bfac"/>
<rect x="67.20" y="655.40" width="7.55" height="9.15" fill="#fefefe"/>
<rect x="74.60" y="655.40" width="7.55" height="9.15" fill="#fadfd5"/>
<rect x="82.00" y="655.40" width="7.55" height="9.15" fill="#fceeea"/>
<rect x="89.40" y="655.40" width="7.55" height="9.15" fill="#f6b49f"/>
<rect x="96.80" y="655.40" width="7.55" height="9.15" fill="#f5ae98"/>
<rect x="104.20" y="655.40" width="7.55" height="9.15" fill="#fce9e3"/>
<rect x="111.60" y="655.40" width="7.55" height="9.15" fill="#8c7cd4"/>
<rect x="119.00" y="655.40" width="7.55" height="9.15" fill="#fdf9f7"/>
<rect x="126.40" y="655.40" width="7.55" height="9.15" fill="#fefefe"/>
<rect x="133.80" y="655.40" width="7.55" height="9.15" fill="#e4dff6"/>
<rect x="141.20" y="655.40" width="7.55" height="9.15" fill="#f5f4fb"/>
<rect x="148.60" y="655.40" width="7.55" height="9.15" fill="#fefefe"/>
<rect x="156.00" y="655.40" width="7.55" height="9.15" fill="#5b49bf"/>
<rect x="163.40" y="655.40" width="7.55" height="9.15" fill="#dfdaf5"/>
<rect x="170.80" y="655.40" width="7.55" height="9.15" fill="#4c3eb6"/>
<rect x="178.20" y="655.40" width="7.55" height="9.15" fill="#fefefe"/>
<rect x="185.60" y="655.40" width="7.55" height="9.15" fill="#d2caf1"/>
<rect x="193.00" y="655.40" width="7.55" height="9.15" fill="#fadfd5"/>
<rect x="200.40" y="655.40" width="7.55" height="9.15" fill="#fdf9f7"/>
<rect x="207.80" y="655.40" width="7.55" height="9.15" fill="#f7bfac"/>
<rect x="215.20" y="655.40" width="7.55" height="9.15" fill="#f7bfac"/>
<rect x="275.40" y="547.00" width="8.74" height="9.35" fill="#fefefe"/>
<rect x="283.99" y="547.00" width="8.74" height="9.35" fill="#f8caba"/>
<rect x="292.58" y="547.00" width="8.74" height="9.35" fill="#fefefe"/>
<rect x="301.17" y="547.00" width="8.74" height="9.35" fill="#fceeea"/>
<rect x="309.76" y="547.00" width="8.74" height="9.35" fill="#fce9e3"/>
<rect x="318.35" y="547.00" width="8.74" height="9.35" fill="#fdf4f0"/>
<rect x="326.94" y="547.00" width="8.74" height="9.35" fill="#fdf9f7"/>
<rect x="335.53" y="547.00" width="8.74" height="9.35" fill="#fceeea"/>
<rect x="344.12" y="547.00" width="8.74" height="9.35" fill="#fbe4dc"/>
<rect x="352.71" y="547.00" width="8.74" height="9.35" fill="#fceeea"/>
<rect x="361.30" y="547.00" width="8.74" height="9.35" fill="#e4dff6"/>
<rect x="369.89" y="547.00" width="8.74" height="9.35" fill="#fefefe"/>
<rect x="378.48" y="547.00" width="8.74" height="9.35" fill="#dbd4f4"/>
<rect x="387.07" y="547.00" width="8.74" height="9.35" fill="#fdf6f3"/>
<rect x="395.66" y="547.00" width="8.74" height="9.35" fill="#f1eefa"/>
<rect x="404.25" y="547.00" width="8.74" height="9.35" fill="#4c3eb6"/>
<rect x="412.84" y="547.00" width="8.74" height="9.35" fill="#fefefe"/>
<rect x="421.43" y="547.00" width="8.74" height="9.35" fill="#9a8ada"/>
<rect x="430.02" y="547.00" width="8.74" height="9.35" fill="#f1eefa"/>
<rect x="275.40" y="556.20" width="8.74" height="8.75" fill="#e64c33"/>
<rect x="283.99" y="556.20" width="8.74" height="8.75" fill="#f6b9a6"/>
<rect x="292.58" y="556.20" width="8.74" height="8.75" fill="#f9cfc1"/>
<rect x="301.17" y="556.20" width="8.74" height="8.75" fill="#f9d4c8"/>
<rect x="309.76" y="556.20" width="8.74" height="8.75" fill="#f9d4c8"/>
<rect x="318.35" y="556.20" width="8.74" height="8.75" fill="#f9d6ca"/>
<rect x="326.94" y="556.20" width="8.74" height="8.75" fill="#fadcd1"/>
<rect x="335.53" y="556.20" width="8.74" height="8.75" fill="#fadcd1"/>
<rect x="344.12" y="556.20" width="8.74" height="8.75" fill="#fadcd1"/>
<rect x="352.71" y="556.20" width="8.74" height="8.75" fill="#e8e4f8"/>
<rect x="361.30" y="556.20" width="8.74" height="8.75" fill="#e8e4f8"/>
<rect x="369.89" y="556.20" width="8.74" height="8.75" fill="#e8e4f8"/>
<rect x="378.48" y="556.20" width="8.74" height="8.75" fill="#e8e4f8"/>
<rect x="387.07" y="556.20" width="8.74" height="8.75" fill="#dbd4f4"/>
<rect x="395.66" y="556.20" width="8.74" height="8.75" fill="#ccc4ef"/>
<rect x="404.25" y="556.20" width="8.74" height="8.75" fill="#b6aae6"/>
<rect x="412.84" y="556.20" width="8.74" height="8.75" fill="#ab9de1"/>
<rect x="421.43" y="556.20" width="8.74" height="8.75" fill="#6250c2"/>
<rect x="430.02" y="556.20" width="8.74" height="8.75" fill="#3c35aa"/>
<rect x="275.40" y="564.80" width="8.74" height="8.85" fill="#f3987d"/>
<rect x="283.99" y="564.80" width="8.74" height="8.85" fill="#ec6246"/>
<rect x="292.58" y="564.80" width="8.74" height="8.85" fill="#fceeea"/>
<rect x="301.17" y="564.80" width="8.74" height="8.85" fill="#f6b9a6"/>
<rect x="309.76" y="564.80" width="8.74" height="8.85" fill="#f6b49f"/>
<rect x="318.35" y="564.80" width="8.74" height="8.85" fill="#fefefe"/>
<rect x="326.94" y="564.80" width="8.74" height="8.85" fill="#fdf9f7"/>
<rect x="335.53" y="564.80" width="8.74" height="8.85" fill="#f7bfac"/>
<rect x="344.12" y="564.80" width="8.74" height="8.85" fill="#f4a891"/>
<rect x="352.71" y="564.80" width="8.74" height="8.85" fill="#e4dff6"/>
<rect x="361.30" y="564.80" width="8.74" height="8.85" fill="#c7bdec"/>
<rect x="369.89" y="564.80" width="8.74" height="8.85" fill="#bcb0e8"/>
<rect x="378.48" y="564.80" width="8.74" height="8.85" fill="#c7bdec"/>
<rect x="387.07" y="564.80" width="8.74" height="8.85" fill="#fefefe"/>
<rect x="395.66" y="564.80" width="8.74" height="8.85" fill="#bcb0e8"/>
<rect x="404.25" y="564.80" width="8.74" height="8.85" fill="#fefefe"/>
<rect x="412.84" y="564.80" width="8.74" height="8.85" fill="#c1b7ea"/>
<rect x="421.43" y="564.80" width="8.74" height="8.85" fill="#3833a7"/>
<rect x="430.02" y="564.80" width="8.74" height="8.85" fill="#3833a7"/>
<rect x="275.40" y="591.90" width="8.74" height="9.05" fill="#fefefe"/>
<rect x="283.99" y="591.90" width="8.74" height="9.05" fill="#ed6e52"/>
<rect x="292.58" y="591.90" width="8.74" height="9.05" fill="#fadfd5"/>
<rect x="301.17" y="591.90" width="8.74" height="9.05" fill="#f1eefa"/>
<rect x="309.76" y="591.90" width="8.74" height="9.05" fill="#fadfd5"/>
<rect x="318.35" y="591.90" width="8.74" height="9.05" fill="#fdf2ee"/>
<rect x="326.94" y="591.90" width="8.74" height="9.05" fill="#fceeea"/>
<rect x="335.53" y="591.90" width="8.74" height="9.05" fill="#ece9f9"/>
<rect x="344.12" y="591.90" width="8.74" height="9.05" fill="#f29276"/>
<rect x="352.71" y="591.90" width="8.74" height="9.05" fill="#f9cfc1"/>
<rect x="361.30" y="591.90" width="8.74" height="9.05" fill="#a597df"/>
<rect x="369.89" y="591.90" width="8.74" height="9.05" fill="#fefefe"/>
<rect x="378.48" y="591.90" width="8.74" height="9.05" fill="#483bb3"/>
<rect x="387.07" y="591.90" width="8.74" height="9.05" fill="#fadfd5"/>
<rect x="395.66" y="591.90" width="8.74" height="9.05" fill="#f9cfc1"/>
<rect x="404.25" y="591.90" width="8.74" height="9.05" fill="#5442bc"/>
<rect x="412.84" y="591.90" width="8.74" height="9.05" fill="#fefefe"/>
<rect x="421.43" y="591.90" width="8.74" height="9.05" fill="#7e6dce"/>
<rect x="430.02" y="591.90" width="8.74" height="9.05" fill="#ab9de1"/>
<rect x="275.40" y="600.80" width="8.74" height="9.15" fill="#f3987d"/>
<rect x="283.99" y="600.80" width="8.74" height="9.15" fill="#f18c70"/>
<rect x="292.58" y="600.80" width="8.74" height="9.15" fill="#f4a891"/>
<rect x="301.17" y="600.80" width="8.74" height="9.15" fill="#fefefe"/>
<rect x="309.76" y="600.80" width="8.74" height="9.15" fill="#fefefe"/>
<rect x="318.35" y="600.80" width="8.74" height="9.15" fill="#fadfd5"/>
<rect x="326.94" y="600.80" width="8.74" height="9.15" fill="#f6b49f"/>
<rect x="335.53" y="600.80" width="8.74" height="9.15" fill="#faf9fd"/>
<rect x="344.12" y="600.80" width="8.74" height="9.15" fill="#f3987d"/>
<rect x="352.71" y="600.80" width="8.74" height="9.15" fill="#fefefe"/>
<rect x="361.30" y="600.80" width="8.74" height="9.15" fill="#a597df"/>
<rect x="369.89" y="600.80" width="8.74" height="9.15" fill="#d2caf1"/>
<rect x="378.48" y="600.80" width="8.74" height="9.15" fill="#4037ad"/>
<rect x="387.07" y="600.80" width="8.74" height="9.15" fill="#e4dff6"/>
<rect x="395.66" y="600.80" width="8.74" height="9.15" fill="#dbd4f4"/>
<rect x="404.25" y="600.80" width="8.74" height="9.15" fill="#fefefe"/>
<rect x="412.84" y="600.80" width="8.74" height="9.15" fill="#ab9de1"/>
<rect x="421.43" y="600.80" width="8.74" height="9.15" fill="#6250c2"/>
<rect x="430.02" y="600.80" width="8.74" height="9.15" fill="#3833a7"/>
<rect x="275.40" y="609.80" width="8.74" height="9.15" fill="#fefefe"/>
<rect x="283.99" y="609.80" width="8.74" height="9.15" fill="#dc3322"/>
<rect x="292.58" y="609.80" width="8.74" height="9.15" fill="#fceeea"/>
<rect x="301.17" y="609.80" width="8.74" height="9.15" fill="#fadfd5"/>
<rect x="309.76" y="609.80" width="8.74" height="9.15" fill="#fadfd5"/>
<rect x="318.35" y="609.80" width="8.74" height="9.15" fill="#f5f4fb"/>
<rect x="326.94" y="609.80" width="8.74" height="9.15" fill="#f6b9a6"/>
<rect x="335.53" y="609.80" width="8.74" height="9.15" fill="#e8e4f8"/>
<rect x="344.12" y="609.80" width="8.74" height="9.15" fill="#ec6246"/>
<rect x="352.71" y="609.80" width="8.74" height="9.15" fill="#fefefe"/>
<rect x="361.30" y="609.80" width="8.74" height="9.15" fill="#a597df"/>
<rect x="369.89" y="609.80" width="8.74" height="9.15" fill="#d2caf1"/>
<rect x="378.48" y="609.80" width="8.74" height="9.15" fill="#4037ad"/>
<rect x="387.07" y="609.80" width="8.74" height="9.15" fill="#ab9de1"/>
<rect x="395.66" y="609.80" width="8.74" height="9.15" fill="#f5f4fb"/>
<rect x="404.25" y="609.80" width="8.74" height="9.15" fill="#faf9fd"/>
<rect x="412.84" y="609.80" width="8.74" height="9.15" fill="#ab9de1"/>
<rect x="421.43" y="609.80" width="8.74" height="9.15" fill="#3833a7"/>
<rect x="430.02" y="609.80" width="8.74" height="9.15" fill="#3833a7"/>
<rect x="275.40" y="636.20" width="8.74" height="9.15" fill="#fefefe"/>
<rect x="283.99" y="636.20" width="8.74" height="9.15" fill="#f8caba"/>
<rect x="292.58" y="636.20" width="8.74" height="9.15" fill="#f5f4fb"/>
<rect x="301.17" y="636.20" width="8.74" height="9.15" fill="#fceeea"/>
<rect x="309.76" y="636.20" width="8.74" height="9.15" fill="#f9cfc1"/>
<rect x="318.35" y="636.20" width="8.74" height="9.15" fill="#fdf4f0"/>
<rect x="326.94" y="636.20" width="8.74" height="9.15" fill="#fefefe"/>
<rect x="335.53" y="636.20" width="8.74" height="9.15" fill="#fadfd5"/>
<rect x="344.12" y="636.20" width="8.74" height="9.15" fill="#fadfd5"/>
<rect x="352.71" y="636.20" width="8.74" height="9.15" fill="#fadace"/>
<rect x="361.30" y="636.20" width="8.74" height="9.15" fill="#dbd4f4"/>
<rect x="369.89" y="636.20" width="8.74" height="9.15" fill="#fefefe"/>
<rect x="378.48" y="636.20" width="8.74" height="9.15" fill="#e4dff6"/>
<rect x="387.07" y="636.20" width="8.74" height="9.15" fill="#fefefe"/>
<rect x="395.66" y="636.20" width="8.74" height="9.15" fill="#e8e4f8"/>
<rect x="404.25" y="636.20" width="8.74" height="9.15" fill="#4439b0"/>
<rect x="412.84" y="636.20" width="8.74" height="9.15" fill="#fefefe"/>
<rect x="421.43" y="636.20" width="8.74" height="9.15" fill="#ab9de1"/>
<rect x="430.02" y="636.20" width="8.74" height="9.15" fill="#fefefe"/>
<rect x="275.40" y="645.20" width="8.74" height="9.25" fill="#ea563a"/>
<rect x="283.99" y="645.20" width="8.74" height="9.25" fill="#f6b9a6"/>
<rect x="292.58" y="645.20" width="8.74" height="9.25" fill="#f9d4c8"/>
<rect x="301.17" y="645.20" width="8.74" height="9.25" fill="#f9d4c8"/>
<rect x="309.76" y="645.20" width="8.74" height="9.25" fill="#f7c4b3"/>
<rect x="318.35" y="645.20" width="8.74" height="9.25" fill="#f9d4c8"/>
<rect x="326.94" y="645.20" width="8.74" height="9.25" fill="#f9d4c8"/>
<rect x="335.53" y="645.20" width="8.74" height="9.25" fill="#fadace"/>
<rect x="344.12" y="645.20" width="8.74" height="9.25" fill="#fadace"/>
<rect x="352.71" y="645.20" width="8.74" height="9.25" fill="#f1eefa"/>
<rect x="361.30" y="645.20" width="8.74" height="9.25" fill="#dbd4f4"/>
<rect x="369.89" y="645.20" width="8.74" height="9.25" fill="#e4dff6"/>
<rect x="378.48" y="645.20" width="8.74" height="9.25" fill="#e4dff6"/>
<rect x="387.07" y="645.20" width="8.74" height="9.25" fill="#d2caf1"/>
<rect x="395.66" y="645.20" width="8.74" height="9.25" fill="#c1b7ea"/>
<rect x="404.25" y="645.20" width="8.74" height="9.25" fill="#b6aae6"/>
<rect x="412.84" y="645.20" width="8.74" height="9.25" fill="#d2caf1"/>
<rect x="421.43" y="645.20" width="8.74" height="9.25" fill="#5040b9"/>
<rect x="430.02" y="645.20" width="8.74" height="9.25" fill="#4c3eb6"/>
<rect x="275.40" y="654.30" width="8.74" height="9.15" fill="#eb5c40"/>
<rect x="283.99" y="654.30" width="8.74" height="9.15" fill="#ed6e52"/>
<rect x="292.58" y="654.30" width="8.74" height="9.15" fill="#f7c4b3"/>
<rect x="301.17" y="654.30" width="8.74" height="9.15" fill="#f7c4b3"/>
<rect x="309.76" y="654.30" width="8.74" height="9.15" fill="#ee7458"/>
<rect x="318.35" y="654.30" width="8.74" height="9.15" fill="#fce9e3"/>
<rect x="326.94" y="654.30" width="8.74" height="9.15" fill="#fdf9f7"/>
<rect x="335.53" y="654.30" width="8.74" height="9.15" fill="#fadace"/>
<rect x="344.12" y="654.30" width="8.74" height="9.15" fill="#f4a891"/>
<rect x="352.71" y="654.30" width="8.74" height="9.15" fill="#d2caf1"/>
<rect x="361.30" y="654.30" width="8.74" height="9.15" fill="#ab9de1"/>
<rect x="369.89" y="654.30" width="8.74" height="9.15" fill="#ab9de1"/>
<rect x="378.48" y="654.30" width="8.74" height="9.15" fill="#d2caf1"/>
<rect x="387.07" y="654.30" width="8.74" height="9.15" fill="#c7bdec"/>
<rect x="395.66" y="654.30" width="8.74" height="9.15" fill="#ab9de1"/>
<rect x="404.25" y="654.30" width="8.74" height="9.15" fill="#f5f4fb"/>
<rect x="412.84" y="654.30" width="8.74" height="9.15" fill="#e8e4f8"/>
<rect x="421.43" y="654.30" width="8.74" height="9.15" fill="#3833a7"/>
<rect x="430.02" y="654.30" width="8.74" height="9.15" fill="#3833a7"/>
<rect x="275.40" y="682.90" width="8.74" height="9.05" fill="#fdf9f7"/>
<rect x="283.99" y="682.90" width="8.74" height="9.05" fill="#fce9e3"/>
<rect x="292.58" y="682.90" width="8.74" height="9.05" fill="#fdf9f7"/>
<rect x="301.17" y="682.90" width="8.74" height="9.05" fill="#fadfd5"/>
<rect x="309.76" y="682.90" width="8.74" height="9.05" fill="#fefefe"/>
<rect x="318.35" y="682.90" width="8.74" height="9.05" fill="#fce9e3"/>
<rect x="326.94" y="682.90" width="8.74" height="9.05" fill="#fdf9f7"/>
<rect x="335.53" y="682.90" width="8.74" height="9.05" fill="#fceeea"/>
<rect x="344.12" y="682.90" width="8.74" height="9.05" fill="#fce9e3"/>
<rect x="352.71" y="682.90" width="8.74" height="9.05" fill="#fefefe"/>
<rect x="361.30" y="682.90" width="8.74" height="9.05" fill="#f1eefa"/>
<rect x="369.89" y="682.90" width="8.74" height="9.05" fill="#e8e4f8"/>
<rect x="378.48" y="682.90" width="8.74" height="9.05" fill="#faf9fd"/>
<rect x="387.07" y="682.90" width="8.74" height="9.05" fill="#f9d4c8"/>
<rect x="395.66" y="682.90" width="8.74" height="9.05" fill="#f5f4fb"/>
<rect x="404.25" y="682.90" width="8.74" height="9.05" fill="#705fc8"/>
<rect x="412.84" y="682.90" width="8.74" height="9.05" fill="#e4dff6"/>
<rect x="421.43" y="682.90" width="8.74" height="9.05" fill="#a597df"/>
<rect x="430.02" y="682.90" width="8.74" height="9.05" fill="#ece9f9"/>
<rect x="275.40" y="691.80" width="8.74" height="9.15" fill="#e03d29"/>
<rect x="283.99" y="691.80" width="8.74" height="9.15" fill="#f6b9a6"/>
<rect x="292.58" y="691.80" width="8.74" height="9.15" fill="#f6b9a6"/>
<rect x="301.17" y="691.80" width="8.74" height="9.15" fill="#f7bfac"/>
<rect x="309.76" y="691.80" width="8.74" height="9.15" fill="#fceeea"/>
<rect x="318.35" y="691.80" width="8.74" height="9.15" fill="#fdf2ee"/>
<rect x="326.94" y="691.80" width="8.74" height="9.15" fill="#fdf2ee"/>
<rect x="335.53" y="691.80" width="8.74" height="9.15" fill="#fceeea"/>
<rect x="344.12" y="691.80" width="8.74" height="9.15" fill="#fefefe"/>
<rect x="352.71" y="691.80" width="8.74" height="9.15" fill="#c7bdec"/>
<rect x="361.30" y="691.80" width="8.74" height="9.15" fill="#fefefe"/>
<rect x="369.89" y="691.80" width="8.74" height="9.15" fill="#dbd4f4"/>
<rect x="378.48" y="691.80" width="8.74" height="9.15" fill="#fefefe"/>
<rect x="387.07" y="691.80" width="8.74" height="9.15" fill="#f1eefa"/>
<rect x="395.66" y="691.80" width="8.74" height="9.15" fill="#c7bdec"/>
<rect x="404.25" y="691.80" width="8.74" height="9.15" fill="#b6aae6"/>
<rect x="412.84" y="691.80" width="8.74" height="9.15" fill="#6958c5"/>
<rect x="421.43" y="691.80" width="8.74" height="9.15" fill="#5442bc"/>
<rect x="430.02" y="691.80" width="8.74" height="9.15" fill="#3833a7"/>
<rect x="275.40" y="700.80" width="8.74" height="9.05" fill="#f9cfc1"/>
<rect x="283.99" y="700.80" width="8.74" height="9.05" fill="#f4a891"/>
<rect x="292.58" y="700.80" width="8.74" height="9.05" fill="#fefefe"/>
<rect x="301.17" y="700.80" width="8.74" height="9.05" fill="#f4a891"/>
<rect x="309.76" y="700.80" width="8.74" height="9.05" fill="#fceeea"/>
<rect x="318.35" y="700.80" width="8.74" height="9.05" fill="#f5f4fb"/>
<rect x="326.94" y="700.80" width="8.74" height="9.05" fill="#fdf9f7"/>
<rect x="335.53" y="700.80" width="8.74" height="9.05" fill="#f3987d"/>
<rect x="344.12" y="700.80" width="8.74" height="9.05" fill="#f7c4b3"/>
<rect x="352.71" y="700.80" width="8.74" height="9.05" fill="#dbd4f4"/>
<rect x="361.30" y="700.80" width="8.74" height="9.05" fill="#d2caf1"/>
<rect x="369.89" y="700.80" width="8.74" height="9.05" fill="#705fc8"/>
<rect x="378.48" y="700.80" width="8.74" height="9.05" fill="#c7bdec"/>
<rect x="387.07" y="700.80" width="8.74" height="9.05" fill="#fdf4f0"/>
<rect x="395.66" y="700.80" width="8.74" height="9.05" fill="#9a8ada"/>
<rect x="404.25" y="700.80" width="8.74" height="9.05" fill="#fbe4dc"/>
<rect x="412.84" y="700.80" width="8.74" height="9.05" fill="#ab9de1"/>
<rect x="421.43" y="700.80" width="8.74" height="9.05" fill="#3833a7"/>
<rect x="430.02" y="700.80" width="8.74" height="9.05" fill="#4c3eb6"/>
<rect x="60.3" y="590.6" width="163" height="8.6" fill="#c2c2c2" stroke="#3a3a3a" stroke-width="0.9"/>
<text x="145.20" y="597.00" font-size="6.5" fill="#222" text-anchor="middle" font-style="italic" textLength="49.6" lengthAdjust="spacingAndGlyphs" stroke="#222" stroke-width="0.22">No cells detected</text>
<text x="132.10" y="587.10" font-size="6.5" fill="#222" textLength="20.6" lengthAdjust="spacingAndGlyphs" stroke="#222" stroke-width="0.22">Clone2</text>
<text x="131.30" y="633.20" font-size="6.5" fill="#222" textLength="20.8" lengthAdjust="spacingAndGlyphs" stroke="#222" stroke-width="0.22">Clone3</text>
<text x="346.70" y="588.00" font-size="6.5" fill="#222" textLength="20.3" lengthAdjust="spacingAndGlyphs" stroke="#222" stroke-width="0.22">Clone4</text>
<text x="346.70" y="633.00" font-size="6.5" fill="#222" textLength="20.3" lengthAdjust="spacingAndGlyphs" stroke="#222" stroke-width="0.22">Clone5</text>
<text x="346.70" y="679.30" font-size="6.5" fill="#222" textLength="20.3" lengthAdjust="spacingAndGlyphs" stroke="#222" stroke-width="0.22">Clone6</text>
<text x="227.60" y="553.90" font-size="6.4" fill="#111" stroke="#111" stroke-width="0.22">IVO</text>
<text x="227.30" y="562.60" font-size="6.4" fill="#111" stroke="#111" stroke-width="0.22">ENA</text>
<text x="228.90" y="571.60" font-size="6.4" fill="#111" stroke="#111" stroke-width="0.22">IVO+ENA</text>
<text x="227.60" y="599.90" font-size="6.4" fill="#111" stroke="#111" stroke-width="0.22">IVO</text>
<text x="227.30" y="608.60" font-size="6.4" fill="#111" stroke="#111" stroke-width="0.22">ENA</text>
<text x="228.90" y="617.80" font-size="6.4" fill="#111" stroke="#111" stroke-width="0.22">IVO+ENA</text>
<text x="227.60" y="645.80" font-size="6.4" fill="#111" stroke="#111" stroke-width="0.22">IVO</text>
<text x="227.30" y="654.40" font-size="6.4" fill="#111" stroke="#111" stroke-width="0.22">ENA</text>
<text x="228.90" y="663.60" font-size="6.4" fill="#111" stroke="#111" stroke-width="0.22">IVO+ENA</text>
<text x="442.40" y="553.50" font-size="6.4" fill="#111" stroke="#111" stroke-width="0.22">IVO</text>
<text x="443.00" y="562.40" font-size="6.4" fill="#111" stroke="#111" stroke-width="0.22">ENA</text>
<text x="444.60" y="571.80" font-size="6.4" fill="#111" stroke="#111" stroke-width="0.22">IVO+ENA</text>
<text x="442.40" y="600.00" font-size="6.4" fill="#111" stroke="#111" stroke-width="0.22">IVO</text>
<text x="443.00" y="608.80" font-size="6.4" fill="#111" stroke="#111" stroke-width="0.22">ENA</text>
<text x="444.60" y="618.20" font-size="6.4" fill="#111" stroke="#111" stroke-width="0.22">IVO+ENA</text>
<text x="442.40" y="645.30" font-size="6.4" fill="#111" stroke="#111" stroke-width="0.22">IVO</text>
<text x="443.00" y="654.10" font-size="6.4" fill="#111" stroke="#111" stroke-width="0.22">ENA</text>
<text x="444.60" y="663.50" font-size="6.4" fill="#111" stroke="#111" stroke-width="0.22">IVO+ENA</text>
<text x="442.40" y="692.40" font-size="6.4" fill="#111" stroke="#111" stroke-width="0.22">IVO</text>
<text x="443.00" y="701.20" font-size="6.4" fill="#111" stroke="#111" stroke-width="0.22">ENA</text>
<text x="444.60" y="710.00" font-size="6.4" fill="#111" stroke="#111" stroke-width="0.22">IVO+ENA</text>
<text x="75.60" y="692.30" font-size="6.4" fill="#333" font-style="italic" textLength="69.2" lengthAdjust="spacingAndGlyphs" stroke="#333" stroke-width="0.22">Diff. in mean normalized</text>
<text x="80.00" y="701.00" font-size="6.4" fill="#333" font-style="italic" textLength="60.6" lengthAdjust="spacingAndGlyphs" stroke="#333" stroke-width="0.22">counts versus Vehicle</text>
<defs><linearGradient id="fg" x1="0" y1="0" x2="1" y2="0"><stop offset="0.000" stop-color="#2c2c9e"/><stop offset="0.125" stop-color="#5442bc"/><stop offset="0.250" stop-color="#9a8ada"/><stop offset="0.375" stop-color="#d2caf1"/><stop offset="0.500" stop-color="#fefefe"/><stop offset="0.625" stop-color="#f8caba"/><stop offset="0.750" stop-color="#f29276"/><stop offset="0.875" stop-color="#ea563a"/><stop offset="1.000" stop-color="#d62418"/></linearGradient></defs>
<rect x="172.7" y="688.3" width="42.1" height="8.4" fill="url(#fg)"/>
<text x="175.00" y="706.80" font-size="6.3" fill="#222" text-anchor="middle" stroke="#222" stroke-width="0.22">−2</text>
<text x="183.80" y="706.80" font-size="6.3" fill="#222" text-anchor="middle" stroke="#222" stroke-width="0.22">−1</text>
<text x="193.60" y="706.80" font-size="6.3" fill="#222" text-anchor="middle" stroke="#222" stroke-width="0.22">0</text>
<text x="203.30" y="706.80" font-size="6.3" fill="#222" text-anchor="middle" stroke="#222" stroke-width="0.22">1</text>
<text x="212.80" y="706.80" font-size="6.3" fill="#222" text-anchor="middle" stroke="#222" stroke-width="0.22">2</text>
<rect x="0.5" y="0.5" width="519" height="722" fill="none" stroke="#3a3a3a" stroke-width="1.2"/>
</svg></body></html>
